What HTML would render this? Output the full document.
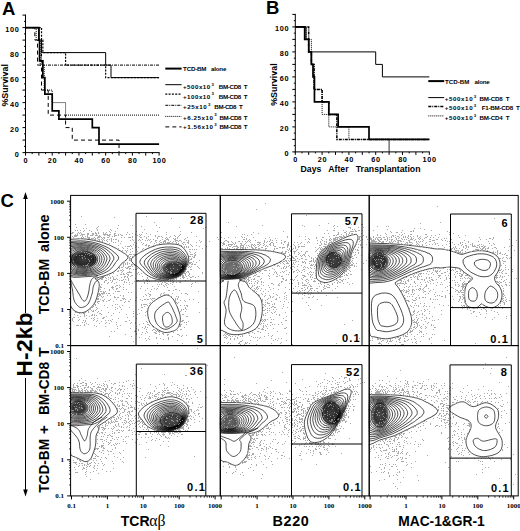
<!DOCTYPE html>
<html><head><meta charset="utf-8"><style>
html,body{margin:0;padding:0;background:#fff;}
svg{display:block;}
</style></head><body>
<svg width="520" height="531" viewBox="0 0 520 531">
<rect width="520" height="531" fill="#fff"/>
<text x="2.00" y="15.20" font-size="18.5" font-weight="bold" text-anchor="start" font-family='"Liberation Sans", sans-serif' >A</text>
<line x1="25.50" y1="14.60" x2="25.50" y2="153.10" stroke="#000" stroke-width="1" />
<line x1="25.00" y1="152.60" x2="159.60" y2="152.60" stroke="#000" stroke-width="1" />
<line x1="22.50" y1="152.60" x2="25.50" y2="152.60" stroke="#000" stroke-width="1" />
<line x1="24.00" y1="146.35" x2="25.50" y2="146.35" stroke="#000" stroke-width="1" />
<line x1="22.50" y1="140.10" x2="25.50" y2="140.10" stroke="#000" stroke-width="1" />
<line x1="24.00" y1="133.85" x2="25.50" y2="133.85" stroke="#000" stroke-width="1" />
<line x1="22.50" y1="127.60" x2="25.50" y2="127.60" stroke="#000" stroke-width="1" />
<line x1="24.00" y1="121.35" x2="25.50" y2="121.35" stroke="#000" stroke-width="1" />
<line x1="22.50" y1="115.10" x2="25.50" y2="115.10" stroke="#000" stroke-width="1" />
<line x1="24.00" y1="108.85" x2="25.50" y2="108.85" stroke="#000" stroke-width="1" />
<line x1="22.50" y1="102.60" x2="25.50" y2="102.60" stroke="#000" stroke-width="1" />
<line x1="24.00" y1="96.35" x2="25.50" y2="96.35" stroke="#000" stroke-width="1" />
<line x1="22.50" y1="90.10" x2="25.50" y2="90.10" stroke="#000" stroke-width="1" />
<line x1="24.00" y1="83.85" x2="25.50" y2="83.85" stroke="#000" stroke-width="1" />
<line x1="22.50" y1="77.60" x2="25.50" y2="77.60" stroke="#000" stroke-width="1" />
<line x1="24.00" y1="71.35" x2="25.50" y2="71.35" stroke="#000" stroke-width="1" />
<line x1="22.50" y1="65.10" x2="25.50" y2="65.10" stroke="#000" stroke-width="1" />
<line x1="24.00" y1="58.85" x2="25.50" y2="58.85" stroke="#000" stroke-width="1" />
<line x1="22.50" y1="52.60" x2="25.50" y2="52.60" stroke="#000" stroke-width="1" />
<line x1="24.00" y1="46.35" x2="25.50" y2="46.35" stroke="#000" stroke-width="1" />
<line x1="22.50" y1="40.10" x2="25.50" y2="40.10" stroke="#000" stroke-width="1" />
<line x1="24.00" y1="33.85" x2="25.50" y2="33.85" stroke="#000" stroke-width="1" />
<line x1="22.50" y1="27.60" x2="25.50" y2="27.60" stroke="#000" stroke-width="1" />
<line x1="24.00" y1="21.35" x2="25.50" y2="21.35" stroke="#000" stroke-width="1" />
<line x1="22.50" y1="15.10" x2="25.50" y2="15.10" stroke="#000" stroke-width="1" />
<text x="19.30" y="156.80" font-size="7.3" font-weight="bold" text-anchor="end" font-family='"Liberation Sans", sans-serif' letter-spacing="0.6">0</text>
<text x="19.30" y="131.80" font-size="7.3" font-weight="bold" text-anchor="end" font-family='"Liberation Sans", sans-serif' letter-spacing="0.6">20</text>
<text x="19.30" y="106.80" font-size="7.3" font-weight="bold" text-anchor="end" font-family='"Liberation Sans", sans-serif' letter-spacing="0.6">40</text>
<text x="19.30" y="81.80" font-size="7.3" font-weight="bold" text-anchor="end" font-family='"Liberation Sans", sans-serif' letter-spacing="0.6">60</text>
<text x="19.30" y="56.80" font-size="7.3" font-weight="bold" text-anchor="end" font-family='"Liberation Sans", sans-serif' letter-spacing="0.6">80</text>
<text x="19.30" y="31.80" font-size="7.3" font-weight="bold" text-anchor="end" font-family='"Liberation Sans", sans-serif' letter-spacing="0.6">100</text>
<line x1="25.50" y1="152.60" x2="25.50" y2="155.60" stroke="#000" stroke-width="1" />
<line x1="32.18" y1="152.60" x2="32.18" y2="154.10" stroke="#000" stroke-width="1" />
<line x1="38.86" y1="152.60" x2="38.86" y2="155.60" stroke="#000" stroke-width="1" />
<line x1="45.54" y1="152.60" x2="45.54" y2="154.10" stroke="#000" stroke-width="1" />
<line x1="52.22" y1="152.60" x2="52.22" y2="155.60" stroke="#000" stroke-width="1" />
<line x1="58.90" y1="152.60" x2="58.90" y2="154.10" stroke="#000" stroke-width="1" />
<line x1="65.58" y1="152.60" x2="65.58" y2="155.60" stroke="#000" stroke-width="1" />
<line x1="72.26" y1="152.60" x2="72.26" y2="154.10" stroke="#000" stroke-width="1" />
<line x1="78.94" y1="152.60" x2="78.94" y2="155.60" stroke="#000" stroke-width="1" />
<line x1="85.62" y1="152.60" x2="85.62" y2="154.10" stroke="#000" stroke-width="1" />
<line x1="92.30" y1="152.60" x2="92.30" y2="155.60" stroke="#000" stroke-width="1" />
<line x1="98.98" y1="152.60" x2="98.98" y2="154.10" stroke="#000" stroke-width="1" />
<line x1="105.66" y1="152.60" x2="105.66" y2="155.60" stroke="#000" stroke-width="1" />
<line x1="112.34" y1="152.60" x2="112.34" y2="154.10" stroke="#000" stroke-width="1" />
<line x1="119.02" y1="152.60" x2="119.02" y2="155.60" stroke="#000" stroke-width="1" />
<line x1="125.70" y1="152.60" x2="125.70" y2="154.10" stroke="#000" stroke-width="1" />
<line x1="132.38" y1="152.60" x2="132.38" y2="155.60" stroke="#000" stroke-width="1" />
<line x1="139.06" y1="152.60" x2="139.06" y2="154.10" stroke="#000" stroke-width="1" />
<line x1="145.74" y1="152.60" x2="145.74" y2="155.60" stroke="#000" stroke-width="1" />
<line x1="152.42" y1="152.60" x2="152.42" y2="154.10" stroke="#000" stroke-width="1" />
<line x1="159.10" y1="152.60" x2="159.10" y2="155.60" stroke="#000" stroke-width="1" />
<text x="25.80" y="163.00" font-size="7.3" font-weight="bold" text-anchor="middle" font-family='"Liberation Sans", sans-serif' letter-spacing="0.6">0</text>
<text x="52.52" y="163.00" font-size="7.3" font-weight="bold" text-anchor="middle" font-family='"Liberation Sans", sans-serif' letter-spacing="0.6">20</text>
<text x="79.24" y="163.00" font-size="7.3" font-weight="bold" text-anchor="middle" font-family='"Liberation Sans", sans-serif' letter-spacing="0.6">40</text>
<text x="105.96" y="163.00" font-size="7.3" font-weight="bold" text-anchor="middle" font-family='"Liberation Sans", sans-serif' letter-spacing="0.6">60</text>
<text x="132.68" y="163.00" font-size="7.3" font-weight="bold" text-anchor="middle" font-family='"Liberation Sans", sans-serif' letter-spacing="0.6">80</text>
<text x="159.40" y="163.00" font-size="7.3" font-weight="bold" text-anchor="middle" font-family='"Liberation Sans", sans-serif' letter-spacing="0.6">100</text>
<text transform="translate(8.00,85.30) rotate(-90)" font-size="8.9" font-weight="bold" text-anchor="middle" font-family='"Liberation Sans", sans-serif'>%Survival</text>
<polyline points="25.50,27.60 38.86,27.60 38.86,40.10 39.53,40.10 39.53,60.97 42.87,60.97 42.87,77.60 44.87,77.60 44.87,94.22 52.22,94.22 52.22,110.97 58.90,110.97 58.90,119.22 92.30,119.22 92.30,127.60 98.98,127.60 98.98,144.22 159.10,144.22 159.10,144.22" fill="none" stroke="#000" stroke-width="1.7" />
<polyline points="25.50,27.60 38.86,27.60 38.86,40.10 41.53,40.10 41.53,52.60 105.66,52.60 105.66,65.10 111.00,65.10 111.00,77.60 159.10,77.60 159.10,77.60" fill="none" stroke="#000" stroke-width="1" />
<polyline points="25.50,27.60 41.53,27.60 41.53,40.10 42.87,40.10 42.87,52.60 65.58,52.60 65.58,65.10 105.66,65.10 105.66,77.60 159.10,77.60 159.10,77.60" fill="none" stroke="#000" stroke-width="1.2" stroke-dasharray="2,1.3"/>
<polyline points="25.50,27.60 38.86,27.60 38.86,40.10 41.53,40.10 41.53,65.10 159.10,65.10 159.10,65.10" fill="none" stroke="#000" stroke-width="1" stroke-dasharray="3,1,1,1"/>
<polyline points="25.50,27.60 36.19,27.60 36.19,40.10 40.20,40.10 40.20,65.10 44.20,65.10 44.20,90.10 52.22,90.10 52.22,102.60 65.58,102.60 65.58,115.10 159.10,115.10 159.10,115.10" fill="none" stroke="#000" stroke-width="1" stroke-dasharray="1,1"/>
<polyline points="25.50,27.60 34.85,27.60 34.85,40.10 37.52,40.10 37.52,65.10 41.53,65.10 41.53,90.10 48.21,90.10 48.21,115.10 65.58,115.10 65.58,127.60 72.26,127.60 72.26,140.10 119.02,140.10 119.02,152.60" fill="none" stroke="#000" stroke-width="1" stroke-dasharray="4,3"/>
<line x1="165.30" y1="68.60" x2="181.60" y2="68.60" stroke="#000" stroke-width="2" />
<text x="183.10" y="71.00" font-family='"Liberation Sans", sans-serif' font-weight="bold" font-size="6.2" textLength="23.30" lengthAdjust="spacing">TCD-BM</text><text x="211.00" y="71.00" font-family='"Liberation Sans", sans-serif' font-weight="bold" font-size="6.2" textLength="15.40" lengthAdjust="spacing">alone</text>
<line x1="165.30" y1="84.70" x2="181.60" y2="84.70" stroke="#000" stroke-width="1" />
<text x="183.00" y="88.80" font-family='"Liberation Sans", sans-serif' font-weight="bold" font-size="6.2" textLength="27.20" lengthAdjust="spacing">+500x10</text><text x="211.60" y="85.60" font-family='"Liberation Sans", sans-serif' font-weight="bold" font-size="4.3">3</text><text x="218.80" y="88.80" font-family='"Liberation Sans", sans-serif' font-weight="bold" font-size="6.2" textLength="28.80" lengthAdjust="spacing">BM-CD8&#160;&#160;T</text>
<line x1="165.30" y1="94.10" x2="181.60" y2="94.10" stroke="#000" stroke-width="1.2" stroke-dasharray="2,1.3"/>
<text x="183.00" y="98.60" font-family='"Liberation Sans", sans-serif' font-weight="bold" font-size="6.2" textLength="27.20" lengthAdjust="spacing">+100x10</text><text x="211.60" y="95.40" font-family='"Liberation Sans", sans-serif' font-weight="bold" font-size="4.3">3</text><text x="218.80" y="98.60" font-family='"Liberation Sans", sans-serif' font-weight="bold" font-size="6.2" textLength="28.80" lengthAdjust="spacing">BM-CD8&#160;&#160;T</text>
<line x1="165.30" y1="105.30" x2="181.60" y2="105.30" stroke="#000" stroke-width="1" stroke-dasharray="3,1,1,1"/>
<text x="183.00" y="109.20" font-family='"Liberation Sans", sans-serif' font-weight="bold" font-size="6.2" textLength="23.70" lengthAdjust="spacing">+25x10</text><text x="207.90" y="106.00" font-family='"Liberation Sans", sans-serif' font-weight="bold" font-size="4.3">3</text><text x="214.30" y="109.20" font-family='"Liberation Sans", sans-serif' font-weight="bold" font-size="6.2" textLength="28.40" lengthAdjust="spacing">BM-CD8&#160;&#160;T</text>
<line x1="165.30" y1="116.40" x2="181.60" y2="116.40" stroke="#000" stroke-width="1" stroke-dasharray="1,1"/>
<text x="183.00" y="119.60" font-family='"Liberation Sans", sans-serif' font-weight="bold" font-size="6.2" textLength="29.90" lengthAdjust="spacing">+6.25x10</text><text x="214.20" y="116.40" font-family='"Liberation Sans", sans-serif' font-weight="bold" font-size="4.3">3</text><text x="219.50" y="119.60" font-family='"Liberation Sans", sans-serif' font-weight="bold" font-size="6.2" textLength="28.10" lengthAdjust="spacing">BM-CD8&#160;&#160;T</text>
<line x1="165.30" y1="126.90" x2="181.60" y2="126.90" stroke="#000" stroke-width="1" stroke-dasharray="4,3"/>
<text x="183.00" y="129.30" font-family='"Liberation Sans", sans-serif' font-weight="bold" font-size="6.2" textLength="29.90" lengthAdjust="spacing">+1.56x10</text><text x="214.20" y="126.10" font-family='"Liberation Sans", sans-serif' font-weight="bold" font-size="4.3">3</text><text x="219.50" y="129.30" font-family='"Liberation Sans", sans-serif' font-weight="bold" font-size="6.2" textLength="28.10" lengthAdjust="spacing">BM-CD8&#160;&#160;T</text>
<text x="266.00" y="14.40" font-size="18.5" font-weight="bold" text-anchor="start" font-family='"Liberation Sans", sans-serif' >B</text>
<line x1="295.30" y1="13.90" x2="295.30" y2="152.40" stroke="#000" stroke-width="1" />
<line x1="294.80" y1="151.90" x2="429.80" y2="151.90" stroke="#000" stroke-width="1" />
<line x1="292.30" y1="151.90" x2="295.30" y2="151.90" stroke="#000" stroke-width="1" />
<line x1="293.80" y1="145.65" x2="295.30" y2="145.65" stroke="#000" stroke-width="1" />
<line x1="292.30" y1="139.40" x2="295.30" y2="139.40" stroke="#000" stroke-width="1" />
<line x1="293.80" y1="133.15" x2="295.30" y2="133.15" stroke="#000" stroke-width="1" />
<line x1="292.30" y1="126.90" x2="295.30" y2="126.90" stroke="#000" stroke-width="1" />
<line x1="293.80" y1="120.65" x2="295.30" y2="120.65" stroke="#000" stroke-width="1" />
<line x1="292.30" y1="114.40" x2="295.30" y2="114.40" stroke="#000" stroke-width="1" />
<line x1="293.80" y1="108.15" x2="295.30" y2="108.15" stroke="#000" stroke-width="1" />
<line x1="292.30" y1="101.90" x2="295.30" y2="101.90" stroke="#000" stroke-width="1" />
<line x1="293.80" y1="95.65" x2="295.30" y2="95.65" stroke="#000" stroke-width="1" />
<line x1="292.30" y1="89.40" x2="295.30" y2="89.40" stroke="#000" stroke-width="1" />
<line x1="293.80" y1="83.15" x2="295.30" y2="83.15" stroke="#000" stroke-width="1" />
<line x1="292.30" y1="76.90" x2="295.30" y2="76.90" stroke="#000" stroke-width="1" />
<line x1="293.80" y1="70.65" x2="295.30" y2="70.65" stroke="#000" stroke-width="1" />
<line x1="292.30" y1="64.40" x2="295.30" y2="64.40" stroke="#000" stroke-width="1" />
<line x1="293.80" y1="58.15" x2="295.30" y2="58.15" stroke="#000" stroke-width="1" />
<line x1="292.30" y1="51.90" x2="295.30" y2="51.90" stroke="#000" stroke-width="1" />
<line x1="293.80" y1="45.65" x2="295.30" y2="45.65" stroke="#000" stroke-width="1" />
<line x1="292.30" y1="39.40" x2="295.30" y2="39.40" stroke="#000" stroke-width="1" />
<line x1="293.80" y1="33.15" x2="295.30" y2="33.15" stroke="#000" stroke-width="1" />
<line x1="292.30" y1="26.90" x2="295.30" y2="26.90" stroke="#000" stroke-width="1" />
<line x1="293.80" y1="20.65" x2="295.30" y2="20.65" stroke="#000" stroke-width="1" />
<line x1="292.30" y1="14.40" x2="295.30" y2="14.40" stroke="#000" stroke-width="1" />
<text x="289.10" y="156.10" font-size="7.3" font-weight="bold" text-anchor="end" font-family='"Liberation Sans", sans-serif' letter-spacing="0.6">0</text>
<text x="289.10" y="131.10" font-size="7.3" font-weight="bold" text-anchor="end" font-family='"Liberation Sans", sans-serif' letter-spacing="0.6">20</text>
<text x="289.10" y="106.10" font-size="7.3" font-weight="bold" text-anchor="end" font-family='"Liberation Sans", sans-serif' letter-spacing="0.6">40</text>
<text x="289.10" y="81.10" font-size="7.3" font-weight="bold" text-anchor="end" font-family='"Liberation Sans", sans-serif' letter-spacing="0.6">60</text>
<text x="289.10" y="56.10" font-size="7.3" font-weight="bold" text-anchor="end" font-family='"Liberation Sans", sans-serif' letter-spacing="0.6">80</text>
<text x="289.10" y="31.10" font-size="7.3" font-weight="bold" text-anchor="end" font-family='"Liberation Sans", sans-serif' letter-spacing="0.6">100</text>
<line x1="295.30" y1="151.90" x2="295.30" y2="154.90" stroke="#000" stroke-width="1" />
<line x1="302.00" y1="151.90" x2="302.00" y2="153.40" stroke="#000" stroke-width="1" />
<line x1="308.70" y1="151.90" x2="308.70" y2="154.90" stroke="#000" stroke-width="1" />
<line x1="315.40" y1="151.90" x2="315.40" y2="153.40" stroke="#000" stroke-width="1" />
<line x1="322.10" y1="151.90" x2="322.10" y2="154.90" stroke="#000" stroke-width="1" />
<line x1="328.80" y1="151.90" x2="328.80" y2="153.40" stroke="#000" stroke-width="1" />
<line x1="335.50" y1="151.90" x2="335.50" y2="154.90" stroke="#000" stroke-width="1" />
<line x1="342.20" y1="151.90" x2="342.20" y2="153.40" stroke="#000" stroke-width="1" />
<line x1="348.90" y1="151.90" x2="348.90" y2="154.90" stroke="#000" stroke-width="1" />
<line x1="355.60" y1="151.90" x2="355.60" y2="153.40" stroke="#000" stroke-width="1" />
<line x1="362.30" y1="151.90" x2="362.30" y2="154.90" stroke="#000" stroke-width="1" />
<line x1="369.00" y1="151.90" x2="369.00" y2="153.40" stroke="#000" stroke-width="1" />
<line x1="375.70" y1="151.90" x2="375.70" y2="154.90" stroke="#000" stroke-width="1" />
<line x1="382.40" y1="151.90" x2="382.40" y2="153.40" stroke="#000" stroke-width="1" />
<line x1="389.10" y1="151.90" x2="389.10" y2="154.90" stroke="#000" stroke-width="1" />
<line x1="395.80" y1="151.90" x2="395.80" y2="153.40" stroke="#000" stroke-width="1" />
<line x1="402.50" y1="151.90" x2="402.50" y2="154.90" stroke="#000" stroke-width="1" />
<line x1="409.20" y1="151.90" x2="409.20" y2="153.40" stroke="#000" stroke-width="1" />
<line x1="415.90" y1="151.90" x2="415.90" y2="154.90" stroke="#000" stroke-width="1" />
<line x1="422.60" y1="151.90" x2="422.60" y2="153.40" stroke="#000" stroke-width="1" />
<line x1="429.30" y1="151.90" x2="429.30" y2="154.90" stroke="#000" stroke-width="1" />
<text x="295.60" y="162.30" font-size="7.3" font-weight="bold" text-anchor="middle" font-family='"Liberation Sans", sans-serif' letter-spacing="0.6">0</text>
<text x="322.40" y="162.30" font-size="7.3" font-weight="bold" text-anchor="middle" font-family='"Liberation Sans", sans-serif' letter-spacing="0.6">20</text>
<text x="349.20" y="162.30" font-size="7.3" font-weight="bold" text-anchor="middle" font-family='"Liberation Sans", sans-serif' letter-spacing="0.6">40</text>
<text x="376.00" y="162.30" font-size="7.3" font-weight="bold" text-anchor="middle" font-family='"Liberation Sans", sans-serif' letter-spacing="0.6">60</text>
<text x="402.80" y="162.30" font-size="7.3" font-weight="bold" text-anchor="middle" font-family='"Liberation Sans", sans-serif' letter-spacing="0.6">80</text>
<text x="429.60" y="162.30" font-size="7.3" font-weight="bold" text-anchor="middle" font-family='"Liberation Sans", sans-serif' letter-spacing="0.6">100</text>
<text transform="translate(277.20,84.60) rotate(-90)" font-size="8.9" font-weight="bold" text-anchor="middle" font-family='"Liberation Sans", sans-serif'>%Survival</text>
<polyline points="295.30,26.90 304.68,26.90 304.68,39.40 308.70,39.40 308.70,51.90 311.38,51.90 311.38,64.40 312.99,64.40 312.99,76.90 314.46,76.90 314.46,101.90 328.80,101.90 328.80,114.40 338.18,114.40 338.18,126.90 369.00,126.90 369.00,139.40 429.30,139.40 429.30,139.40" fill="none" stroke="#000" stroke-width="1.7" />
<polyline points="295.30,26.90 306.02,26.90 306.02,39.40 308.70,39.40 308.70,51.90 375.70,51.90 375.70,64.40 382.40,64.40 382.40,76.90 429.30,76.90 429.30,76.90" fill="none" stroke="#000" stroke-width="1" />
<polyline points="295.30,26.90 308.70,26.90 308.70,51.90 311.38,51.90 311.38,64.40 314.06,64.40 314.06,89.40 322.10,89.40 322.10,101.90 328.80,101.90 328.80,114.40 336.84,114.40 336.84,139.40 429.30,139.40 429.30,139.40" fill="none" stroke="#000" stroke-width="1.5" stroke-dasharray="3,1,1,1"/>
<polyline points="295.30,26.90 306.02,26.90 306.02,39.40 311.38,39.40 311.38,64.40 314.06,64.40 314.06,89.40 322.10,89.40 322.10,114.40 328.80,114.40 328.80,126.90 348.90,126.90 348.90,139.40 389.10,139.40 389.10,139.40" fill="none" stroke="#000" stroke-width="1" stroke-dasharray="1,1"/>
<polyline points="389.10,139.40 389.10,151.90" fill="none" stroke="#000" stroke-width="0.8" />
<line x1="428.30" y1="81.10" x2="444.20" y2="81.10" stroke="#000" stroke-width="2" />
<text x="445.10" y="84.10" font-family='"Liberation Sans", sans-serif' font-weight="bold" font-size="6.2" textLength="24.20" lengthAdjust="spacing">TCD-BM</text><text x="474.40" y="84.10" font-family='"Liberation Sans", sans-serif' font-weight="bold" font-size="6.2" textLength="15.40" lengthAdjust="spacing">alone</text>
<line x1="428.30" y1="97.60" x2="444.20" y2="97.60" stroke="#000" stroke-width="1" />
<text x="444.70" y="101.10" font-family='"Liberation Sans", sans-serif' font-weight="bold" font-size="6.2" textLength="27.90" lengthAdjust="spacing">+500x10</text><text x="473.80" y="97.90" font-family='"Liberation Sans", sans-serif' font-weight="bold" font-size="4.3">3</text><text x="479.50" y="101.10" font-family='"Liberation Sans", sans-serif' font-weight="bold" font-size="6.2" textLength="30.00" lengthAdjust="spacing">BM-CD8&#160;&#160;T</text>
<line x1="428.30" y1="106.40" x2="444.20" y2="106.40" stroke="#000" stroke-width="1.5" stroke-dasharray="3,1,1,1"/>
<text x="444.70" y="109.70" font-family='"Liberation Sans", sans-serif' font-weight="bold" font-size="6.2" textLength="27.90" lengthAdjust="spacing">+500x10</text><text x="473.80" y="106.50" font-family='"Liberation Sans", sans-serif' font-weight="bold" font-size="4.3">3</text><text x="481.70" y="109.70" font-family='"Liberation Sans", sans-serif' font-weight="bold" font-size="6.2" textLength="38.20" lengthAdjust="spacing">F1-BM-CD8&#160;&#160;T</text>
<line x1="428.30" y1="115.90" x2="444.20" y2="115.90" stroke="#000" stroke-width="1" stroke-dasharray="1,1"/>
<text x="444.70" y="119.80" font-family='"Liberation Sans", sans-serif' font-weight="bold" font-size="6.2" textLength="27.90" lengthAdjust="spacing">+500x10</text><text x="473.80" y="116.60" font-family='"Liberation Sans", sans-serif' font-weight="bold" font-size="4.3">3</text><text x="479.50" y="119.80" font-family='"Liberation Sans", sans-serif' font-weight="bold" font-size="6.2" textLength="30.00" lengthAdjust="spacing">BM-CD4&#160;&#160;T</text>
<text x="300.6" y="171.8" font-family='"Liberation Sans", sans-serif' font-weight="bold" font-size="8.7" xml:space="preserve">Days   After   Transplantation</text>
<defs><clipPath id="facsclip"><rect x="71.1" y="195.9" width="446.6" height="299.1"/></clipPath></defs>
<defs><radialGradient id="cg0"><stop offset="0" stop-color="#262626" stop-opacity="0.9"/><stop offset="0.6" stop-color="#262626" stop-opacity="1"/><stop offset="0.85" stop-color="#262626" stop-opacity="0.75"/><stop offset="1" stop-color="#262626" stop-opacity="0"/></radialGradient></defs>
<ellipse cx="83.5" cy="259.5" rx="14.85" ry="9.35" fill="url(#cg0)" clip-path="url(#facsclip)"/>
<defs><radialGradient id="cg1"><stop offset="0" stop-color="#333" stop-opacity="0.9"/><stop offset="0.6" stop-color="#333" stop-opacity="1"/><stop offset="0.85" stop-color="#333" stop-opacity="0.75"/><stop offset="1" stop-color="#333" stop-opacity="0"/></radialGradient></defs>
<ellipse cx="173.5" cy="268" rx="11.55" ry="7.15" fill="url(#cg1)" clip-path="url(#facsclip)"/>
<defs><radialGradient id="cg2"><stop offset="0" stop-color="#666" stop-opacity="0.9"/><stop offset="0.6" stop-color="#666" stop-opacity="1"/><stop offset="0.85" stop-color="#666" stop-opacity="0.75"/><stop offset="1" stop-color="#666" stop-opacity="0"/></radialGradient></defs>
<ellipse cx="232" cy="268" rx="11.00" ry="8.80" fill="url(#cg2)" clip-path="url(#facsclip)"/>
<ellipse cx="333.75" cy="260.0" rx="8.80" ry="8.80" fill="url(#cg1)" clip-path="url(#facsclip)"/>
<defs><radialGradient id="cg3"><stop offset="0" stop-color="#2a2a2a" stop-opacity="0.9"/><stop offset="0.6" stop-color="#2a2a2a" stop-opacity="1"/><stop offset="0.85" stop-color="#2a2a2a" stop-opacity="0.75"/><stop offset="1" stop-color="#2a2a2a" stop-opacity="0"/></radialGradient></defs>
<ellipse cx="379" cy="261.5" rx="10.45" ry="9.90" fill="url(#cg3)" clip-path="url(#facsclip)"/>
<ellipse cx="78.5" cy="408" rx="9.90" ry="7.70" fill="url(#cg1)" clip-path="url(#facsclip)"/>
<defs><radialGradient id="cg4"><stop offset="0" stop-color="#3a3a3a" stop-opacity="0.9"/><stop offset="0.6" stop-color="#3a3a3a" stop-opacity="1"/><stop offset="0.85" stop-color="#3a3a3a" stop-opacity="0.75"/><stop offset="1" stop-color="#3a3a3a" stop-opacity="0"/></radialGradient></defs>
<ellipse cx="172" cy="420.5" rx="13.20" ry="8.80" fill="url(#cg4)" clip-path="url(#facsclip)"/>
<defs><radialGradient id="cg5"><stop offset="0" stop-color="#555" stop-opacity="0.9"/><stop offset="0.6" stop-color="#555" stop-opacity="1"/><stop offset="0.85" stop-color="#555" stop-opacity="0.75"/><stop offset="1" stop-color="#555" stop-opacity="0"/></radialGradient></defs>
<ellipse cx="230" cy="422" rx="9.90" ry="8.25" fill="url(#cg5)" clip-path="url(#facsclip)"/>
<ellipse cx="331.3" cy="413.0" rx="10.45" ry="12.65" fill="url(#cg3)" clip-path="url(#facsclip)"/>
<ellipse cx="380" cy="415" rx="9.35" ry="13.75" fill="url(#cg1)" clip-path="url(#facsclip)"/>
<path d="M165.0,295.2 163.7,295.6 162.1,296.3 160.4,297.1 158.6,298.1 156.9,299.2 155.2,300.3 153.7,301.4 152.5,302.4 151.5,303.4 150.6,304.4 149.8,305.4 149.1,306.4 148.6,307.5 148.2,308.6 147.9,309.8 147.7,311.1 147.6,312.5 147.7,314.1 147.9,315.7 148.2,317.4 148.6,319.1 149.2,320.7 149.8,322.2 150.6,323.6 151.6,324.8 152.8,326.0 154.1,327.1 155.6,328.2 157.1,329.1 158.6,330.0 160.0,330.7 161.2,331.3 162.3,331.8 163.3,332.1 164.2,332.3 165.1,332.5 166.0,332.5 166.9,332.5 167.8,332.4 168.8,332.2 169.9,332.0 171.0,331.7 172.2,331.4 173.4,331.0 174.6,330.5 175.7,329.9 176.7,329.2 177.5,328.4 178.2,327.4 178.8,326.3 179.3,325.0 179.7,323.6 180.1,322.2 180.3,320.7 180.4,319.3 180.4,317.8 180.2,316.3 179.9,314.7 179.5,313.0 178.9,311.4 178.3,309.7 177.7,308.1 177.1,306.6 176.5,305.3 176.0,304.1 175.4,302.9 174.8,301.8 174.3,300.8 173.7,299.9 173.1,299.0 172.4,298.3 171.7,297.6 171.0,297.0 170.3,296.4 169.6,295.9 168.8,295.5 168.0,295.2 167.1,295.0 166.1,295.0Z M166.9,302.4 165.7,303.0 164.3,303.9 162.6,305.0 160.8,306.3 159.1,307.7 157.5,309.2 156.3,310.6 155.4,312.0 154.9,313.4 154.7,314.9 154.6,316.5 154.8,318.0 155.1,319.6 155.6,321.1 156.2,322.4 156.8,323.6 157.6,324.7 158.5,325.7 159.6,326.7 160.8,327.6 162.1,328.3 163.4,328.9 164.7,329.2 166.0,329.3 167.3,329.1 168.8,328.5 170.3,327.7 171.9,326.7 173.3,325.7 174.6,324.6 175.7,323.5 176.5,322.6 177.0,321.8 177.2,321.0 177.2,320.3 177.0,319.5 176.7,318.7 176.4,317.8 176.0,316.9 175.6,315.9 175.2,314.7 174.7,313.3 174.0,311.9 173.4,310.4 172.7,308.9 172.0,307.5 171.4,306.3 170.8,305.3 170.3,304.5 169.9,303.7 169.6,303.1 169.3,302.6 168.9,302.2 168.4,302.1 167.7,302.1Z M166.9,312.5 166.3,312.7 165.7,313.0 165.1,313.4 164.4,314.0 163.8,314.6 163.3,315.3 162.9,316.0 162.6,316.8 162.5,317.7 162.5,318.8 162.6,320.1 162.8,321.3 163.0,322.6 163.3,323.7 163.7,324.7 164.0,325.5 164.4,326.1 164.8,326.5 165.3,326.8 165.8,327.0 166.3,327.1 166.8,327.1 167.4,327.0 167.9,326.9 168.5,326.7 169.1,326.3 169.7,325.9 170.4,325.3 171.0,324.7 171.5,324.0 171.9,323.3 172.2,322.6 172.3,321.8 172.3,320.8 172.2,319.7 172.0,318.6 171.8,317.5 171.5,316.5 171.1,315.6 170.8,314.9 170.4,314.3 170.0,313.8 169.5,313.3 169.0,312.9 168.5,312.7 168.0,312.5 167.4,312.4Z M70.6,281.0 70.8,282.1 71.1,283.2 71.3,284.3 71.6,285.4 71.8,286.6 72.1,287.7 72.3,288.8 72.5,290.0 72.7,291.2 72.8,292.5 73.0,293.9 73.1,295.2 73.3,296.5 73.5,297.8 73.7,298.9 74.0,300.0 74.4,301.0 74.8,301.9 75.3,302.7 75.8,303.5 76.4,304.3 76.9,304.9 77.5,305.5 78.0,306.0 78.5,306.4 79.0,306.8 79.4,307.1 79.9,307.3 80.4,307.5 80.9,307.6 81.4,307.6 82.0,307.5 82.7,307.3 83.4,307.1 84.2,306.8 85.0,306.5 85.8,306.0 86.6,305.4 87.3,304.8 88.0,304.0 88.6,303.0 89.2,301.9 89.8,300.6 90.3,299.3 90.8,297.9 91.2,296.5 91.6,295.2 92.0,294.0 92.3,292.9 92.5,291.8 92.7,290.7 92.8,289.7 92.9,288.7 93.0,287.8 93.2,286.9 93.5,286.0 93.8,285.2 94.2,284.4 94.5,283.7 94.9,283.0 95.3,282.3 95.8,281.7 96.4,281.1 97.0,280.5 97.7,280.0 98.5,279.5 99.4,279.0 100.3,278.6 101.2,278.2 102.2,277.8 103.1,277.4 104.0,277.0 M70.6,279.5 71.0,280.3 71.4,281.0 71.8,281.7 72.2,282.5 72.6,283.2 73.0,284.0 73.5,284.8 74.0,285.7 74.6,286.6 75.2,287.7 75.8,288.7 76.5,289.8 77.1,290.9 77.8,292.0 78.4,293.0 79.0,294.0 79.6,294.9 80.1,295.9 80.6,296.9 81.1,297.8 81.6,298.7 82.1,299.4 82.6,300.0 83.0,300.5 83.4,300.8 83.8,301.0 84.2,301.1 84.6,301.1 85.0,301.0 85.3,300.7 85.7,300.4 86.0,300.0 86.3,299.4 86.7,298.7 87.0,297.9 87.4,297.0 87.7,296.0 88.0,295.0 88.2,294.0 88.5,293.0 88.7,292.0 88.9,291.0 89.0,290.0 89.2,288.9 89.3,287.9 89.4,286.9 89.6,285.9 89.8,285.0 90.0,284.1 90.2,283.3 90.4,282.5 90.6,281.7 90.9,281.0 91.2,280.3 91.5,279.6 92.0,279.0 92.6,278.4 93.2,277.9 94.0,277.5 94.8,277.1 95.6,276.7 96.4,276.3 97.2,275.9 98.0,275.5 M70.6,238.9 70.6,239.2 71.0,239.3 80.8,238.7 86.4,239.1 94.5,240.4 102.1,242.4 107.1,244.2 107.4,244.4 108.5,244.7 110.6,245.6 114.8,247.8 115.1,247.8 116.5,248.7 116.9,248.8 117.6,249.4 117.9,249.4 118.6,250.0 119.0,250.0 120.0,250.9 120.4,250.9 121.8,251.9 122.1,251.9 124.2,253.5 124.6,253.5 125.7,254.3 127.5,256.1 127.8,256.8 127.9,257.4 127.8,258.2 127.0,259.2 126.1,259.9 126.1,260.2 123.5,262.1 123.2,262.1 122.5,262.7 120.4,265.2 120.0,265.4 119.0,266.9 116.9,269.3 113.8,271.8 111.3,273.2 108.5,274.3 108.1,274.6 106.8,275.0 106.4,275.2 100.1,277.1 96.2,278.0 95.2,278.4 95.2,278.9 96.9,280.1 98.0,281.1 98.6,281.9 99.1,283.4 99.3,284.8 99.2,286.5 98.6,290.7 97.0,297.0 95.9,300.1 95.0,302.2 93.8,304.3 92.4,306.1 90.8,307.9 88.9,309.5 86.2,311.4 84.0,312.3 81.5,312.8 78.8,312.7 77.0,312.1 74.9,311.0 72.6,309.2 70.6,305.8 M70.6,280.2 70.6,279.9 70.6,279.4 M70.6,241.0 71.4,241.3 80.5,240.8 86.1,241.2 92.4,242.1 99.0,243.9 105.0,246.3 108.8,248.3 111.6,250.2 114.8,252.9 115.1,253.0 117.2,255.0 118.2,256.4 118.5,257.1 118.6,258.1 118.5,258.9 117.1,260.9 116.5,261.4 115.5,262.7 113.0,266.5 110.9,268.9 108.8,270.6 106.4,272.0 103.6,273.4 101.5,274.2 98.3,275.2 95.2,275.9 88.9,276.5 76.6,277.3 73.1,277.2 70.6,276.7 M70.6,242.3 71.0,242.6 79.1,242.1 84.0,242.3 87.1,242.7 91.0,243.3 94.5,244.1 96.9,244.8 102.2,246.9 106.0,249.1 108.1,250.7 109.9,252.2 112.0,254.3 113.2,256.1 113.7,257.1 113.9,258.1 113.8,259.2 113.3,260.2 111.9,262.4 109.6,266.2 108.1,267.9 106.1,269.7 104.6,270.7 102.2,272.0 99.8,273.0 96.9,274.0 94.1,274.7 87.5,275.4 76.6,276.0 73.1,275.8 70.6,275.1 M70.6,243.9 72.8,243.9 79.8,243.4 83.6,243.6 87.5,244.0 90.6,244.5 95.9,246.0 98.7,247.1 101.2,248.3 102.9,249.4 106.0,251.8 109.0,255.3 109.7,256.8 110.1,258.5 109.8,259.9 108.3,263.1 107.2,265.1 105.6,267.2 104.3,268.5 102.5,269.8 100.2,271.1 96.9,272.5 93.8,273.4 90.6,274.0 80.5,274.8 75.6,274.7 70.6,273.6 M70.6,245.8 70.7,245.3 77.0,244.7 82.6,244.6 88.9,245.4 91.7,246.0 94.8,247.0 97.3,248.0 100.1,249.6 102.2,251.1 103.2,252.1 105.3,254.5 106.3,256.1 106.8,257.4 107.0,258.9 106.8,259.9 105.5,263.1 104.6,264.8 102.9,267.0 101.5,268.3 99.8,269.5 96.9,271.0 94.8,271.8 91.3,272.7 88.9,273.1 84.3,273.5 79.1,273.7 74.5,273.4 70.6,272.5 70.6,271.8 M70.6,247.9 70.6,247.2 71.0,246.7 76.3,245.9 79.1,245.7 82.2,245.7 85.4,245.9 88.5,246.4 92.0,247.3 94.5,248.2 96.9,249.4 100.1,251.6 101.8,253.3 103.1,255.0 104.1,257.1 104.4,258.9 104.1,260.6 103.0,263.4 101.5,265.9 100.4,266.9 98.3,268.6 96.6,269.7 94.1,270.8 92.0,271.4 89.2,272.1 85.8,272.5 81.5,272.7 78.4,272.7 75.2,272.4 72.1,271.6 70.6,270.9 70.6,270.0 M70.6,250.5 70.6,249.1 71.8,248.1 74.2,247.4 77.0,247.0 79.8,246.7 82.6,246.8 86.1,247.1 89.2,247.7 91.7,248.5 94.1,249.5 96.2,250.7 97.8,251.8 99.6,253.6 100.8,255.3 101.6,257.1 101.9,258.9 101.7,260.6 100.9,263.1 99.6,265.1 98.7,266.2 96.6,268.0 94.5,269.2 92.0,270.2 89.9,270.8 87.1,271.3 83.3,271.7 80.1,271.8 77.0,271.6 73.8,270.9 71.8,270.1 70.6,268.8 70.6,267.7 M70.6,253.2 70.6,251.6 71.0,250.2 72.4,249.3 74.2,248.6 77.0,248.0 80.1,247.7 83.3,247.8 86.8,248.2 89.2,248.8 91.9,249.8 94.5,251.1 96.2,252.4 97.7,253.9 98.9,255.7 99.6,257.4 99.8,259.2 99.6,260.9 99.0,262.7 97.8,264.8 96.5,266.2 94.2,267.9 92.4,268.9 89.9,269.8 87.5,270.4 84.7,270.7 81.2,270.9 78.4,270.8 75.9,270.3 73.1,269.4 71.4,268.4 70.6,266.9 70.6,265.1 M70.6,258.5 70.6,256.1 70.6,253.9 71.2,252.2 72.8,250.8 74.5,249.9 76.6,249.2 78.8,248.9 81.9,248.7 85.4,249.0 88.2,249.6 90.7,250.4 93.2,251.8 95.3,253.6 96.6,255.3 97.6,257.4 97.8,259.2 97.5,261.3 96.7,263.4 95.4,265.1 93.8,266.6 91.0,268.3 88.5,269.1 85.8,269.7 82.6,270.0 79.4,269.9 77.0,269.5 74.9,268.8 72.6,267.6 71.1,266.2 70.6,264.4 70.6,262.4 70.6,260.0 M84.0,269.0 81.5,269.1 79.4,268.9 77.7,268.6 75.9,268.0 74.4,267.2 73.0,266.2 71.8,264.8 71.0,263.6 70.6,261.8 70.6,259.9 70.6,258.1 70.6,256.4 71.3,254.7 72.3,253.2 73.5,252.1 74.9,251.2 77.3,250.2 80.1,249.8 83.3,249.7 86.4,250.2 89.2,251.1 91.7,252.4 93.5,253.9 95.0,256.1 95.8,258.1 95.8,260.2 95.5,261.6 95.1,262.7 93.8,264.6 91.7,266.5 89.7,267.6 86.8,268.6 84.0,269.0 M85.0,268.0 82.9,268.2 80.8,268.1 79.1,267.9 77.3,267.3 75.9,266.7 74.7,265.9 73.6,264.8 72.6,263.4 71.9,262.0 71.6,260.6 71.5,258.9 71.8,257.4 72.2,256.1 73.1,254.5 74.2,253.4 75.6,252.3 78.0,251.3 80.1,250.8 82.9,250.7 85.4,251.0 87.5,251.6 89.6,252.6 91.7,254.2 92.9,255.7 93.7,257.4 94.0,259.6 93.6,261.6 92.8,263.4 91.6,264.8 89.8,266.2 87.7,267.2 85.0,268.0 M165.9,279.9 162.0,280.0 157.5,279.4 155.0,278.8 151.5,277.6 148.0,275.9 144.9,273.5 142.7,271.4 142.1,270.8 140.8,269.7 139.6,268.3 138.9,268.0 137.2,266.4 133.3,263.7 133.0,263.1 131.9,262.0 131.4,261.3 131.2,259.9 131.6,258.8 132.6,257.4 133.0,257.3 134.4,256.0 134.8,255.9 135.4,255.3 135.8,255.2 136.8,254.3 137.9,253.9 138.6,253.3 139.6,252.9 140.3,252.3 142.4,251.2 143.1,251.0 144.2,250.3 147.3,248.7 150.5,247.3 157.5,245.0 163.1,244.1 169.4,243.8 174.3,244.1 176.8,244.4 178.6,244.8 180.6,245.8 182.7,247.3 184.6,249.4 186.8,252.6 188.1,255.3 188.7,258.1 188.7,260.6 188.0,263.4 186.9,266.4 185.2,270.1 183.7,272.5 182.0,274.4 180.0,276.0 177.4,277.3 173.9,278.5 169.8,279.4 165.9,279.9 M167.3,278.8 165.2,279.0 161.7,278.7 157.8,278.0 153.3,276.2 149.8,274.0 145.5,269.7 143.6,267.2 143.0,266.9 142.2,265.9 141.7,265.5 140.5,263.8 139.9,262.4 139.9,261.3 140.6,259.6 141.4,258.5 143.8,256.1 145.9,254.5 148.8,252.6 151.2,251.3 155.8,249.2 157.8,248.5 161.0,247.7 166.2,247.0 172.5,247.1 175.3,247.5 177.1,247.9 178.8,248.5 180.6,249.5 182.3,251.1 184.2,253.2 185.7,255.3 186.7,257.8 187.2,259.9 187.1,262.7 186.5,265.5 185.3,268.3 184.2,270.4 182.5,272.9 180.9,274.5 179.5,275.5 177.4,276.6 174.3,277.6 170.1,278.5 167.3,278.8 M168.3,278.2 164.8,278.2 162.0,277.9 159.2,277.3 155.4,275.8 154.3,275.2 152.9,274.3 151.2,272.9 149.5,271.1 147.5,268.6 145.2,265.5 144.5,264.1 144.2,262.7 144.6,260.9 145.2,259.9 147.3,257.4 151.5,254.1 154.1,252.6 156.1,251.6 159.9,250.2 162.0,249.7 165.2,249.2 170.8,249.0 173.9,249.3 176.0,249.7 177.4,250.1 179.2,250.9 182.0,253.1 183.6,255.0 185.1,257.4 185.7,258.9 186.2,260.9 186.3,262.7 186.0,265.1 185.2,267.2 183.9,270.1 182.7,271.9 181.3,273.5 179.9,274.7 178.5,275.6 176.4,276.5 173.9,277.2 171.1,277.8 168.3,278.2 M169.8,277.4 164.8,277.5 161.7,277.0 159.6,276.4 155.8,274.5 154.0,273.3 152.8,272.1 150.3,269.0 148.3,265.5 147.8,264.1 147.8,262.7 148.5,260.9 149.7,259.2 151.7,257.1 155.1,254.7 158.9,252.8 161.7,251.9 164.1,251.3 168.0,250.9 172.5,251.0 176.4,251.7 178.1,252.4 179.5,253.2 182.0,255.3 183.2,256.8 184.3,258.5 184.9,259.9 185.5,262.0 185.6,264.1 185.4,265.5 184.6,267.6 183.6,269.7 182.5,271.4 181.3,272.9 179.9,274.2 178.5,275.1 176.8,275.9 174.6,276.6 169.8,277.4 M171.5,276.7 169.0,277.0 165.9,276.9 162.4,276.3 158.5,274.8 156.8,273.7 154.7,271.9 153.5,270.4 151.8,267.6 151.0,265.9 150.7,264.1 150.9,262.7 151.6,261.3 152.5,259.9 154.0,258.3 157.1,255.9 160.6,254.2 164.5,253.1 168.0,252.6 172.5,252.6 174.6,252.9 176.4,253.4 178.8,254.5 180.4,255.7 181.6,256.9 183.0,258.7 184.0,260.2 184.5,261.6 184.9,263.4 185.0,265.5 183.5,269.0 181.6,271.9 180.2,273.4 178.8,274.5 177.8,275.1 175.7,275.8 171.5,276.7 M170.4,276.4 167.6,276.4 165.2,276.2 162.8,275.6 160.6,274.7 158.6,273.6 156.8,272.1 155.8,270.9 154.3,268.7 153.5,266.6 153.2,265.1 153.3,263.8 153.6,262.5 154.8,260.6 155.8,259.5 157.8,257.7 159.6,256.6 162.4,255.4 165.9,254.4 170.1,254.0 173.9,254.3 177.1,255.2 179.2,256.4 181.3,258.2 183.0,260.5 184.1,262.9 184.5,265.5 183.1,269.0 181.3,271.8 179.6,273.6 177.8,274.7 174.3,275.8 170.4,276.4 M172.5,275.7 170.1,275.9 168.0,275.9 164.1,275.2 162.4,274.5 160.6,273.6 158.9,272.3 158.1,271.4 157.0,270.1 156.1,268.3 155.6,266.6 155.5,264.8 155.8,263.4 156.3,262.4 157.3,260.9 158.5,259.7 161.0,258.0 164.1,256.6 166.9,255.9 171.1,255.5 174.3,255.9 176.8,256.6 179.2,257.9 181.4,259.9 182.3,261.1 183.2,262.7 183.9,264.4 184.1,265.5 183.6,266.9 182.3,269.7 180.5,272.1 179.2,273.4 178.1,274.2 175.7,275.1 172.5,275.7 M172.2,275.3 168.3,275.3 164.8,274.6 161.8,273.2 160.4,272.1 159.1,270.8 158.4,269.7 157.7,267.9 157.4,266.6 157.4,265.1 157.8,263.8 158.6,262.4 159.8,260.9 161.0,259.9 163.4,258.5 166.6,257.4 169.4,257.0 172.9,257.0 175.3,257.4 177.8,258.4 180.0,259.9 182.0,262.0 183.2,264.1 183.6,265.9 182.3,269.0 180.7,271.4 179.2,273.0 177.4,274.2 175.0,274.9 172.2,275.3 M174.6,274.6 171.1,274.9 167.6,274.6 165.9,274.2 164.4,273.6 162.8,272.6 161.7,271.8 161.0,271.1 160.1,269.7 159.6,268.6 159.2,267.2 159.2,265.9 159.5,264.8 160.2,263.4 161.0,262.4 162.5,260.9 164.8,259.6 167.6,258.7 170.4,258.3 173.2,258.3 176.0,258.9 178.1,259.8 180.2,261.3 181.8,263.1 183.0,265.1 183.2,265.9 182.7,267.2 181.1,270.4 179.2,272.6 177.4,273.9 174.6,274.6 M174.6,274.3 171.1,274.4 167.6,273.9 164.9,272.9 163.0,271.4 162.1,270.4 161.5,269.4 161.1,268.3 161.0,266.9 161.1,265.9 161.5,264.8 162.7,263.1 164.5,261.6 166.9,260.4 169.4,259.8 171.8,259.6 174.3,259.8 176.8,260.4 178.8,261.5 180.6,262.8 182.0,264.4 182.8,265.9 181.5,269.0 179.9,271.4 178.5,272.9 177.1,273.7 174.6,274.3 M174.3,273.9 171.5,274.0 168.7,273.5 166.2,272.6 164.3,271.1 163.1,269.4 162.7,267.6 162.8,266.6 163.2,265.5 164.5,263.8 166.2,262.5 168.3,261.6 170.8,261.1 173.2,261.0 175.3,261.2 177.4,261.9 179.5,263.0 181.3,264.4 182.3,265.9 182.3,266.2 181.3,268.6 179.9,270.9 178.4,272.5 177.1,273.4 174.3,273.9 M228.2,280.8 227.9,282.9 227.7,285.1 227.4,287.4 227.1,289.6 226.9,291.8 226.6,293.8 226.4,295.6 226.1,297.1 225.8,298.3 225.5,299.2 225.2,299.8 224.8,300.3 224.6,300.7 224.3,301.2 224.2,301.8 224.1,302.5 224.2,303.4 224.4,304.2 224.7,305.1 225.1,306.1 225.4,307.1 225.7,308.2 226.0,309.4 226.1,310.7 226.0,312.2 225.8,313.9 225.4,315.7 225.1,317.6 224.7,319.4 224.5,321.2 224.5,322.8 224.8,324.2 225.3,325.4 226.1,326.4 227.0,327.3 228.0,328.1 229.1,328.8 230.4,329.4 231.6,329.9 232.9,330.3 234.2,330.6 235.7,330.8 237.3,330.9 238.9,330.9 240.5,330.8 242.1,330.5 243.7,330.2 245.1,329.7 246.5,329.1 247.9,328.3 249.3,327.5 250.6,326.5 251.9,325.4 253.0,324.2 253.9,322.9 254.6,321.5 255.1,319.9 255.5,318.0 255.8,316.0 255.9,313.9 255.8,311.8 255.6,309.8 255.2,308.1 254.6,306.6 253.7,305.5 252.5,304.6 251.0,304.0 249.4,303.5 247.7,303.0 246.2,302.5 244.8,301.9 243.8,301.2 243.1,300.3 242.5,299.3 242.2,298.3 241.9,297.3 241.7,296.2 241.5,295.1 241.3,294.0 241.0,293.0 240.6,292.0 240.2,290.9 239.7,289.8 239.3,288.8 238.9,287.7 238.6,286.7 238.4,285.8 238.3,284.9 238.4,284.1 238.6,283.4 238.9,282.7 239.3,282.0 239.8,281.4 240.2,280.8 240.6,280.2 241.0,279.5 M233.6,290.3 233.1,290.7 232.5,291.2 232.0,292.0 231.4,292.9 230.8,293.8 230.3,294.9 229.9,296.0 229.5,297.1 229.2,298.3 229.0,299.6 228.8,301.0 228.7,302.5 228.7,303.9 228.6,305.4 228.7,306.7 228.8,308.0 228.9,309.1 229.1,310.1 229.3,311.0 229.6,311.9 229.9,312.8 230.4,313.8 230.9,314.8 231.6,316.1 232.5,317.7 233.7,319.6 235.0,321.6 236.3,323.8 237.7,325.8 239.0,327.5 240.1,328.9 241.0,329.7 241.6,329.9 242.2,329.7 242.5,329.2 242.8,328.3 243.0,327.3 243.1,326.2 243.1,325.1 243.1,324.2 243.0,323.3 242.7,322.4 242.3,321.4 241.8,320.4 241.3,319.4 240.9,318.3 240.6,317.2 240.4,316.1 240.4,315.0 240.6,313.9 240.9,312.8 241.2,311.7 241.5,310.5 241.7,309.3 241.8,308.0 241.7,306.6 241.4,305.0 240.9,303.2 240.3,301.3 239.6,299.4 238.9,297.5 238.2,295.7 237.6,294.2 237.0,293.0 236.5,292.1 236.1,291.3 235.7,290.8 235.3,290.4 234.9,290.1 234.5,290.1 234.0,290.1Z M220.3,249.7 220.4,249.8 235.5,249.5 244.6,249.5 248.4,249.7 248.8,249.5 251.2,249.8 255.4,249.8 255.8,249.9 257.1,249.8 257.5,250.0 259.6,250.0 259.9,250.1 260.6,250.0 261.7,250.3 262.4,250.2 262.8,250.3 263.8,250.3 264.1,250.5 264.5,250.4 264.9,250.6 265.2,250.5 265.6,250.7 265.9,250.5 266.2,250.7 267.3,250.7 268.0,251.0 269.1,250.9 269.8,251.2 270.8,251.1 271.5,251.4 271.9,251.3 272.6,251.6 272.9,251.4 273.9,251.9 274.3,251.8 276.4,252.4 276.8,252.2 278.1,252.8 278.5,252.7 279.6,253.1 279.9,253.0 280.6,253.2 282.4,254.0 282.7,253.9 283.0,254.3 283.5,254.3 285.0,255.3 285.5,256.2 285.5,257.1 285.5,257.4 284.9,258.1 284.8,258.5 284.2,258.9 284.3,259.2 283.4,259.6 283.1,260.2 282.2,260.6 282.0,261.0 280.4,261.6 280.4,262.0 278.9,262.5 278.5,263.0 276.4,263.6 276.1,264.1 272.9,265.0 272.6,265.5 269.1,266.7 265.9,267.9 264.5,268.3 263.1,269.1 262.2,269.4 261.4,269.9 260.6,270.1 260.1,270.4 254.7,272.8 248.9,275.6 245.2,278.2 242.8,279.0 240.3,279.5 239.3,279.9 240.4,280.3 244.6,281.6 246.3,282.6 249.0,287.2 250.2,288.4 255.8,292.9 257.9,294.9 260.1,297.7 261.3,300.1 262.0,303.3 262.3,306.8 262.3,311.4 261.7,315.9 260.8,319.8 259.8,322.6 258.6,325.1 256.8,327.5 255.4,328.8 253.7,330.0 251.6,331.1 249.1,332.1 243.2,333.9 240.0,334.4 237.6,334.6 234.1,334.7 230.2,334.2 227.8,333.4 222.5,330.7 220.3,329.9 M220.3,283.8 220.3,282.6 223.9,280.9 223.7,280.6 220.3,280.1 220.3,280.1 M220.3,251.5 220.3,251.7 230.6,251.4 241.8,251.3 249.1,251.6 255.1,252.3 255.8,252.6 256.8,252.6 261.0,253.5 265.9,255.3 266.6,255.8 266.9,255.9 267.6,256.5 268.0,256.6 269.1,257.4 269.9,258.5 270.3,259.2 270.4,259.9 269.9,261.6 269.6,262.4 268.4,263.6 266.9,264.7 263.3,266.9 262.2,267.2 261.1,267.9 260.2,268.3 253.7,272.0 253.3,272.1 248.8,274.6 245.2,276.8 243.9,277.5 240.4,278.4 234.4,279.0 226.0,279.4 220.3,279.0 220.3,279.0 M220.3,252.9 221.5,253.0 226.4,252.6 238.2,252.4 245.6,252.7 252.0,253.6 256.1,254.6 258.6,255.6 260.8,256.8 263.1,258.6 263.9,259.9 264.3,261.3 264.2,262.0 263.2,264.1 260.9,266.2 260.1,266.6 259.4,267.2 258.6,267.6 257.2,268.6 256.8,268.7 251.6,272.2 247.4,274.5 244.2,276.5 242.8,277.1 238.6,278.0 231.6,278.7 226.0,278.8 220.4,278.3 220.3,278.2 M220.3,254.4 226.7,253.7 237.6,253.6 242.1,253.7 248.1,254.4 251.6,255.3 253.0,255.8 255.4,257.0 256.8,257.9 258.0,258.9 258.8,259.9 259.5,261.3 259.7,262.4 259.3,264.1 258.7,265.1 257.0,266.9 249.5,272.4 243.9,275.8 242.1,276.6 239.7,277.3 237.2,277.7 229.9,278.3 225.3,278.2 220.3,277.3 M220.3,256.0 220.4,255.5 225.7,254.9 229.2,254.7 239.0,254.7 244.9,255.3 247.4,255.8 250.2,256.8 253.0,258.3 254.0,259.2 255.2,260.6 255.8,261.6 256.1,263.1 255.9,264.4 255.5,265.5 253.7,267.6 251.6,269.6 247.7,272.6 243.5,275.2 241.4,276.1 239.0,276.9 235.8,277.4 232.7,277.7 228.5,277.8 224.2,277.5 220.4,276.8 220.3,276.2 M220.3,258.0 220.3,257.3 221.1,256.7 227.4,255.7 236.5,255.6 240.0,255.8 242.5,256.1 246.3,257.0 248.9,258.1 250.5,259.2 251.9,260.6 252.4,261.3 253.0,262.7 253.2,263.8 253.1,264.8 252.4,266.6 250.9,268.5 249.1,270.3 246.3,272.5 243.9,274.1 241.8,275.3 240.0,276.0 237.6,276.7 234.4,277.1 231.2,277.4 228.1,277.4 225.3,277.1 222.5,276.5 220.3,275.7 220.3,274.9 M220.3,260.6 220.3,259.4 220.8,258.3 222.5,257.7 225.3,257.0 228.5,256.7 231.6,256.5 235.5,256.6 239.7,256.9 242.1,257.3 244.2,257.9 245.6,258.4 247.4,259.4 248.8,260.6 249.6,261.6 250.3,263.1 250.6,264.4 250.4,265.9 250.0,266.9 248.6,269.0 246.6,271.1 245.4,272.1 242.1,274.4 240.0,275.4 237.6,276.1 235.1,276.6 232.3,276.9 229.2,276.9 226.4,276.7 223.6,276.1 221.1,275.2 220.3,274.2 220.3,273.0 M220.3,263.7 220.3,262.0 220.4,260.4 221.8,259.3 223.6,258.6 225.7,258.0 228.5,257.6 234.8,257.5 240.0,258.0 242.8,258.8 244.6,259.6 246.0,260.6 247.3,262.0 248.1,263.4 248.4,264.8 248.2,266.6 247.6,267.9 246.4,269.7 244.9,271.4 242.5,273.4 240.4,274.6 238.2,275.4 235.5,276.1 232.7,276.5 229.5,276.5 227.1,276.3 224.6,275.7 221.9,274.6 220.8,273.9 220.3,272.1 220.3,270.4 M233.4,276.0 229.2,276.0 225.7,275.3 223.6,274.5 222.5,273.9 220.7,272.1 220.3,270.8 220.3,269.0 220.3,267.6 220.3,265.9 220.3,264.2 220.4,262.8 221.5,261.4 222.5,260.5 224.6,259.4 227.8,258.6 231.6,258.3 236.2,258.5 239.3,259.0 241.4,259.7 243.9,261.1 245.3,262.7 245.9,263.8 246.2,264.8 246.3,266.6 246.0,267.6 245.4,269.0 243.8,271.1 241.9,272.9 239.6,274.2 236.9,275.4 233.4,276.0 M233.0,275.7 229.5,275.6 227.8,275.3 226.0,274.7 224.2,273.9 223.2,273.2 222.2,272.1 221.5,271.1 220.8,269.7 220.5,268.3 220.5,266.9 220.8,265.5 221.3,264.1 222.0,263.1 222.9,262.0 224.2,261.0 226.7,259.9 229.2,259.4 232.7,259.2 236.2,259.5 239.0,260.2 241.1,261.2 242.5,262.2 243.7,263.8 244.3,265.5 244.3,267.2 243.6,269.4 242.1,271.4 240.4,273.0 238.3,274.2 235.8,275.2 233.0,275.7 M234.8,275.0 231.6,275.3 229.9,275.1 228.1,274.8 226.6,274.2 225.3,273.6 224.4,272.9 223.3,271.8 222.7,270.8 222.1,269.4 221.9,268.3 222.0,266.9 222.3,265.5 222.8,264.4 223.6,263.4 224.6,262.4 226.3,261.3 228.2,260.6 230.6,260.2 233.0,260.2 235.8,260.5 238.1,261.3 240.0,262.4 241.1,263.4 242.0,264.8 242.5,266.6 242.4,268.3 241.7,270.1 240.5,271.8 238.8,273.2 236.9,274.2 234.8,275.0 M327.9,282.4 325.1,282.6 323.3,282.3 321.2,281.7 319.5,280.9 317.9,279.9 317.0,278.8 316.6,278.1 316.3,276.0 316.2,271.8 316.6,264.4 317.2,260.6 317.9,257.8 318.9,255.0 319.8,253.2 321.9,250.6 324.4,248.5 328.2,245.8 332.1,243.7 343.9,238.1 349.3,235.8 350.9,235.4 351.6,235.1 355.1,234.4 355.9,234.4 356.8,234.7 357.5,235.4 357.9,236.4 357.9,237.8 358.0,238.2 357.6,240.2 357.2,240.7 356.6,242.9 356.2,243.3 355.9,244.3 354.6,246.6 352.4,251.2 351.3,254.3 349.8,260.2 349.0,262.7 348.1,264.8 346.2,268.3 343.1,272.9 341.1,274.9 338.4,277.3 335.6,279.1 331.7,281.1 327.9,282.4 M328.6,279.6 326.8,279.7 325.4,279.5 322.6,278.5 320.1,277.0 319.3,276.0 318.9,275.3 318.6,274.2 318.1,270.4 318.1,264.8 318.5,261.6 319.1,258.9 319.8,256.4 320.8,254.3 322.9,251.5 325.4,249.2 328.9,246.8 333.1,244.6 341.5,241.2 345.4,239.9 348.9,239.3 350.6,239.4 351.6,239.7 352.4,240.3 353.1,241.3 353.3,243.8 353.1,244.8 352.6,246.9 350.6,252.2 348.8,259.2 347.8,262.4 346.9,264.4 345.6,266.9 342.8,271.1 341.1,272.9 338.7,275.1 335.9,276.9 333.1,278.3 329.9,279.3 328.6,279.6 M330.3,277.1 327.9,277.2 325.1,276.5 323.6,275.9 322.2,274.9 321.3,273.9 320.7,272.9 320.3,271.4 319.7,267.9 319.6,263.8 320.4,258.9 321.0,256.8 321.8,255.0 323.6,252.4 326.4,249.8 329.9,247.5 334.1,245.5 338.0,244.0 342.6,242.8 345.7,242.6 347.1,242.7 348.5,243.2 349.5,244.2 350.0,245.2 350.2,246.6 350.2,248.0 347.3,260.2 346.2,263.4 345.1,265.5 342.6,269.5 341.1,271.1 339.1,273.1 336.2,274.9 334.1,275.9 332.4,276.6 330.3,277.1 M331.0,275.0 328.6,275.0 327.1,274.7 325.8,274.2 324.4,273.3 323.3,272.5 322.8,271.8 322.2,270.8 321.2,267.2 321.0,263.4 321.3,260.6 321.6,258.9 322.8,255.7 324.4,253.2 326.8,250.9 330.3,248.6 333.1,247.2 337.3,245.8 341.1,245.0 343.6,245.1 345.7,245.7 346.8,246.6 347.4,247.7 347.8,249.4 347.8,250.4 347.4,253.6 346.5,258.5 345.6,261.6 344.5,264.4 343.1,266.9 341.9,268.6 340.2,270.4 338.7,271.7 337.0,272.9 335.2,273.8 333.1,274.6 331.0,275.0 M333.1,272.9 330.3,273.2 327.9,272.7 325.8,271.6 324.7,270.8 324.0,269.8 323.4,268.6 322.8,266.9 322.3,263.8 322.5,260.6 323.2,257.4 324.4,255.0 326.1,252.9 327.9,251.3 330.6,249.6 334.5,248.0 338.0,247.1 341.1,247.1 342.9,247.5 343.9,248.0 345.0,249.1 345.7,250.4 345.9,251.8 345.9,254.7 345.6,257.1 345.0,259.9 344.1,262.7 342.3,266.2 341.1,267.7 339.8,269.2 338.4,270.4 336.6,271.5 334.5,272.5 333.1,272.9 M331.7,271.5 329.2,271.2 327.5,270.5 326.0,269.4 324.8,267.6 323.9,265.1 323.5,262.4 323.8,259.6 324.5,257.1 325.6,255.0 327.1,253.2 328.9,251.8 331.4,250.4 334.1,249.3 336.6,248.8 339.1,248.8 341.1,249.3 342.2,249.8 343.2,250.8 343.9,251.8 344.2,253.2 344.4,255.7 344.3,257.4 343.9,260.2 343.1,262.7 341.4,265.9 340.1,267.4 338.7,268.7 336.9,269.9 335.6,270.6 333.4,271.3 331.7,271.5 M334.1,269.7 332.1,270.0 330.1,269.7 328.2,268.9 326.7,267.6 325.6,265.9 324.8,263.4 324.6,260.9 325.0,258.5 325.8,256.4 327.0,254.7 328.6,253.1 330.3,251.9 332.4,251.0 334.9,250.4 336.6,250.2 339.1,250.5 340.1,250.9 341.1,251.6 342.0,252.6 342.6,253.6 342.9,255.0 343.1,257.4 342.6,260.9 342.1,262.7 341.4,264.1 339.6,266.6 338.4,267.7 336.9,268.6 335.6,269.3 334.1,269.7 M334.5,268.3 332.8,268.5 331.0,268.3 329.2,267.6 327.9,266.6 326.9,265.1 326.2,263.8 325.8,261.6 325.8,259.6 326.2,257.8 326.8,256.4 327.9,255.0 329.2,253.7 331.0,252.6 332.8,252.0 334.5,251.7 336.2,251.7 337.6,251.9 338.7,252.4 339.8,253.1 340.6,253.9 341.2,255.0 341.7,256.8 341.9,258.1 341.8,259.9 341.4,261.6 340.9,263.1 339.4,265.4 338.4,266.4 336.9,267.4 334.5,268.3 M335.2,267.0 333.8,267.2 332.4,267.1 331.0,266.8 329.6,266.0 328.6,265.1 327.8,264.1 327.1,262.7 326.8,261.3 326.7,259.9 326.9,258.5 327.4,257.1 328.2,255.8 329.2,254.7 330.3,254.0 331.7,253.3 333.1,253.0 334.5,252.9 335.9,253.0 337.3,253.5 338.4,254.2 339.2,255.0 340.0,256.1 340.4,257.2 340.7,258.5 340.8,259.9 340.6,261.3 340.2,262.7 339.6,263.8 338.7,264.9 337.6,265.8 336.6,266.4 335.2,267.0 M369.2,242.6 369.6,243.1 389.2,243.7 400.4,244.4 401.5,244.6 402.9,244.6 403.6,244.8 405.7,244.9 406.0,245.1 406.8,245.0 407.1,245.2 408.5,245.2 411.6,245.7 412.7,245.7 413.0,245.9 413.4,245.7 413.8,245.9 414.1,245.8 414.8,246.1 415.8,246.0 416.5,246.3 416.9,246.1 417.6,246.4 417.9,246.3 418.6,246.6 419.0,246.4 419.7,246.7 420.0,246.5 420.8,246.8 421.1,246.6 422.1,247.0 422.5,246.8 423.5,247.2 424.2,247.1 425.3,247.5 425.6,247.3 427.0,247.7 427.4,247.5 429.1,248.0 429.5,247.8 430.9,248.2 431.2,248.0 431.3,248.3 431.6,248.4 431.9,248.2 434.4,248.9 434.8,248.6 436.5,249.0 436.8,248.8 437.2,249.1 437.5,249.1 437.9,248.9 441.8,249.0 444.5,249.4 450.8,250.9 455.0,252.2 459.6,254.0 461.7,254.4 463.1,254.2 467.7,252.6 471.1,251.7 475.0,251.0 478.1,250.7 481.6,250.7 485.1,251.0 488.3,251.7 491.4,252.7 494.7,254.3 497.0,256.1 498.6,258.1 499.7,260.9 500.0,262.7 500.1,264.4 500.0,266.2 499.4,268.3 497.8,272.1 494.7,276.7 494.5,277.4 494.5,278.1 495.0,280.6 495.8,282.3 496.5,283.4 499.5,286.6 500.8,288.9 501.7,291.8 502.0,294.9 501.9,296.6 501.5,298.8 500.8,300.9 499.9,302.8 498.8,304.2 497.5,305.4 496.0,306.4 494.2,307.2 492.8,307.6 491.4,307.8 488.6,307.4 485.5,306.2 481.6,303.9 480.9,304.1 478.1,306.9 476.4,307.7 475.0,307.9 473.2,307.9 471.8,307.7 469.8,307.2 468.2,306.4 466.9,305.5 466.2,304.5 465.6,302.9 465.0,300.1 464.8,298.4 464.6,294.9 464.7,292.1 465.1,288.9 466.2,285.3 467.6,283.2 469.0,282.1 471.1,280.6 471.8,279.9 472.2,279.0 472.3,278.1 472.2,277.7 471.7,277.1 468.1,274.9 464.5,272.5 459.9,268.5 457.8,267.9 450.1,267.0 447.7,267.2 441.8,267.9 440.7,268.0 439.3,267.7 437.2,267.8 436.8,267.5 434.4,267.8 430.2,268.8 429.8,268.5 425.6,269.8 425.3,269.6 422.8,270.6 422.5,270.4 420.8,271.2 420.4,271.0 419.0,271.7 418.6,271.6 417.6,272.1 417.2,272.1 416.2,272.7 415.8,272.6 415.1,273.0 414.8,273.0 414.1,273.4 413.8,273.4 412.3,274.1 412.0,274.1 411.6,274.4 409.9,274.9 408.1,275.9 407.4,276.0 407.1,276.3 403.9,277.5 398.8,280.2 396.6,281.6 395.2,282.6 395.1,283.0 395.6,284.3 398.0,287.1 399.2,288.9 401.9,293.5 404.7,299.1 408.6,308.2 410.9,315.2 411.4,317.6 411.7,320.1 411.7,322.2 411.4,324.3 411.0,326.1 410.3,327.8 409.5,329.2 407.8,331.3 406.6,332.4 404.6,333.7 402.2,334.9 399.4,336.0 395.2,337.2 391.3,338.1 387.8,338.7 385.4,338.8 381.2,338.4 374.6,336.9 372.1,336.7 371.6,336.5 370.7,335.9 370.0,335.0 369.2,330.3 M369.2,244.4 370.3,244.9 384.0,245.1 394.1,245.6 404.3,246.8 404.6,247.0 405.3,247.0 405.7,247.2 406.4,247.2 406.8,247.4 408.1,247.5 408.5,247.7 409.5,247.8 409.9,248.0 410.2,247.9 411.3,248.2 411.6,248.1 413.0,248.6 413.4,248.5 414.1,248.9 414.4,248.8 416.2,249.4 416.5,249.3 417.2,249.7 417.6,249.5 418.6,250.1 419.0,249.9 420.0,250.5 420.4,250.3 421.8,251.0 422.1,250.8 423.9,251.6 424.6,251.6 428.1,253.3 428.4,253.1 428.7,253.2 428.8,253.6 429.1,253.5 429.4,253.6 429.4,253.9 429.9,253.9 430.0,254.3 431.4,255.3 431.9,256.1 432.5,257.8 432.6,259.6 432.4,260.9 431.9,262.0 431.9,262.4 431.0,263.4 430.9,263.8 429.5,264.6 423.5,266.8 423.2,266.9 422.8,266.8 420.0,267.9 419.7,267.8 417.6,268.9 417.2,268.8 416.2,269.4 415.8,269.3 414.8,270.0 414.4,269.9 412.7,270.8 412.3,270.8 411.6,271.3 411.3,271.3 396.6,278.3 392.4,280.1 387.8,281.4 383.6,282.2 375.9,282.6 369.6,283.2 369.2,283.2 M485.8,276.7 482.2,276.7 479.5,276.2 477.4,275.5 472.1,272.9 470.4,271.8 467.7,269.7 466.2,268.3 465.5,267.4 463.3,263.4 463.0,260.9 463.4,259.6 463.9,258.9 465.9,257.2 469.8,255.8 473.6,254.7 477.8,253.9 482.7,253.8 486.5,254.3 490.0,255.4 492.1,256.4 493.3,257.1 494.4,258.1 495.3,259.2 496.4,261.6 496.7,263.8 496.7,264.8 496.4,266.9 496.0,268.0 494.2,271.5 493.5,272.5 491.9,274.2 489.7,275.8 487.9,276.4 485.8,276.7 M492.1,303.0 490.8,303.1 489.3,302.8 487.9,302.3 486.5,301.5 485.8,300.8 485.2,299.8 484.7,297.4 484.7,295.2 485.0,293.5 485.3,292.1 486.0,290.7 488.5,287.2 489.7,286.4 490.8,286.1 491.8,286.5 493.2,287.2 495.7,289.3 496.4,290.4 497.0,291.4 497.5,292.8 497.7,294.2 497.7,295.6 497.5,297.4 497.0,298.8 496.3,300.1 495.6,301.0 494.6,301.9 493.3,302.6 492.1,303.0 M473.9,301.2 471.8,301.1 470.1,300.4 469.5,299.8 469.1,299.1 468.6,297.0 468.5,293.5 468.8,291.4 469.1,290.4 469.7,289.3 470.3,288.6 471.1,288.1 472.2,287.7 472.9,287.7 473.6,288.0 474.6,288.6 475.6,289.6 476.7,291.4 477.2,293.5 477.3,296.3 476.7,298.8 476.1,299.8 475.5,300.5 474.6,301.0 473.9,301.2 M387.8,331.7 386.1,331.7 384.0,331.5 379.4,330.6 377.3,330.4 377.0,330.2 375.8,328.9 374.0,325.7 372.9,322.9 372.3,320.1 371.5,312.4 371.4,306.8 371.5,303.3 371.9,300.9 372.3,299.1 373.5,297.0 374.2,296.2 375.2,295.4 377.3,294.4 381.6,293.2 384.0,293.0 385.8,293.0 389.2,293.6 391.0,294.4 392.1,295.0 394.1,297.0 396.1,299.8 398.1,303.6 400.3,308.2 402.3,313.4 403.5,317.6 403.7,320.1 403.4,322.6 402.4,325.0 400.8,327.0 399.8,327.9 398.3,328.7 395.9,329.8 392.4,330.8 387.8,331.7 M369.2,245.7 370.0,246.0 377.3,245.9 390.3,246.4 397.3,247.2 402.9,248.2 404.3,248.5 404.6,248.7 405.3,248.7 407.1,249.2 407.4,249.4 408.8,249.6 410.9,250.4 411.3,250.3 412.7,251.0 413.0,250.9 414.8,251.7 415.1,251.7 416.2,252.4 416.5,252.3 417.6,253.0 417.9,252.9 419.7,254.1 420.0,254.0 421.7,255.3 422.6,256.4 423.2,257.8 423.4,259.6 423.2,261.3 422.7,262.7 421.8,263.8 420.8,264.4 417.6,266.2 416.9,266.2 415.5,267.1 414.8,267.2 412.7,268.4 412.3,268.4 411.6,268.9 411.2,269.0 409.9,269.8 409.5,269.8 407.1,271.2 401.8,273.9 392.1,278.3 386.8,279.8 381.9,280.7 371.4,281.3 369.2,280.9 M485.1,270.4 483.4,270.4 480.9,269.8 478.8,268.8 477.0,267.6 475.5,266.2 474.7,264.8 474.3,263.1 474.6,262.0 475.7,261.0 477.4,260.3 480.2,259.5 482.3,259.3 484.1,259.4 485.8,259.7 487.6,260.2 489.0,261.1 489.8,262.0 490.4,263.4 490.4,265.1 490.0,266.6 489.1,268.3 488.1,269.4 486.9,270.0 485.1,270.4 M389.6,326.4 387.8,326.7 386.4,326.7 381.2,325.8 380.6,325.4 379.9,324.3 378.6,321.5 378.0,319.4 377.6,315.9 377.4,310.6 377.7,307.5 378.0,306.1 378.8,304.7 379.8,303.7 381.6,302.9 384.3,302.2 387.1,302.2 388.9,302.5 389.9,303.0 390.9,303.6 392.1,304.8 393.7,307.5 395.8,311.7 397.1,315.2 397.7,317.3 397.9,319.4 397.7,321.1 396.9,322.8 395.9,323.9 394.5,324.8 392.3,325.7 389.6,326.4 M369.2,247.0 370.3,247.1 376.3,246.9 386.1,247.2 391.7,247.7 395.6,248.2 399.8,249.0 406.8,251.2 409.2,252.3 409.5,252.4 409.9,252.6 410.2,252.7 411.6,253.6 412.0,253.6 412.7,254.2 413.1,254.3 413.8,254.9 414.1,255.0 415.5,256.4 416.3,258.1 416.5,259.9 416.4,261.6 415.9,263.1 415.7,263.4 413.8,265.0 413.1,265.1 412.3,265.7 411.8,265.9 411.0,266.6 410.6,266.6 406.4,269.3 402.2,271.7 397.1,274.2 391.3,276.8 386.1,278.4 383.6,278.8 380.5,279.2 372.8,279.6 370.0,279.4 369.2,278.8 M369.2,248.6 369.2,248.4 375.2,247.8 383.6,248.1 391.7,248.8 394.5,249.3 397.8,250.1 402.9,251.9 406.0,253.5 407.8,254.7 409.8,256.4 410.5,257.4 410.9,258.5 411.1,260.2 411.0,262.0 410.4,263.4 407.1,266.1 402.5,269.3 399.0,271.4 393.8,274.1 391.0,275.3 387.5,276.5 384.7,277.2 382.2,277.6 379.1,277.9 374.6,278.0 372.1,277.9 369.2,277.3 369.2,276.6 M369.2,250.4 369.2,249.6 370.3,249.3 374.2,248.8 377.7,248.7 383.3,248.9 387.5,249.3 393.4,250.4 396.3,251.2 399.0,252.2 401.1,253.3 403.2,254.7 404.9,256.1 405.8,257.1 406.4,258.2 406.8,260.6 406.5,262.4 405.8,263.8 403.2,266.2 400.8,268.2 398.3,269.9 395.9,271.3 392.1,273.3 388.8,274.6 385.8,275.5 382.6,276.2 379.8,276.6 376.3,276.7 373.1,276.6 371.4,276.3 369.2,275.4 369.2,274.4 M369.2,252.5 369.2,251.3 370.0,250.6 372.8,250.0 375.9,249.6 379.1,249.6 383.3,249.9 387.5,250.4 390.3,250.9 394.8,252.3 397.5,253.6 399.1,254.6 401.0,256.4 402.0,257.8 402.5,258.9 402.8,260.6 402.5,262.7 402.1,263.4 401.0,264.8 398.2,267.6 396.2,269.1 392.8,271.2 389.3,272.9 386.1,274.0 383.3,274.8 380.5,275.2 377.0,275.4 374.2,275.2 372.1,274.8 370.3,274.2 369.2,273.2 369.2,271.9 M369.2,254.8 369.2,253.2 370.0,252.0 371.8,251.3 374.2,250.7 376.6,250.4 379.8,250.4 384.0,250.8 386.8,251.3 391.3,252.5 394.5,253.9 395.6,254.7 396.9,255.8 398.4,257.4 399.2,259.2 399.4,260.9 399.2,262.7 398.0,264.6 396.2,266.7 394.3,268.3 392.4,269.7 389.1,271.4 386.4,272.6 383.6,273.4 381.2,273.9 378.4,274.2 375.6,274.1 373.5,273.7 371.4,273.0 369.8,272.1 369.2,270.8 369.2,269.3 M369.2,258.1 369.2,256.3 369.2,254.7 370.0,253.6 371.6,252.6 373.8,251.8 376.3,251.3 378.8,251.2 381.2,251.3 384.3,251.8 387.5,252.6 390.2,253.6 392.1,254.6 393.5,255.7 395.4,257.8 396.0,259.2 396.3,260.9 396.0,262.7 395.2,264.4 393.2,266.9 391.9,267.9 389.3,269.7 386.8,271.0 383.8,272.1 381.2,272.7 378.4,273.0 375.9,272.9 373.8,272.4 372.1,271.7 370.3,270.6 369.2,269.4 369.2,267.6 369.2,265.6 M381.6,271.5 379.4,271.7 377.3,271.7 375.4,271.4 373.8,271.0 372.1,270.1 370.8,269.0 369.7,267.6 369.2,266.2 369.2,264.4 369.2,262.4 369.2,260.2 369.2,258.5 369.2,256.8 370.3,255.1 371.7,253.9 373.1,253.1 375.6,252.3 378.4,252.0 381.6,252.2 384.7,252.9 387.8,254.2 389.9,255.4 391.7,257.1 392.8,258.7 393.2,260.6 393.1,262.4 392.4,264.2 391.0,266.2 389.5,267.6 387.0,269.4 384.3,270.6 381.6,271.5 M380.5,270.4 378.8,270.6 376.6,270.4 374.9,269.9 373.5,269.2 372.1,268.1 371.1,266.9 370.2,265.5 369.7,264.1 369.4,262.4 369.4,260.6 369.8,258.9 370.6,257.1 371.6,255.7 372.8,254.7 374.2,253.9 375.9,253.2 378.1,252.9 380.5,253.0 382.9,253.5 384.9,254.3 386.8,255.3 388.4,256.8 389.6,258.5 390.2,259.9 390.3,261.6 389.9,263.4 389.3,264.8 387.9,266.6 386.3,267.9 384.3,269.2 382.6,269.9 380.5,270.4 M70.6,430.0 71.6,431.2 72.7,432.4 73.8,433.6 74.9,434.9 75.9,436.1 76.9,437.3 77.7,438.5 78.4,439.8 78.9,441.1 79.3,442.5 79.5,444.0 79.6,445.4 79.7,446.8 79.9,448.1 80.1,449.2 80.4,450.2 80.8,451.0 81.3,451.8 81.8,452.4 82.3,452.9 82.9,453.3 83.4,453.6 84.0,453.8 84.6,453.8 85.2,453.7 85.9,453.4 86.6,453.1 87.4,452.6 88.1,451.9 88.7,451.2 89.3,450.3 89.7,449.2 90.0,447.9 90.1,446.3 90.2,444.5 90.2,442.5 90.1,440.6 90.1,438.8 90.2,437.1 90.3,435.7 90.5,434.6 90.7,433.7 90.9,432.9 91.1,432.2 91.4,431.6 91.8,431.0 92.2,430.3 92.8,429.5 93.5,428.6 94.3,427.7 95.2,426.7 96.1,425.7 97.1,424.7 98.1,423.7 99.1,422.8 100.0,422.0 100.9,421.3 101.8,420.6 102.7,419.9 103.6,419.3 104.6,418.8 105.5,418.2 106.4,417.6 107.3,417.0 M70.6,424.8 71.6,425.4 72.7,425.9 73.7,426.5 74.8,427.1 75.8,427.6 76.8,428.2 77.6,428.8 78.4,429.5 79.0,430.2 79.5,431.0 79.9,431.8 80.2,432.6 80.5,433.4 80.8,434.2 81.1,435.0 81.5,435.7 81.9,436.5 82.3,437.3 82.7,438.2 83.1,439.0 83.5,439.8 83.9,440.4 84.2,440.8 84.6,440.9 85.0,440.8 85.3,440.4 85.7,439.8 86.0,439.1 86.3,438.3 86.6,437.4 86.9,436.5 87.2,435.7 87.4,434.9 87.5,434.0 87.6,433.2 87.7,432.2 87.8,431.3 88.0,430.4 88.3,429.4 88.7,428.5 89.3,427.6 89.9,426.6 90.7,425.6 91.5,424.6 92.4,423.6 93.2,422.6 94.1,421.8 95.0,421.0 95.9,420.3 96.7,419.8 97.6,419.2 98.5,418.8 99.5,418.3 100.4,417.9 101.3,417.5 102.2,417.0 M70.6,392.3 70.6,392.5 72.4,392.6 92.4,392.7 95.9,393.0 100.1,394.0 102.9,395.1 105.8,396.8 108.5,398.7 111.3,401.4 114.6,405.2 116.1,407.7 116.4,408.0 117.2,410.0 117.4,411.2 117.3,412.2 116.8,413.2 116.2,414.1 115.8,414.2 114.8,415.2 114.4,415.3 112.4,416.8 111.3,417.2 110.7,417.8 107.8,419.6 105.3,421.5 97.6,426.4 97.6,426.6 97.7,426.9 98.7,428.2 98.9,429.0 98.3,430.7 96.7,433.9 96.0,436.0 95.8,443.0 95.3,446.5 93.8,451.4 92.1,456.0 91.1,458.1 89.6,460.0 88.5,460.9 87.1,461.4 85.8,461.6 84.3,461.4 81.9,460.4 78.1,458.4 72.4,456.0 70.7,454.9 70.6,452.9 M70.6,393.7 71.4,394.0 82.9,394.0 91.7,394.4 94.5,394.8 98.2,396.1 100.8,397.6 102.9,399.0 106.3,402.4 108.2,405.2 109.2,407.0 110.0,409.4 110.1,410.8 109.7,412.2 108.8,413.5 103.2,418.4 99.3,421.3 97.3,422.5 94.8,423.6 92.8,424.3 90.3,424.6 86.1,424.8 76.3,425.7 72.8,425.8 70.6,425.6 M70.6,394.7 71.0,394.9 82.6,395.0 88.9,395.3 92.4,395.8 95.2,396.7 97.5,397.9 99.0,398.8 101.1,400.5 102.5,402.1 103.8,403.8 105.4,406.6 105.8,408.0 106.1,409.8 105.9,411.5 105.2,412.9 104.3,414.0 100.7,417.5 99.0,418.9 96.5,420.6 93.8,422.0 91.3,422.8 88.9,423.2 79.4,424.0 74.5,424.3 70.6,424.0 M70.6,395.8 84.7,396.0 88.9,396.4 92.8,397.4 94.7,398.2 96.9,399.6 99.5,402.1 101.0,404.2 101.8,405.6 102.7,408.0 102.9,409.8 102.6,411.2 102.1,412.2 100.9,414.0 99.0,416.1 95.6,418.9 93.3,420.2 91.7,420.9 89.6,421.6 86.8,422.0 77.7,422.8 73.8,422.9 70.6,422.4 M70.6,396.9 75.6,396.6 82.6,396.8 87.5,397.2 89.6,397.7 91.3,398.2 93.1,399.0 95.0,400.3 95.9,401.0 97.6,402.9 98.5,404.2 99.5,406.2 100.0,408.0 100.1,409.4 99.8,411.2 99.1,412.6 98.0,414.0 96.2,416.0 92.8,418.6 89.6,420.1 85.4,420.9 77.3,421.6 73.5,421.6 70.6,420.8 M70.6,398.0 70.7,397.7 74.5,397.4 80.8,397.5 86.4,398.0 89.9,399.0 92.5,400.3 94.3,401.7 95.2,402.8 96.4,404.5 97.1,405.9 97.7,408.0 97.7,409.1 97.6,410.5 97.0,411.9 96.2,413.1 95.0,414.7 93.6,416.1 92.0,417.2 90.6,418.1 88.9,418.9 86.5,419.6 84.7,419.9 77.3,420.5 73.1,420.3 70.6,419.8 70.6,419.3 M70.6,399.4 70.6,398.9 71.8,398.5 74.9,398.2 77.7,398.2 83.6,398.5 86.4,399.0 88.3,399.6 89.9,400.4 91.5,401.4 92.7,402.4 93.6,403.5 94.6,405.2 95.1,406.2 95.5,408.0 95.5,409.1 95.0,411.2 94.0,412.9 92.9,414.3 91.4,415.7 89.9,416.7 88.2,417.6 86.4,418.2 84.7,418.6 81.2,419.1 75.6,419.3 71.4,418.7 70.6,418.1 70.6,417.5 M70.6,401.0 70.6,400.1 71.0,399.6 74.9,399.0 81.2,399.1 84.0,399.4 85.8,399.8 88.7,401.0 89.9,401.8 91.3,403.1 92.2,404.2 93.1,405.9 93.5,407.3 93.6,408.7 93.4,410.1 92.9,411.5 92.0,412.9 91.1,414.0 89.9,415.0 88.5,416.0 87.1,416.7 85.4,417.3 83.3,417.8 80.1,418.2 77.7,418.3 74.9,418.2 72.8,417.8 71.0,417.3 70.6,416.8 70.6,415.7 M70.6,402.8 70.6,401.7 70.7,401.0 72.1,400.4 74.0,400.0 76.3,399.7 79.1,399.7 81.5,399.9 84.0,400.3 85.8,400.8 87.5,401.7 89.6,403.3 90.5,404.5 91.2,405.9 91.6,407.0 91.7,408.4 91.6,409.8 91.2,410.8 90.5,412.2 89.6,413.3 88.2,414.6 87.1,415.2 85.5,416.1 83.3,416.7 81.2,417.1 78.4,417.3 76.3,417.2 74.2,417.0 72.4,416.5 71.0,415.8 70.6,414.8 70.6,413.7 M70.6,405.3 70.6,404.0 70.6,402.8 71.4,401.9 72.8,401.2 74.9,400.7 76.6,400.5 79.1,400.4 81.5,400.7 83.6,401.1 85.2,401.7 86.4,402.4 87.8,403.5 88.5,404.3 89.3,405.6 89.8,407.0 89.9,408.4 89.7,409.8 89.2,411.2 88.2,412.5 87.1,413.6 85.4,414.7 83.8,415.4 80.1,416.1 78.0,416.2 75.9,416.1 74.2,415.8 72.8,415.3 71.4,414.5 70.6,413.6 70.6,412.3 70.6,410.9 M80.5,415.0 77.3,415.1 74.5,414.6 73.1,414.0 72.1,413.3 71.2,412.6 70.6,411.5 70.6,410.5 70.6,409.1 70.6,408.0 70.6,406.6 70.6,405.6 70.6,404.5 71.4,403.5 72.3,402.8 73.8,401.9 76.0,401.4 78.4,401.2 80.8,401.4 82.9,401.9 84.8,402.8 86.2,403.8 87.3,405.2 88.0,407.0 88.1,408.4 87.8,410.1 87.0,411.5 86.1,412.6 84.3,413.8 82.6,414.5 80.5,415.0 M166.2,431.5 163.1,431.4 161.0,431.2 156.1,430.2 153.3,429.3 150.5,428.2 147.8,426.6 144.9,423.8 141.5,419.2 141.0,418.9 139.6,416.9 139.4,416.8 138.6,415.0 138.5,414.0 138.6,413.0 139.3,411.6 140.7,409.8 144.5,406.4 148.5,403.8 154.7,400.8 162.0,398.3 167.6,397.0 170.1,396.8 172.2,396.8 176.0,397.5 179.5,398.8 182.7,400.6 185.0,402.4 187.2,405.0 188.3,407.0 188.8,409.4 188.7,412.6 188.1,415.0 186.1,420.2 184.8,422.7 183.0,425.3 180.9,427.3 178.5,428.8 174.6,430.2 171.1,431.0 166.2,431.5 M167.3,430.8 162.8,430.6 159.2,429.9 154.0,428.1 151.5,426.7 150.1,425.5 148.5,423.8 147.2,422.0 145.3,418.9 144.4,417.1 144.1,416.1 144.0,415.0 144.3,414.0 144.7,412.9 146.1,410.8 149.1,407.7 150.8,406.3 152.9,405.0 156.1,403.4 161.3,401.4 166.9,400.1 169.4,399.8 171.5,399.8 174.3,400.1 175.7,400.4 177.8,401.2 180.6,402.6 183.4,404.7 185.4,407.0 186.4,408.7 187.1,411.2 187.1,414.3 186.7,416.4 185.4,419.9 184.0,422.7 182.2,425.2 180.2,427.0 177.8,428.4 174.6,429.6 170.1,430.6 167.3,430.8 M170.4,430.1 168.0,430.4 165.5,430.3 162.8,430.0 159.9,429.4 157.8,428.7 154.3,427.1 152.6,425.8 151.5,424.8 149.7,422.4 148.5,420.2 147.3,417.5 147.1,416.1 147.3,414.7 148.2,412.6 149.8,410.5 151.5,408.6 154.7,406.3 159.6,404.0 165.2,402.3 168.0,401.8 170.1,401.7 173.6,401.9 175.3,402.3 177.8,403.1 180.9,404.9 182.3,406.0 183.8,407.4 184.9,409.1 185.7,410.8 186.1,412.9 186.2,414.3 186.0,416.4 185.6,417.8 184.5,420.6 183.6,422.4 182.7,423.8 181.2,425.5 180.0,426.6 178.8,427.4 177.4,428.1 175.3,428.9 170.4,430.1 M170.1,429.7 168.0,430.0 166.2,429.9 163.1,429.5 159.2,428.4 155.8,426.7 153.3,424.7 151.6,422.4 150.4,419.9 149.8,418.3 149.6,417.1 149.6,416.1 149.9,414.7 150.4,413.6 152.0,411.2 154.2,409.1 156.8,407.2 160.3,405.5 164.1,404.3 168.3,403.5 171.8,403.4 175.0,403.9 177.4,404.7 179.9,406.0 182.0,407.7 184.0,410.1 184.8,411.8 185.3,414.3 185.4,416.8 184.3,419.9 183.2,422.0 181.8,424.1 180.2,425.9 178.5,427.1 176.4,428.1 173.2,429.1 170.1,429.7 M170.1,429.4 167.3,429.6 163.4,429.1 159.6,427.8 156.4,426.0 154.1,423.8 152.9,421.7 151.8,418.5 151.7,416.4 152.1,415.0 152.7,413.6 154.6,411.2 156.8,409.3 159.2,407.8 162.4,406.4 166.2,405.3 169.8,404.9 172.9,405.0 175.0,405.4 177.4,406.3 179.5,407.4 181.5,409.1 182.8,410.5 184.0,412.6 184.6,414.7 184.8,416.8 184.1,419.2 182.7,422.0 181.6,423.8 179.9,425.6 178.5,426.7 176.0,427.9 173.2,428.8 170.1,429.4 M170.1,429.0 167.6,429.2 163.8,428.6 161.3,427.9 158.1,426.2 156.1,424.5 154.5,422.0 153.6,419.2 153.5,417.1 154.0,415.0 155.3,412.9 157.4,410.8 159.6,409.2 162.1,408.0 165.9,406.8 169.4,406.3 172.5,406.3 175.0,406.8 177.4,407.7 179.2,408.7 180.9,410.0 182.3,411.5 183.1,412.9 184.1,415.4 184.3,417.1 183.3,419.9 182.1,422.4 180.8,424.1 179.2,425.7 177.8,426.7 175.7,427.6 172.9,428.5 170.1,429.0 M170.1,428.7 167.6,428.8 164.1,428.2 161.3,427.2 158.7,425.5 157.0,423.8 155.9,422.0 155.2,419.9 155.1,418.5 155.2,417.1 156.0,415.0 157.5,412.9 158.9,411.5 161.3,409.9 164.1,408.7 167.6,407.9 170.8,407.6 173.6,407.8 175.3,408.2 177.4,409.1 179.5,410.3 180.6,411.2 182.0,412.8 182.9,414.3 183.6,416.1 183.8,417.5 182.9,419.9 181.6,422.3 180.6,423.8 179.2,425.2 177.4,426.5 175.3,427.4 172.9,428.2 170.1,428.7 M170.4,428.3 168.3,428.5 165.5,428.1 163.0,427.2 160.4,425.9 158.5,424.2 157.3,422.4 156.7,420.6 156.5,418.2 157.1,416.1 158.1,414.3 159.8,412.6 161.8,411.2 164.1,410.1 167.3,409.2 170.1,408.8 172.9,408.9 175.0,409.3 176.8,409.9 178.5,410.8 179.9,411.9 180.9,412.9 182.0,414.2 182.9,416.1 183.3,417.5 182.6,419.6 181.4,422.0 179.9,424.1 178.8,425.2 177.4,426.1 175.7,427.0 173.2,427.8 170.4,428.3 M170.4,428.0 168.3,428.1 165.6,427.6 163.4,426.8 161.0,425.4 159.4,423.8 158.4,422.0 157.9,420.2 157.8,418.9 158.0,417.8 158.7,416.1 160.0,414.3 161.7,412.8 164.1,411.4 166.6,410.6 169.4,410.1 171.8,410.0 174.3,410.3 177.4,411.4 179.9,413.1 180.9,414.1 182.0,415.5 182.8,417.1 182.8,417.8 181.7,420.6 180.7,422.4 179.5,424.0 178.5,425.0 177.1,426.0 175.0,426.9 172.5,427.6 170.4,428.0 M170.8,427.6 168.7,427.8 166.1,427.2 163.8,426.3 162.0,425.2 160.6,423.8 159.6,422.0 159.1,420.2 159.3,418.2 160.1,416.4 161.3,414.8 163.1,413.4 165.2,412.4 167.3,411.7 169.8,411.2 172.2,411.2 174.6,411.5 177.4,412.6 179.5,413.9 180.6,414.9 181.6,416.1 182.2,417.1 182.4,417.8 181.6,419.9 180.5,422.0 179.3,423.8 178.2,424.8 176.8,425.8 175.0,426.6 170.8,427.6 M170.8,427.3 169.0,427.5 166.6,426.9 164.2,425.9 162.4,424.5 161.0,422.7 160.5,421.0 160.5,419.2 161.1,417.5 162.4,415.7 164.1,414.3 166.2,413.3 168.7,412.6 171.1,412.4 173.6,412.5 176.0,413.1 178.1,414.0 179.5,414.9 180.6,415.9 182.0,417.8 180.3,421.7 178.8,423.7 177.1,425.2 175.7,426.0 174.1,426.6 170.8,427.3 M220.3,437.8 221.0,438.3 221.8,438.8 222.5,439.2 223.3,439.7 224.0,440.2 224.7,440.7 225.2,441.4 225.7,442.1 226.0,443.0 226.1,444.0 226.1,445.2 226.1,446.4 226.1,447.6 226.2,448.7 226.3,449.8 226.7,450.8 227.3,451.7 228.0,452.7 228.8,453.6 229.7,454.5 230.6,455.3 231.6,455.9 232.5,456.3 233.4,456.5 234.3,456.4 235.2,456.1 236.2,455.6 237.1,455.0 238.0,454.2 238.8,453.4 239.5,452.6 240.1,451.7 240.5,450.8 240.8,449.7 241.0,448.5 241.1,447.3 241.1,446.1 241.1,445.0 241.1,444.0 241.1,443.1 241.0,442.4 240.7,441.9 240.4,441.5 240.1,441.1 239.8,440.7 239.7,440.3 239.7,439.8 240.1,439.2 240.8,438.4 241.8,437.4 243.0,436.4 244.3,435.3 245.7,434.2 247.1,433.2 248.5,432.3 249.7,431.5 250.8,430.9 251.9,430.3 252.9,429.9 253.9,429.5 254.9,429.1 256.0,428.8 257.0,428.4 258.0,428.0 M220.3,435.9 221.5,436.3 222.7,436.8 223.9,437.2 225.2,437.6 226.4,438.1 227.5,438.5 228.6,438.8 229.5,439.2 230.3,439.6 231.0,439.9 231.6,440.3 232.1,440.6 232.6,440.9 233.1,441.1 233.7,441.2 234.3,441.2 235.0,441.0 235.7,440.7 236.4,440.2 237.1,439.7 237.9,439.1 238.6,438.5 239.4,437.9 240.1,437.3 240.8,436.7 241.6,436.1 242.3,435.4 243.0,434.7 243.8,434.0 244.5,433.4 245.3,432.7 246.0,432.0 M220.3,402.5 221.1,402.6 237.2,402.6 243.5,402.9 253.3,403.8 253.7,404.0 257.5,404.4 257.9,404.6 259.2,404.7 260.3,405.1 261.0,405.0 263.4,405.6 263.8,405.6 264.5,406.0 264.9,405.9 265.2,406.1 266.2,406.2 268.0,406.9 268.4,406.9 269.1,407.3 269.4,407.2 270.4,407.9 270.8,407.9 271.9,408.6 272.4,408.7 274.3,410.1 275.0,410.4 276.9,412.2 278.1,413.8 278.7,415.4 278.6,416.4 277.6,417.5 277.7,417.8 275.8,418.9 275.7,419.2 272.2,420.8 270.1,422.1 268.4,423.4 266.6,425.2 266.0,425.5 263.8,427.6 263.4,427.7 262.8,428.5 262.4,428.6 260.3,430.2 258.9,431.0 256.8,431.8 256.4,432.1 255.8,432.1 255.4,432.4 253.3,432.9 249.6,433.6 248.7,433.9 248.5,434.2 250.5,436.1 250.9,436.7 251.1,437.8 250.9,439.2 249.5,442.1 248.9,443.7 248.6,445.5 248.2,450.7 247.5,453.9 246.4,456.3 244.2,459.3 241.5,462.2 239.0,464.3 237.6,465.0 236.5,465.3 235.5,465.4 234.4,465.3 232.3,464.6 227.8,462.4 226.4,461.9 223.9,461.6 222.5,461.1 221.8,460.8 220.7,459.8 220.3,456.4 M220.3,404.6 220.3,404.7 228.5,404.6 239.0,404.7 246.0,405.4 255.1,407.1 259.9,408.8 262.8,410.3 264.5,411.7 266.6,414.3 267.4,416.1 267.5,417.1 267.1,418.5 266.6,419.2 264.0,421.7 263.3,422.0 260.9,424.5 260.5,425.2 257.9,427.6 255.8,429.3 253.3,430.6 251.6,431.3 248.8,432.0 245.6,432.6 236.2,433.4 226.4,433.4 220.3,433.0 M220.3,406.1 221.1,406.2 229.2,405.9 236.9,406.0 242.1,406.4 245.6,406.9 248.9,407.7 252.6,408.7 254.4,409.4 257.1,410.8 258.2,411.5 260.4,413.6 261.0,414.6 261.9,416.4 262.1,417.8 262.0,418.9 260.8,420.6 260.3,420.9 259.8,421.7 259.3,422.0 256.3,425.9 253.7,428.3 251.2,429.8 249.8,430.4 244.6,431.8 240.7,432.3 236.2,432.7 226.4,432.8 220.3,432.2 M220.3,407.6 227.4,407.2 235.8,407.3 241.1,407.7 245.6,408.6 248.4,409.4 250.9,410.3 252.2,411.0 254.7,412.7 256.2,414.3 256.9,415.4 257.6,417.1 257.8,418.5 257.7,419.6 257.3,420.2 254.6,424.1 252.5,426.6 250.2,428.5 248.8,429.3 246.7,430.2 243.5,431.1 240.7,431.6 233.7,432.2 226.0,432.2 220.3,431.4 M220.3,409.2 224.6,408.4 232.3,408.3 237.9,408.6 240.7,409.0 243.9,409.7 246.7,410.6 249.1,411.8 251.2,413.2 252.8,415.0 253.5,416.1 254.1,417.8 254.3,419.2 253.7,421.0 252.9,422.4 251.6,424.5 249.8,426.6 247.4,428.5 243.5,430.1 241.1,430.7 237.6,431.3 231.2,431.8 225.0,431.6 220.3,430.4 M220.3,411.0 220.3,410.5 221.8,410.0 225.7,409.5 228.1,409.4 236.2,409.6 239.3,410.0 241.4,410.5 244.2,411.4 245.2,411.9 247.7,413.2 249.0,414.3 250.1,415.7 250.7,416.8 251.2,418.2 251.3,419.2 251.1,420.6 250.2,422.7 249.0,424.8 247.7,426.3 246.3,427.5 245.1,428.3 242.1,429.6 238.6,430.5 235.8,431.0 229.5,431.3 225.7,431.1 223.9,430.9 220.3,430.1 220.3,429.4 M220.3,413.2 220.3,412.1 221.5,411.4 226.0,410.6 229.2,410.5 233.4,410.5 236.5,410.8 239.3,411.4 240.7,411.7 243.5,412.9 244.7,413.6 246.0,414.7 247.0,415.7 247.9,417.1 248.4,418.5 248.6,419.9 248.4,421.3 247.7,423.1 246.4,425.2 245.1,426.6 242.5,428.3 238.6,429.8 235.8,430.4 233.0,430.7 229.9,430.8 226.7,430.7 223.6,430.2 220.8,429.4 220.3,428.7 220.3,428.0 M220.3,415.6 220.3,414.3 220.6,413.2 222.2,412.5 224.5,411.9 227.1,411.5 230.2,411.4 233.4,411.6 236.5,412.0 239.3,412.7 240.8,413.2 242.5,414.1 243.6,415.0 244.7,416.1 245.6,417.5 246.1,418.9 246.3,420.2 246.1,421.7 245.6,423.1 244.6,424.8 243.5,426.1 242.2,427.2 240.4,428.3 238.2,429.1 236.2,429.7 233.4,430.2 230.6,430.3 227.4,430.2 225.0,429.9 222.0,429.0 220.5,428.3 220.3,427.4 220.3,426.2 M220.3,419.4 220.3,417.8 220.3,416.2 220.8,415.0 222.2,413.9 224.2,413.1 226.4,412.6 228.8,412.4 231.2,412.4 233.4,412.6 236.2,413.1 239.0,414.0 240.2,414.7 241.7,415.7 243.0,417.1 243.8,418.9 244.1,420.6 243.8,422.4 243.3,423.8 242.4,425.2 241.0,426.6 239.5,427.6 237.3,428.7 234.9,429.4 232.0,429.8 229.2,429.9 226.7,429.6 224.6,429.2 222.9,428.5 221.2,427.6 220.3,426.2 220.3,424.8 220.3,423.0 M231.2,429.4 227.8,429.3 224.6,428.5 223.2,427.8 221.9,426.9 220.9,425.9 220.3,424.8 220.3,423.8 220.3,422.4 220.3,421.0 220.3,419.2 220.4,417.8 221.4,416.4 222.5,415.4 223.6,414.7 225.7,413.9 228.1,413.5 230.9,413.4 234.1,413.8 236.2,414.4 238.3,415.4 240.1,416.8 241.2,418.2 241.9,419.9 242.0,421.7 241.3,423.8 240.2,425.5 239.0,426.7 236.8,428.0 234.1,428.9 231.2,429.4 M232.7,428.7 229.5,428.9 226.4,428.4 223.9,427.2 223.0,426.6 222.1,425.5 221.4,424.5 221.0,423.1 220.8,421.7 220.9,420.6 221.3,419.2 221.9,418.2 222.7,417.1 223.9,416.1 225.7,415.2 227.8,414.6 229.9,414.4 232.0,414.6 234.1,415.0 235.8,415.7 237.6,416.8 238.9,418.2 239.6,419.6 239.9,421.3 239.7,423.1 239.1,424.5 237.9,426.0 236.3,427.2 234.8,428.0 232.7,428.7 M317.0,442.4 314.6,442.6 312.4,442.3 311.4,442.0 310.4,441.3 308.9,439.9 307.8,438.1 306.5,434.8 305.1,429.7 304.6,426.6 304.4,424.5 304.4,422.4 305.0,418.9 305.9,416.4 310.8,405.6 311.9,404.2 314.0,402.4 316.6,401.0 323.6,398.0 335.2,393.7 339.8,391.5 344.6,389.5 347.5,389.0 348.9,389.1 350.0,389.5 350.6,389.9 351.0,390.4 351.3,391.9 351.0,394.0 350.5,395.1 349.6,398.2 349.4,398.6 349.2,399.2 347.6,403.5 342.7,415.4 340.6,419.6 337.5,424.8 335.0,428.7 332.8,431.8 330.1,435.0 327.1,437.7 322.6,440.6 319.4,441.8 317.0,442.4 M319.8,438.2 317.4,438.3 315.6,437.9 314.2,437.4 312.4,436.0 311.3,434.6 310.2,432.5 308.8,429.0 308.2,426.9 307.7,424.5 307.5,421.7 307.8,418.9 308.9,415.1 312.5,407.0 314.2,404.6 316.6,402.7 321.6,400.1 327.1,397.7 334.1,395.2 341.1,393.1 343.6,392.9 344.6,393.0 346.1,393.5 346.8,394.0 347.3,394.7 347.8,396.5 347.6,398.9 346.7,402.8 345.0,408.0 343.3,412.6 340.3,418.9 337.7,423.4 335.2,427.4 333.4,429.6 332.2,431.1 329.2,433.9 327.4,435.3 324.7,436.7 321.6,437.9 319.8,438.2 M323.6,434.6 321.9,434.9 319.8,434.9 318.1,434.6 316.3,433.8 315.0,432.9 313.8,431.5 312.7,429.7 311.6,427.2 310.5,423.1 310.3,421.3 310.3,418.9 311.2,415.0 314.1,408.0 315.7,405.6 318.1,403.5 322.2,401.0 326.8,398.8 332.1,397.0 337.3,395.8 340.1,395.4 341.5,395.5 343.4,396.1 344.7,397.2 345.4,398.6 345.6,400.7 345.4,403.1 344.7,406.6 343.3,411.2 339.9,418.5 337.3,423.1 335.4,426.2 332.4,429.6 330.6,431.2 328.8,432.5 326.4,433.7 323.6,434.6 M322.9,432.2 320.9,431.9 319.4,431.5 318.4,431.0 317.2,430.1 315.9,428.7 315.2,427.6 314.1,425.5 313.5,423.8 312.9,421.0 312.8,419.2 312.9,417.5 313.7,414.0 314.7,411.2 315.9,408.4 316.7,407.0 318.1,405.4 320.4,403.5 324.0,401.2 327.5,399.5 331.7,398.1 335.9,397.4 338.7,397.3 340.1,397.6 341.1,398.0 342.1,398.6 342.8,399.2 343.6,400.7 344.0,402.8 343.8,406.2 342.8,411.2 338.7,419.6 334.9,425.9 331.7,428.9 329.6,430.3 327.5,431.3 324.7,432.0 322.9,432.2 M325.4,429.7 324.4,429.8 322.6,429.5 320.9,428.9 319.9,428.3 318.8,427.4 317.7,426.2 316.2,423.4 315.3,420.2 315.1,418.9 315.1,417.1 315.7,413.6 317.2,409.4 318.4,407.3 320.2,405.2 322.9,403.0 326.8,400.8 330.3,399.5 333.8,398.8 337.3,398.9 339.4,399.5 340.7,400.3 341.7,401.4 342.4,402.8 342.7,404.5 342.8,407.0 342.4,409.8 342.1,411.2 341.5,412.7 337.5,420.6 334.5,425.4 332.8,426.9 329.6,428.8 327.5,429.5 325.4,429.7 M327.9,427.6 325.4,427.7 324.0,427.4 322.6,426.9 320.5,425.4 318.9,423.4 318.2,422.0 317.6,420.2 317.2,417.5 317.3,414.7 318.2,411.2 319.2,408.7 320.9,406.2 323.3,404.0 326.4,401.9 329.2,400.7 332.1,400.1 335.2,400.0 337.6,400.6 338.7,401.1 339.9,402.1 340.7,403.1 341.3,404.5 341.7,406.2 341.8,407.7 341.7,409.8 341.4,411.5 337.9,418.9 334.5,424.5 332.8,425.8 331.0,426.7 329.2,427.4 327.9,427.6 M329.6,425.9 327.5,426.0 325.1,425.5 322.9,424.4 321.2,422.7 320.0,420.6 319.2,418.2 319.0,416.1 319.3,412.9 320.3,409.8 321.4,407.7 323.1,405.6 325.1,403.8 327.5,402.3 330.3,401.3 333.1,401.0 335.2,401.3 336.6,401.7 338.0,402.5 339.1,403.4 339.8,404.5 340.4,405.9 340.8,407.7 341.0,409.4 340.8,411.5 337.7,418.2 335.9,421.3 334.1,423.9 331.7,425.3 329.6,425.9 M331.7,424.1 329.2,424.4 327.5,424.2 325.8,423.6 323.9,422.4 322.5,420.6 321.6,418.9 320.9,416.4 320.8,414.3 321.1,411.9 321.9,409.4 323.0,407.3 324.4,405.6 326.1,404.1 328.2,402.9 330.3,402.2 332.8,402.1 334.1,402.3 335.9,402.9 337.3,403.8 338.4,404.9 339.2,406.2 339.9,408.0 340.2,409.8 340.2,411.5 337.5,417.5 334.6,422.4 333.8,423.3 331.7,424.1 M331.7,423.1 329.9,423.1 328.2,422.7 326.7,422.0 325.3,421.0 324.2,419.6 323.2,417.8 322.7,416.1 322.4,414.0 322.6,411.9 323.1,409.8 323.9,408.0 325.0,406.2 326.4,404.9 327.9,403.9 329.6,403.2 331.4,403.0 333.1,403.2 334.5,403.6 335.9,404.4 336.9,405.2 338.0,406.5 338.8,408.0 339.3,409.8 339.6,411.5 338.9,413.2 337.3,416.8 333.9,422.4 333.1,422.7 331.7,423.1 M448.7,409.5 448.6,408.7 448.9,408.0 449.5,407.3 450.4,406.7 451.3,406.0 452.4,405.4 453.4,404.9 454.4,404.4 455.3,403.9 456.3,403.4 457.4,402.9 458.5,402.5 459.6,402.1 460.8,401.9 461.9,401.8 463.1,401.8 464.3,402.1 465.5,402.7 466.7,403.4 467.9,404.3 469.1,405.1 470.4,405.8 471.8,406.4 473.2,406.6 474.7,406.5 476.3,406.0 478.0,405.3 479.7,404.6 481.4,403.8 483.0,403.2 484.7,402.8 486.2,402.7 487.7,403.0 489.3,403.5 490.8,404.1 492.3,405.0 493.7,405.9 495.0,406.9 496.1,407.8 497.0,408.8 497.7,409.7 498.1,410.7 498.4,411.8 498.6,412.9 498.6,414.0 498.6,415.1 498.5,416.2 498.4,417.4 498.2,418.6 497.8,419.8 497.3,421.0 496.7,422.2 496.2,423.4 495.8,424.7 495.5,426.1 495.6,427.5 496.0,429.0 496.8,430.6 497.7,432.2 498.8,433.9 499.9,435.6 500.8,437.3 501.6,438.9 502.0,440.5 502.2,442.1 502.3,443.6 502.2,445.2 502.0,446.8 501.6,448.3 501.0,449.6 500.2,450.9 499.2,452.0 497.8,453.0 496.1,453.9 494.1,454.7 491.9,455.4 489.6,455.9 487.4,456.3 485.2,456.6 483.3,456.7 481.5,456.6 479.6,456.3 477.8,455.9 476.1,455.4 474.4,454.7 472.9,453.9 471.5,453.0 470.3,452.0 469.3,450.9 468.4,449.6 467.6,448.3 467.0,446.8 466.5,445.2 466.2,443.6 466.0,442.1 466.0,440.5 466.2,438.9 466.8,437.2 467.5,435.4 468.4,433.7 469.2,432.0 470.0,430.3 470.7,428.8 471.0,427.5 471.1,426.4 471.2,425.4 471.1,424.5 470.9,423.7 470.6,423.0 470.2,422.3 469.6,421.7 468.9,421.0 468.0,420.4 466.9,419.8 465.7,419.4 464.3,418.9 462.9,418.4 461.5,417.9 460.1,417.4 458.8,416.7 457.4,415.9 455.9,415.1 454.3,414.1 452.8,413.1 451.3,412.2 450.1,411.2 449.2,410.3Z M486.2,407.0 487.1,407.1 488.1,407.2 489.1,407.5 490.0,407.8 491.0,408.2 491.8,408.7 492.6,409.2 493.2,409.8 493.7,410.4 494.1,411.2 494.4,412.0 494.6,412.9 494.7,413.8 494.8,414.7 494.9,415.5 494.9,416.4 494.9,417.3 494.8,418.1 494.7,419.0 494.6,419.9 494.4,420.8 494.1,421.6 493.7,422.4 493.2,423.0 492.6,423.6 491.8,424.1 491.0,424.6 490.0,425.0 489.1,425.3 488.1,425.6 487.1,425.7 486.2,425.8 485.3,425.7 484.3,425.6 483.3,425.3 482.4,425.0 481.4,424.6 480.6,424.1 479.8,423.6 479.2,423.0 478.7,422.4 478.3,421.6 478.0,420.8 477.8,419.9 477.7,419.0 477.6,418.1 477.5,417.3 477.5,416.4 477.5,415.5 477.6,414.7 477.7,413.8 477.8,412.9 478.0,412.0 478.3,411.2 478.7,410.4 479.2,409.8 479.8,409.2 480.6,408.7 481.4,408.2 482.4,407.8 483.3,407.5 484.3,407.2 485.3,407.1Z M486.2,414.7 486.4,414.7 486.7,414.9 487.0,415.1 487.3,415.3 487.5,415.6 487.7,415.9 487.9,416.2 487.9,416.4 487.9,416.6 487.7,416.9 487.5,417.2 487.3,417.5 487.0,417.7 486.7,417.9 486.4,418.1 486.2,418.1 486.0,418.1 485.7,417.9 485.4,417.7 485.1,417.5 484.9,417.2 484.7,416.9 484.5,416.6 484.5,416.4 484.5,416.2 484.7,415.9 484.9,415.6 485.1,415.3 485.4,415.1 485.7,414.9 486.0,414.7Z M473.2,440.5 473.4,440.0 473.7,439.5 474.2,439.1 474.8,438.8 475.5,438.6 476.2,438.4 476.8,438.3 477.5,438.3 478.1,438.5 478.7,438.8 479.4,439.2 480.0,439.8 480.7,440.3 481.5,440.7 482.4,441.0 483.3,441.2 484.4,441.1 485.7,440.9 487.1,440.6 488.5,440.2 489.9,439.8 491.2,439.5 492.4,439.2 493.4,439.0 494.2,438.9 494.9,438.8 495.5,438.8 496.0,438.8 496.3,438.9 496.6,439.1 496.9,439.4 497.0,439.8 497.1,440.4 497.1,441.2 497.0,442.2 496.9,443.2 496.6,444.3 496.2,445.3 495.7,446.2 495.0,447.0 494.1,447.7 493.0,448.3 491.7,448.9 490.3,449.5 488.8,449.9 487.4,450.3 486.0,450.5 484.7,450.6 483.5,450.5 482.3,450.3 481.1,449.9 479.9,449.4 478.8,448.9 477.7,448.3 476.8,447.6 476.0,447.0 475.3,446.3 474.7,445.5 474.2,444.6 473.8,443.7 473.5,442.8 473.3,441.9 473.2,441.1Z M369.2,394.1 369.2,394.5 371.4,394.7 389.9,394.8 398.0,395.2 402.5,395.6 402.9,395.8 404.6,395.8 405.0,396.0 406.0,396.0 406.4,396.2 408.1,396.4 408.5,396.6 409.2,396.5 410.2,396.9 410.9,396.8 412.7,397.3 413.8,397.4 414.1,397.5 414.4,397.5 415.1,397.9 416.9,398.0 418.6,398.7 419.0,398.7 419.7,399.1 420.0,399.0 421.1,399.6 421.4,399.6 422.1,400.0 422.8,400.2 424.6,401.4 424.9,401.3 426.7,402.4 427.0,402.3 433.0,405.9 434.6,407.0 434.8,407.3 435.2,407.3 435.2,407.7 436.9,409.1 437.0,409.4 437.5,410.1 437.6,411.2 437.6,411.9 437.0,412.6 437.0,412.9 436.2,413.6 436.2,414.0 434.2,415.0 434.2,415.4 432.0,416.4 431.9,416.8 427.0,419.0 422.1,422.0 421.8,421.9 419.7,423.3 419.3,423.3 417.9,424.3 417.6,424.2 416.9,424.7 416.4,424.8 415.5,425.5 415.1,425.5 413.8,426.3 413.4,426.3 412.7,426.9 411.6,427.3 409.9,428.3 407.4,429.4 407.1,429.7 406.0,430.0 403.9,431.2 394.5,435.6 389.6,437.2 379.8,440.0 376.3,441.7 373.1,443.4 371.1,444.1 369.2,444.7 369.2,445.3 M369.2,395.9 369.2,396.1 370.3,396.4 375.2,396.1 381.2,396.1 392.1,396.7 400.4,397.8 401.5,398.2 403.9,398.5 405.7,399.1 406.8,399.2 408.5,399.8 408.8,400.0 409.5,400.0 409.9,400.3 410.9,400.6 412.0,401.1 412.3,401.1 412.7,401.4 413.0,401.4 414.4,402.3 414.8,402.4 416.5,403.8 416.9,403.8 417.6,404.5 417.9,404.6 419.3,405.9 419.7,406.0 421.8,408.1 422.1,408.3 423.0,409.4 423.6,410.5 424.0,412.2 423.7,413.2 422.4,415.0 422.4,415.4 420.4,417.1 420.0,417.1 417.2,419.5 416.9,419.6 415.8,420.6 415.1,420.9 414.4,421.6 414.1,421.7 413.4,422.3 413.0,422.4 412.3,423.0 412.0,423.0 408.1,425.6 399.8,430.3 392.8,433.7 388.9,435.1 379.4,438.1 375.6,439.7 373.1,440.5 370.3,440.9 369.2,441.6 M369.2,397.3 369.3,397.6 370.7,397.6 374.2,397.2 378.4,397.0 384.7,397.3 394.1,398.4 401.5,400.0 402.2,400.3 405.7,401.3 407.1,402.1 407.8,402.2 409.5,403.2 411.6,404.7 413.8,406.6 415.8,408.9 417.0,410.8 417.3,412.6 417.2,413.6 416.7,414.7 414.7,417.1 414.2,417.5 413.4,418.4 413.0,418.5 412.5,419.2 409.2,422.0 402.2,426.7 397.0,429.7 392.1,432.2 387.8,433.9 375.2,438.1 372.8,438.5 369.2,439.0 M369.2,399.0 370.3,398.9 376.6,398.0 382.2,398.0 390.3,399.1 394.8,400.0 398.4,401.0 401.1,402.0 403.9,403.2 406.0,404.4 407.5,405.6 409.5,407.7 411.2,410.1 411.8,411.5 412.0,412.9 412.0,413.6 411.6,414.7 410.9,416.1 408.2,419.2 405.3,421.9 402.5,424.1 399.4,426.2 392.1,430.5 388.2,432.3 384.7,433.7 375.5,436.4 373.1,436.6 370.0,436.6 369.2,436.5 369.2,436.3 M369.2,400.9 369.2,400.4 375.6,399.1 380.1,398.8 383.3,399.0 386.1,399.4 390.3,400.3 394.1,401.4 398.8,403.1 401.8,404.8 403.0,405.6 405.1,407.7 406.4,409.4 407.4,411.5 407.7,413.2 407.6,414.0 407.0,415.7 405.9,417.5 404.5,419.2 401.8,421.9 399.7,423.8 395.9,426.4 391.3,429.2 388.2,430.9 382.9,433.0 380.1,433.9 376.3,434.7 374.6,434.8 371.1,434.7 369.2,434.1 369.2,433.4 M369.2,403.2 369.2,402.3 369.6,401.6 374.2,400.3 377.0,399.7 379.4,399.6 381.9,399.7 384.3,400.0 387.5,400.8 391.7,402.0 394.5,403.1 398.0,404.9 399.1,405.6 401.4,407.7 402.7,409.4 403.8,411.5 404.1,413.2 404.0,414.3 403.3,416.4 401.7,418.9 399.4,421.5 397.2,423.4 392.9,426.6 389.6,428.7 385.7,430.8 382.9,431.9 380.1,432.7 377.7,433.1 375.2,433.3 372.4,433.0 370.0,432.4 369.2,431.5 369.2,430.3 M369.2,406.3 369.2,404.5 370.0,403.1 374.2,401.3 376.6,400.7 379.1,400.4 381.6,400.5 383.6,400.8 386.8,401.7 391.0,403.3 393.4,404.4 396.6,406.5 398.3,408.1 399.7,410.1 400.5,412.2 400.7,413.6 400.4,415.7 399.2,418.2 397.3,420.7 396.0,422.0 393.8,423.9 389.3,427.2 386.1,429.2 383.3,430.6 380.8,431.3 378.1,431.8 375.9,431.8 373.1,431.4 371.1,430.6 369.6,429.7 369.2,428.3 369.2,426.6 M369.2,410.6 369.2,408.4 369.2,406.6 370.0,405.0 371.4,403.8 373.8,402.5 376.3,401.6 378.8,401.2 381.2,401.2 384.0,401.8 386.8,402.8 389.7,404.2 391.7,405.2 393.7,406.6 395.6,408.4 396.8,410.1 397.6,411.9 397.9,414.0 397.6,416.1 396.8,417.8 395.4,419.9 393.6,422.0 390.4,424.8 387.1,427.3 384.3,429.0 381.6,430.1 378.8,430.6 376.3,430.5 374.2,430.1 371.8,429.0 370.3,427.9 369.2,426.2 369.2,423.8 369.2,421.7 M379.1,429.4 376.6,429.2 374.2,428.4 372.3,427.2 370.6,425.5 369.4,423.4 369.2,421.0 369.2,418.2 369.2,414.3 369.2,411.5 369.2,409.4 370.1,407.3 371.4,405.5 373.1,404.2 375.7,402.8 378.1,402.0 380.5,401.9 382.9,402.3 385.4,403.3 388.6,405.0 391.2,407.0 393.3,409.1 394.2,410.5 395.0,412.6 395.2,414.3 394.8,416.4 393.5,419.2 391.9,421.3 389.5,423.8 386.7,426.2 384.0,428.0 381.6,429.0 379.1,429.4 M380.8,428.0 378.8,428.2 376.6,427.8 374.7,426.9 372.9,425.5 371.5,423.8 370.5,421.7 369.9,419.2 369.6,416.8 369.6,414.0 370.0,411.5 370.6,409.4 371.8,407.3 373.3,405.6 375.1,404.2 377.3,403.1 379.4,402.7 381.6,402.8 383.6,403.5 386.0,404.9 388.2,406.6 390.3,408.7 391.4,410.1 392.2,411.9 392.6,414.0 392.4,416.1 391.8,417.8 390.6,419.9 388.2,423.1 386.1,425.2 384.3,426.5 382.6,427.5 380.8,428.0 M380.5,426.9 378.8,426.9 377.0,426.5 375.3,425.5 373.8,424.1 372.6,422.4 371.9,420.6 371.3,418.5 371.1,416.1 371.2,413.6 371.6,411.2 372.3,409.1 373.4,407.3 374.9,405.6 376.4,404.5 378.1,403.7 379.8,403.5 381.6,403.6 382.9,404.2 384.7,405.2 386.4,406.9 388.2,409.1 389.2,410.8 389.8,412.6 390.1,414.3 389.9,416.1 389.3,418.2 388.1,420.6 386.7,422.7 385.2,424.5 383.6,425.7 382.0,426.6 380.5,426.9" fill="none" stroke="#000" stroke-width="0.7"/>
<path d="M167 283h1M178 334h1M196 249h1M132 251h1M160 281h1M153 327h1M119 267h1M183 244h1M189 262h1M96 228h1M102 297h1M190 249h1M190 263h1M138 240h1M196 245h1M114 233h1M133 316h1M150 234h1M192 254h1M146 279h1M155 240h1M128 267h1M97 302h1M180 231h1M101 291h1M188 242h1M116 282h1M88 312h1M76 238h1M110 280h1M105 233h1M170 281h1M169 237h1M84 314h1M129 257h1M136 269h1M96 307h1M98 303h1M173 241h1M156 225h1M142 276h1M82 235h1M97 301h1M92 238h1M176 302h1M112 281h1M163 285h1M144 299h1M186 268h1M165 284h1M180 305h1M151 299h1M147 299h1M127 262h1M173 332h1M143 304h1M118 234h1M162 239h1M102 279h1M188 241h1M106 232h1M104 305h1M168 281h1M145 290h1M102 293h1M127 263h1M127 264h1M85 224h1M184 273h1M133 269h1M91 310h1M123 263h1M159 236h1M181 324h1M113 277h1M83 313h1M148 324h1M97 238h1M180 311h1M152 326h1M99 286h1M146 311h1M132 275h1M97 298h1M185 274h1M122 247h1M167 280h1M142 300h1M100 287h1M164 282h1M123 264h1M154 329h1M162 237h1M170 296h1M123 248h1M79 233h1M151 289h1M183 275h1M167 335h1M185 270h1M92 307h1M168 239h1M139 236h1M191 245h1M130 245h1M111 239h1M113 242h1M171 218h1M190 259h1M110 234h1M189 256h1M186 309h1M97 278h1M150 294h1M101 296h1M133 256h1M100 291h1M105 233h1M172 279h1M132 256h1M167 287h1M175 239h1M175 298h1M157 330h1M94 239h1M141 226h1M97 308h1M84 313h1M173 279h1M148 276h1M91 310h1M125 263h1M95 238h1M178 296h1M76 325h1M144 229h1M113 273h1M85 320h1M111 239h1M145 245h1M186 246h1M188 247h1M83 238h1M185 275h1M99 236h1M185 271h1M152 298h1M98 294h1M168 294h1M184 273h1M146 245h1M172 336h1M170 241h1M134 265h1M123 284h1M190 252h1M103 296h1M84 315h1M160 338h1M177 303h1M118 248h1M111 241h1M196 262h1M98 237h1M147 278h1M97 278h1M141 305h1M169 242h1M99 289h1M149 296h1M138 247h1M102 238h1M190 254h1M150 291h1M180 311h1M99 301h1M164 294h1M137 314h1M147 327h1M119 285h1M163 242h1M181 324h1M149 240h1M118 271h1M160 295h1M75 230h1M175 236h1M104 281h1M184 272h1M116 285h1M115 242h1M107 283h1M139 234h1M87 237h1M77 315h1M190 262h1M135 323h1M176 240h1M185 273h1M166 285h1M101 237h1M95 305h1M177 277h1M143 304h1M154 329h1M122 269h1M123 274h1M159 331h1M125 276h1M183 320h1M120 243h1M137 268h1M145 312h1M107 237h1M80 230h1M158 286h1M84 316h1M135 254h1M121 264h1M179 282h1M81 234h1M180 278h1M189 249h1M160 294h1M74 236h1M162 282h1M201 241h1M83 237h1M88 312h1M159 331h1M179 276h1M183 278h1M149 245h1M170 281h1M179 227h1M141 307h1M161 283h1M140 288h1M104 237h1M159 243h1M186 316h1M82 234h1M183 275h1M143 243h1M170 281h1M119 268h1M167 334h1M95 304h1M188 321h1M101 277h1M186 335h1M175 300h1M166 234h1M159 284h1M148 319h1M181 310h1M175 241h1M199 246h1M76 235h1M118 291h1M175 301h1M127 248h1M95 239h1M169 279h1M147 277h1M189 263h1M176 289h1M140 240h1M101 239h1M129 234h1M98 301h1M184 277h1M147 305h1M105 233h1M178 236h1M147 324h1M187 265h1M91 315h1M184 272h1M130 266h1M141 273h1M146 329h1M180 276h1M130 276h1M106 278h1M104 288h1M182 277h1M108 279h1M100 299h1M103 233h1M146 245h1M118 235h1M100 287h1M174 286h1M191 254h1M83 228h1M106 301h1M104 276h1M169 237h1M188 267h1M87 235h1M98 298h1M176 279h1M147 283h1M117 271h1M122 235h1M199 312h1M99 293h1M192 254h1M164 292h1M75 224h1M139 274h1M147 322h1M104 238h1M75 236h1M189 276h1M156 338h1M152 300h1M83 234h1M164 286h1M183 309h1M189 251h1M121 267h1M117 275h1M187 237h1M173 290h1M202 248h1M168 338h1M181 336h1M189 260h1M148 245h1M153 245h1M123 289h1M188 264h1M180 300h1M158 282h1M72 232h1M194 256h1M113 277h1M149 303h1M98 239h1M91 318h1M182 276h1M172 282h1M137 273h1M168 284h1M71 233h1M170 280h1M180 240h1M146 216h1M191 269h1M107 275h1M184 322h1M188 246h1M93 234h1M100 286h1M115 239h1M184 247h1M186 322h1M99 240h1M73 310h1M95 302h1M147 280h1M185 274h1M183 277h1M77 235h1M177 238h1M121 237h1M156 331h1M172 293h1M178 241h1M178 302h1M137 251h1M102 278h1M156 242h1M182 275h1M102 240h1M109 290h1M99 286h1M180 324h1M115 286h1M148 338h1M105 277h1M166 283h1M72 236h1M155 280h1M100 294h1M97 237h1M74 235h1M96 233h1M93 310h1M182 314h1M88 237h1M77 234h1M167 334h1M80 235h1M112 286h1M78 320h1M154 288h1M144 282h1M158 297h1M129 269h1M191 232h1M188 265h1M163 280h1M163 333h1M119 268h1M181 309h1M124 282h1M193 261h1M99 239h1M75 234h1M199 260h1M165 242h1M192 249h1M172 280h1M160 331h1M102 300h1M174 235h1M146 295h1M195 254h1M89 230h1M158 331h1M177 330h1M161 284h1M86 315h1M101 279h1M99 287h1M167 239h1M96 240h1M130 256h1M93 238h1M165 282h1M159 227h1M86 228h1M118 270h1M145 304h1M118 245h1M165 241h1M127 272h1M181 329h1M109 275h1M178 243h1M191 259h1M129 254h1M144 236h1M98 299h1M177 340h1M173 282h1M180 276h1M183 273h1M176 242h1M190 256h1M163 339h1M185 271h1M126 282h1M158 297h1M172 242h1M92 311h1M99 237h1M146 331h1M161 236h1M165 280h1M114 217h1M170 281h1M156 240h1M88 234h1M173 281h1M185 273h1M103 301h1M138 309h1M105 291h1M157 284h1M73 237h1M137 280h1M186 269h1M122 250h1M122 271h1M178 308h1M99 279h1M192 264h1M183 276h1M143 243h1M172 242h1M82 236h1M154 332h1M148 246h1M79 313h1M161 293h1M160 295h1M154 298h1M129 246h1M96 309h1M97 227h1M146 304h1M98 293h1M87 236h1M176 278h1M142 249h1M98 296h1M180 281h1M175 278h1M132 275h1M176 296h1M103 318h1M130 258h1M138 280h1M83 313h1M145 315h1M164 240h1M126 268h1M184 242h1M81 233h1M147 332h1M98 236h1M187 271h1M91 238h1M136 334h1M184 246h1M177 334h1M97 240h1M83 237h1M167 238h1M188 267h1M124 261h1M174 279h1M93 306h1M180 325h1M166 234h1M121 270h1M194 264h1M179 227h1M85 312h1M100 295h1M153 298h1M183 278h1M144 283h1M135 278h1M95 310h1M178 297h1M127 276h1M180 234h1M159 334h1M104 299h1M153 329h1M147 308h1M124 274h1M135 245h1M122 251h1M180 315h1M174 278h1M188 271h1M186 247h1M179 235h1M193 257h1M99 235h1M118 245h1M99 295h1M182 275h1M196 242h1M83 237h1M163 293h1M142 244h1M102 241h1M149 281h1M186 272h1M103 239h1M186 240h1M185 311h1M176 279h1M98 237h1M154 243h1M171 296h1M182 321h1M164 280h1M175 240h1M180 329h1M184 277h1M98 239h1M190 269h1M148 246h1M126 234h1M131 254h1M175 299h1M186 276h1M184 272h1M175 300h1M185 244h1M88 234h1M127 232h1M115 231h1M98 232h1M76 236h1M114 235h1M157 231h1M128 237h1M130 237h1M121 235h1M106 240h1M85 236h1M77 230h1M114 234h1M97 237h1M95 233h1M91 238h1M89 238h1M88 238h1M77 233h1M104 235h1M82 234h1M107 239h1M147 240h1M109 235h1M148 236h1M109 234h1M109 243h1M103 237h1M81 234h1M121 235h1M104 240h1M87 233h1M84 230h1M114 236h1M132 233h1M118 241h1M96 235h1M98 239h1M89 237h1M103 234h1M110 229h1M104 234h1M132 239h1M96 234h1M166 232h1M142 239h1M117 228h1M118 234h1M80 238h1M84 238h1M79 238h1M110 232h1M79 233h1M88 233h1M140 237h1M92 234h1M81 237h1M98 233h1M84 234h1M76 236h1M79 238h1M92 238h1M86 228h1M108 237h1M111 238h1M108 237h1M95 238h1M97 235h1M94 237h1M72 233h1M112 236h1M100 236h1M109 239h1M109 231h1M142 239h1M124 237h1M146 233h1M93 233h1M135 234h1M111 230h1M116 239h1M105 234h1M91 231h1M97 230h1M95 232h1M75 235h1M83 231h1M134 242h1M103 242h1M90 235h1M129 237h1M118 225h1M106 234h1M97 229h1M83 238h1M113 239h1M118 240h1M108 235h1M87 234h1M78 232h1M98 226h1M73 232h1M111 240h1M107 235h1M115 233h1M99 237h1M120 234h1M133 240h1M91 235h1M80 232h1M107 241h1M132 236h1M92 233h1M110 234h1M116 235h1M107 234h1M145 240h1M103 232h1M113 239h1M76 236h1M146 237h1M93 238h1M141 234h1M92 235h1M128 274h1M130 240h1M130 266h1M131 265h1M127 268h1M125 246h1M126 252h1M136 249h1M122 267h1M119 267h1M123 266h1M133 269h1M134 281h1M129 259h1M124 262h1M129 282h1M126 251h1M131 246h1M130 260h1M120 270h1M132 264h1M130 252h1M130 268h1M130 254h1M129 263h1M133 254h1M132 266h1M128 280h1M132 256h1M129 254h1M125 279h1M132 237h1M127 255h1M127 263h1M128 266h1M124 276h1M127 274h1M127 267h1M123 273h1M129 258h1M129 266h1M123 270h1M128 255h1M135 247h1M122 250h1M130 254h1M125 250h1M131 272h1M128 275h1M134 265h1M128 256h1M129 258h1M135 269h1M130 272h1M129 272h1M125 264h1M131 264h1M130 272h1M128 272h1M125 267h1M131 275h1M127 263h1M134 254h1M132 251h1M126 251h1M127 250h1M134 254h1M122 280h1M121 274h1M122 269h1M124 277h1M138 272h1M130 258h1M132 283h1M126 251h1M132 264h1M129 260h1M127 246h1M128 246h1M128 278h1M129 271h1M126 273h1M132 248h1M130 249h1M113 301h1M104 282h1M120 286h1M97 320h1M121 300h1M115 309h1M112 305h1M115 279h1M123 295h1M101 284h1M119 312h1M116 322h1M105 277h1M99 294h1M104 293h1M110 320h1M113 293h1M95 235h1M119 287h1M101 287h1M125 321h1M104 317h1M109 290h1M109 289h1M108 277h1M116 278h1M116 288h1M88 311h1M113 289h1M106 322h1M107 307h1M115 297h1M112 276h1M126 321h1M129 282h1M121 272h1M102 294h1M97 299h1M125 299h1M114 297h1M120 300h1M123 265h1M97 318h1M117 304h1M103 292h1M125 299h1M119 306h1M97 298h1M124 302h1M100 299h1M107 295h1M94 304h1M101 310h1M109 236h1M99 287h1M122 305h1M126 289h1M99 277h1M141 304h1M98 311h1M124 281h1M111 331h1M97 308h1M106 293h1M120 274h1M113 293h1M103 300h1M105 280h1M129 268h1M123 296h1M113 278h1M99 283h1M109 300h1M103 317h1M130 245h1M111 287h1M118 297h1M116 285h1M122 298h1M123 287h1M128 279h1M110 295h1M127 277h1M113 278h1M109 323h1M110 278h1M109 300h1M114 296h1M117 308h1M117 288h1M109 293h1M108 312h1M106 280h1M117 291h1M101 293h1M130 323h1M112 287h1M124 298h1M116 289h1M120 307h1M128 292h1M133 313h1M115 304h1M103 233h1M123 299h1M130 299h1M108 282h1M103 293h1M105 291h1M120 295h1M117 279h1M110 277h1M108 300h1M96 326h1M103 291h1M96 309h1M136 246h1M111 315h1M126 314h1M112 280h1M123 279h1M100 291h1M98 292h1M121 280h1M115 307h1M100 289h1M105 323h1M104 292h1M117 285h1M119 291h1M141 286h1M121 277h1M111 282h1M119 280h1M133 311h1M116 299h1M123 298h1M129 307h1M110 299h1M113 313h1M108 293h1M95 304h1M114 279h1M131 292h1M97 312h1M109 235h1M115 291h1M112 288h1M101 293h1M121 309h1M105 326h1M114 283h1M113 279h1M121 274h1M76 312h1M74 317h1M112 319h1M102 318h1M99 313h1M91 310h1M94 317h1M82 322h1M89 316h1M83 320h1M94 325h1M93 318h1M117 328h1M77 325h1M72 319h1M108 320h1M101 314h1M94 315h1M106 316h1M105 320h1M93 320h1M84 324h1M99 323h1M94 314h1M78 317h1M90 309h1M84 325h1M106 322h1M94 319h1M72 319h1M75 312h1M86 323h1M79 319h1M96 321h1M91 318h1M111 321h1M73 321h1M101 321h1M93 311h1M85 321h1M80 316h1M92 315h1M73 317h1M84 322h1M92 314h1M96 315h1M94 319h1M80 325h1M88 324h1M86 318h1M72 320h1M74 314h1M100 313h1M118 318h1M78 325h1M72 318h1M200 242h1M140 235h1M156 244h1M168 242h1M143 248h1M190 244h1M165 240h1M166 239h1M157 237h1M181 241h1M175 238h1M141 237h1M170 236h1M177 237h1M156 242h1M142 232h1M188 240h1M209 241h1M153 245h1M185 238h1M146 238h1M168 242h1M217 237h1M169 237h1M183 242h1M139 239h1M176 243h1M166 243h1M177 237h1M165 238h1M163 243h1M168 240h1M166 237h1M156 245h1M206 246h1M133 244h1M161 242h1M141 242h1M141 234h1M196 236h1M184 239h1M164 241h1M188 243h1M148 239h1M192 246h1M156 244h1M146 244h1M155 236h1M178 243h1M136 231h1M163 242h1M155 241h1M157 238h1M174 239h1M151 241h1M121 241h1M163 241h1M160 240h1M136 243h1M159 241h1M155 235h1M177 240h1M160 242h1M199 240h1M150 239h1M153 239h1M187 242h1M179 240h1M167 242h1M173 238h1M158 236h1M181 245h1M203 228h1M182 243h1M218 239h1M150 242h1M137 235h1M194 249h1M187 278h1M194 253h1M197 266h1M190 267h1M191 277h1M194 257h1M189 273h1M189 256h1M182 274h1M192 263h1M191 254h1M192 283h1M189 266h1M198 267h1M198 276h1M195 264h1M190 279h1M192 264h1M202 272h1M199 268h1M186 267h1M199 268h1M191 264h1M192 276h1M195 255h1M189 274h1M188 272h1M190 277h1M192 246h1M188 275h1M191 284h1M191 258h1M191 262h1M202 273h1M188 272h1M195 252h1M191 266h1M192 256h1M194 255h1M195 277h1M193 276h1M180 326h1M154 332h1M146 340h1M135 300h1M136 297h1M176 304h1M185 293h1M195 282h1M132 283h1M141 310h1M180 305h1M143 296h1M148 319h1M150 302h1M149 339h1M181 293h1M168 281h1M169 290h1M125 301h1M183 314h1M193 299h1M185 280h1M144 304h1M136 333h1M152 330h1M187 294h1M148 279h1M138 329h1M179 335h1M177 298h1M168 290h1M150 295h1M184 300h1M150 298h1M145 299h1M145 294h1M159 331h1M187 316h1M156 337h1M189 299h1M139 313h1M184 305h1M149 294h1M186 276h1M152 286h1M125 334h1M140 299h1M138 330h1M185 308h1M185 301h1M129 284h1M148 293h1M181 321h1M172 284h1M170 296h1M147 288h1M187 305h1M157 288h1M177 299h1M177 303h1M117 297h1M143 323h1M185 307h1M168 339h1M186 324h1M159 284h1M182 335h1M187 306h1M186 305h1M179 290h1M139 324h1M128 301h1M131 322h1M144 304h1M149 325h1M146 280h1M186 293h1M135 323h1M144 306h1M146 321h1M147 281h1M184 327h1M129 301h1M144 328h1M198 302h1M136 328h1M171 279h1M148 299h1M182 320h1M157 343h1M143 279h1M191 286h1M176 282h1M154 298h1M127 317h1M142 307h1M156 289h1M156 333h1M175 289h1M148 338h1M168 337h1M206 308h1M198 291h1M162 333h1M170 283h1M134 331h1M131 336h1M154 327h1M141 334h1M116 324h1M163 334h1M135 330h1M133 341h1M145 333h1M114 331h1M168 334h1M142 332h1M139 337h1M155 332h1M179 326h1M130 328h1M136 326h1M155 333h1M117 326h1M136 318h1M155 330h1M152 326h1M135 331h1M145 327h1M159 332h1M135 322h1M149 336h1M145 338h1M156 337h1M120 325h1M146 331h1M142 327h1M109 336h1M145 326h1M129 320h1M132 225h1M76 227h1M113 287h1M205 227h1M154 222h1M115 235h1M135 234h1M180 282h1M182 343h1M81 216h1M332 284h1M361 233h1M242 248h1M354 265h1M321 243h1M336 279h1M342 281h1M315 260h1M293 258h1M358 247h1M248 280h1M229 246h1M249 343h1M349 267h1M351 261h1M228 222h1M329 240h1M327 284h1M285 268h1M235 336h1M329 287h1M322 237h1M328 223h1M251 283h1M277 265h1M241 245h1M240 245h1M248 278h1M348 234h1M249 280h1M264 270h1M268 303h1M249 277h1M366 237h1M350 274h1M348 269h1M342 274h1M346 274h1M265 246h1M319 247h1M321 247h1M287 247h1M232 336h1M359 236h1M221 280h1M345 232h1M316 258h1M242 234h1M273 244h1M334 239h1M277 331h1M335 239h1M238 247h1M251 289h1M358 239h1M264 305h1M228 342h1M286 316h1M359 230h1M351 257h1M227 247h1M259 245h1M349 264h1M258 331h1M310 265h1M321 250h1M345 269h1M248 281h1M251 281h1M329 285h1M262 225h1M332 283h1M280 247h1M265 325h1M246 238h1M255 275h1M255 273h1M248 276h1M247 235h1M350 267h1M315 270h1M246 280h1M273 328h1M327 245h1M285 320h1M356 266h1M235 243h1M262 319h1M315 270h1M265 270h1M260 271h1M311 258h1M262 273h1M226 245h1M342 276h1M230 336h1M320 245h1M261 329h1M361 247h1M359 241h1M226 334h1M350 231h1M282 248h1M277 266h1M291 245h1M282 247h1M288 252h1M315 257h1M245 247h1M337 283h1M315 273h1M342 237h1M229 246h1M247 247h1M272 268h1M337 286h1M301 242h1M319 225h1M334 228h1M349 265h1M248 277h1M350 271h1M257 286h1M287 256h1M348 278h1M294 251h1M247 282h1M306 259h1M314 278h1M263 291h1M353 252h1M351 274h1M275 246h1M243 246h1M317 288h1M221 232h1M358 230h1M314 268h1M339 279h1M252 285h1M352 256h1M244 279h1M355 254h1M222 248h1M329 242h1M307 273h1M249 283h1M343 283h1M228 237h1M303 267h1M313 261h1M343 236h1M246 278h1M314 280h1M266 326h1M281 268h1M349 227h1M317 243h1M337 234h1M340 279h1M251 247h1M259 295h1M265 309h1M235 246h1M317 255h1M322 248h1M352 265h1M317 253h1M352 283h1M341 276h1M313 260h1M242 248h1M308 268h1M313 258h1M308 305h1M315 247h1M255 248h1M256 247h1M269 270h1M313 272h1M234 248h1M237 246h1M262 300h1M328 282h1M348 265h1M240 248h1M225 248h1M264 296h1M337 282h1M236 248h1M331 242h1M251 244h1M348 227h1M332 290h1M228 241h1M235 243h1M220 281h1M308 291h1M362 230h1M263 245h1M351 265h1M347 282h1M235 242h1M271 343h1M248 240h1M348 267h1M346 270h1M340 277h1M355 252h1M252 332h1M279 266h1M332 242h1M352 258h1M355 249h1M321 284h1M255 275h1M344 273h1M307 287h1M220 281h1M333 241h1M316 261h1M246 280h1M245 248h1M327 287h1M263 314h1M280 263h1M333 241h1M348 266h1M362 224h1M307 292h1M342 280h1M301 288h1M250 277h1M294 252h1M306 302h1M241 244h1M256 288h1M258 328h1M245 279h1M248 279h1M308 294h1M342 237h1M352 258h1M351 274h1M225 248h1M240 336h1M254 279h1M311 261h1M256 272h1M355 231h1M324 241h1M321 305h1M254 283h1M224 337h1M242 279h1M349 233h1M315 265h1M245 342h1M305 252h1M226 336h1M350 265h1M339 277h1M238 343h1M333 238h1M366 260h1M347 266h1M305 267h1M312 265h1M251 279h1M286 274h1M298 244h1M230 246h1M261 278h1M350 260h1M338 281h1M339 236h1M255 289h1M244 280h1M236 245h1M353 252h1M326 239h1M329 236h1M273 250h1M366 244h1M342 238h1M315 260h1M288 250h1M283 231h1M340 276h1M311 275h1M346 235h1M356 243h1M306 281h1M359 237h1M228 244h1M351 257h1M322 248h1M248 279h1M242 245h1M321 284h1M349 284h1M321 244h1M230 339h1M263 326h1M345 279h1M333 239h1M334 282h1M349 266h1M256 291h1M336 239h1M324 283h1M266 245h1M256 287h1M350 258h1M340 282h1M225 337h1M331 242h1M253 232h1M323 246h1M329 239h1M352 233h1M317 291h1M253 337h1M313 259h1M318 248h1M263 329h1M324 233h1M350 262h1M231 241h1M346 271h1M246 239h1M327 230h1M265 315h1M356 257h1M359 238h1M316 258h1M351 264h1M363 227h1M340 237h1M246 239h1M353 231h1M248 333h1M249 246h1M247 241h1M315 278h1M267 302h1M223 335h1M359 238h1M255 245h1M283 263h1M343 235h1M299 292h1M317 299h1M314 281h1M328 243h1M224 243h1M229 246h1M319 251h1M245 343h1M252 248h1M355 230h1M303 262h1M289 289h1M336 280h1M316 259h1M321 284h1M261 282h1M358 252h1M320 282h1M245 243h1M304 269h1M326 295h1M331 239h1M264 244h1M261 247h1M229 335h1M306 279h1M230 338h1M258 294h1M324 246h1M344 272h1M284 261h1M223 243h1M354 255h1M322 240h1M259 272h1M315 275h1M227 343h1M263 307h1M265 304h1M272 240h1M249 333h1M348 273h1M224 243h1M356 231h1M258 294h1M298 254h1M350 263h1M260 332h1M343 279h1M238 247h1M352 260h1M345 270h1M352 262h1M337 226h1M228 245h1M315 264h1M328 284h1M257 337h1M237 247h1M353 263h1M227 248h1M319 245h1M227 334h1M253 248h1M341 234h1M246 245h1M234 244h1M326 241h1M248 281h1M257 331h1M352 229h1M271 242h1M325 246h1M312 277h1M227 337h1M322 240h1M334 230h1M236 245h1M263 327h1M256 344h1M266 270h1M347 268h1M349 270h1M335 237h1M221 237h1M294 242h1M230 244h1M225 335h1M326 244h1M224 334h1M258 242h1M330 240h1M239 343h1M350 262h1M264 310h1M257 287h1M328 244h1M227 247h1M349 268h1M336 239h1M320 283h1M285 253h1M351 255h1M314 266h1M293 251h1M313 264h1M358 250h1M297 280h1M335 240h1M340 279h1M314 262h1M311 265h1M353 258h1M337 280h1M339 282h1M233 246h1M254 288h1M265 320h1M257 280h1M257 283h1M237 248h1M245 281h1M334 282h1M340 277h1M265 319h1M258 288h1M338 232h1M262 321h1M267 310h1M248 281h1M245 248h1M226 338h1M259 286h1M267 312h1M254 290h1M261 293h1M261 319h1M361 247h1M241 243h1M352 264h1M317 249h1M349 265h1M221 242h1M236 246h1M261 320h1M267 308h1M282 251h1M243 280h1M263 315h1M246 281h1M361 255h1M241 245h1M348 265h1M351 264h1M258 281h1M325 244h1M344 232h1M240 247h1M270 245h1M240 245h1M304 266h1M254 285h1M258 248h1M224 238h1M267 299h1M276 299h1M246 281h1M251 287h1M338 233h1M274 246h1M351 224h1M257 289h1M265 300h1M255 247h1M261 293h1M347 269h1M346 275h1M349 262h1M229 248h1M240 246h1M251 336h1M323 289h1M246 278h1M235 237h1M243 280h1M253 276h1M321 249h1M305 285h1M351 257h1M309 261h1M349 263h1M361 269h1M330 242h1M354 266h1M254 278h1M289 258h1M252 247h1M242 336h1M345 271h1M315 251h1M244 344h1M329 242h1M231 244h1M306 251h1M316 250h1M264 321h1M286 261h1M334 238h1M262 301h1M321 291h1M363 263h1M259 338h1M270 322h1M280 272h1M359 239h1M324 244h1M341 280h1M351 256h1M317 249h1M339 238h1M311 268h1M331 242h1M361 237h1M257 276h1M262 328h1M259 328h1M273 288h1M334 240h1M261 323h1M337 239h1M229 335h1M350 228h1M264 319h1M265 295h1M356 263h1M243 248h1M221 248h1M347 275h1M255 329h1M273 245h1M345 270h1M324 243h1M252 286h1M345 270h1M328 287h1M265 248h1M285 252h1M361 224h1M225 240h1M265 302h1M231 241h1M321 239h1M344 271h1M269 273h1M358 227h1M346 233h1M324 244h1M326 246h1M357 250h1M269 237h1M247 279h1M263 243h1M309 242h1M238 335h1M320 249h1M350 263h1M326 242h1M262 305h1M267 319h1M311 257h1M249 335h1M355 246h1M346 269h1M261 284h1M263 310h1M282 262h1M253 279h1M255 337h1M324 286h1M259 248h1M335 288h1M254 275h1M340 236h1M335 238h1M344 275h1M248 245h1M320 251h1M228 245h1M232 247h1M263 285h1M236 226h1M241 236h1M226 245h1M301 251h1M246 242h1M285 241h1M272 242h1M243 247h1M276 242h1M255 247h1M304 244h1M233 243h1M267 246h1M227 248h1M260 242h1M309 239h1M241 247h1M267 241h1M262 247h1M276 240h1M224 241h1M240 245h1M287 245h1M251 245h1M270 240h1M244 237h1M227 241h1M259 248h1M284 242h1M223 242h1M232 242h1M252 244h1M232 242h1M258 244h1M257 244h1M242 247h1M228 245h1M295 247h1M266 242h1M288 242h1M259 242h1M245 241h1M224 243h1M242 241h1M232 244h1M251 234h1M222 243h1M270 243h1M281 243h1M250 242h1M258 233h1M253 245h1M239 241h1M270 239h1M258 246h1M238 247h1M239 241h1M260 244h1M232 244h1M281 242h1M288 245h1M295 246h1M269 241h1M316 237h1M270 244h1M234 246h1M245 243h1M228 242h1M240 247h1M264 242h1M250 240h1M265 249h1M257 244h1M257 249h1M238 241h1M223 244h1M238 247h1M270 244h1M243 239h1M249 246h1M303 246h1M270 243h1M224 244h1M254 246h1M277 248h1M243 245h1M281 240h1M254 244h1M222 245h1M242 241h1M265 238h1M229 244h1M270 244h1M244 234h1M231 244h1M231 245h1M308 238h1M251 246h1M274 249h1M287 236h1M320 241h1M253 237h1M307 242h1M287 246h1M270 239h1M235 242h1M294 245h1M242 237h1M279 247h1M264 240h1M266 248h1M255 240h1M299 236h1M259 243h1M264 241h1M276 248h1M257 242h1M244 239h1M320 242h1M275 238h1M240 243h1M244 244h1M240 243h1M249 241h1M290 246h1M236 246h1M273 243h1M226 240h1M305 239h1M240 243h1M229 244h1M251 245h1M238 247h1M283 244h1M246 242h1M281 242h1M288 243h1M247 235h1M249 239h1M269 244h1M220 248h1M283 267h1M287 258h1M282 278h1M293 244h1M283 268h1M287 263h1M292 260h1M282 281h1M297 269h1M286 266h1M278 265h1M282 271h1M283 247h1M273 274h1M291 288h1M287 244h1M296 256h1M289 261h1M293 262h1M293 251h1M290 255h1M292 266h1M298 246h1M292 256h1M292 249h1M295 262h1M289 283h1M295 260h1M296 256h1M291 267h1M304 287h1M292 269h1M281 282h1M290 250h1M292 279h1M291 258h1M297 266h1M288 244h1M288 260h1M295 259h1M288 266h1M295 286h1M281 252h1M302 261h1M284 266h1M301 265h1M291 266h1M287 249h1M304 254h1M290 279h1M282 252h1M296 261h1M292 264h1M305 253h1M284 271h1M297 258h1M287 237h1M290 260h1M291 266h1M302 258h1M297 249h1M288 256h1M285 260h1M295 256h1M277 274h1M303 269h1M290 259h1M293 288h1M294 253h1M295 251h1M298 261h1M295 259h1M274 265h1M286 263h1M299 246h1M284 247h1M289 265h1M290 267h1M296 276h1M273 245h1M290 251h1M295 277h1M283 261h1M288 274h1M286 260h1M295 260h1M285 280h1M283 253h1M304 261h1M296 250h1M274 272h1M289 248h1M291 259h1M289 272h1M284 271h1M286 270h1M298 282h1M298 247h1M281 276h1M285 292h1M290 268h1M287 258h1M291 264h1M288 263h1M293 248h1M283 279h1M291 277h1M284 271h1M282 271h1M291 276h1M283 272h1M285 251h1M293 248h1M293 260h1M293 263h1M290 258h1M286 251h1M294 258h1M302 275h1M286 267h1M298 252h1M276 273h1M284 241h1M291 257h1M294 279h1M302 270h1M295 248h1M299 271h1M282 260h1M287 262h1M276 276h1M289 254h1M289 249h1M293 260h1M284 264h1M285 260h1M286 279h1M293 266h1M293 272h1M302 262h1M310 276h1M312 277h1M301 272h1M301 258h1M304 255h1M315 261h1M312 274h1M302 282h1M284 253h1M302 279h1M297 242h1M301 246h1M302 262h1M304 261h1M294 264h1M292 257h1M298 270h1M305 259h1M296 270h1M307 279h1M309 297h1M306 215h1M297 272h1M298 286h1M293 257h1M301 256h1M315 257h1M309 256h1M315 281h1M305 276h1M304 254h1M293 271h1M307 267h1M305 262h1M302 225h1M310 267h1M307 251h1M299 259h1M305 259h1M309 272h1M308 274h1M305 256h1M300 243h1M291 256h1M313 261h1M303 267h1M302 246h1M297 291h1M303 285h1M311 260h1M292 257h1M308 241h1M306 281h1M304 271h1M304 275h1M309 263h1M289 255h1M302 285h1M305 236h1M308 255h1M303 277h1M310 309h1M314 268h1M311 272h1M298 264h1M313 281h1M309 290h1M309 284h1M302 255h1M308 282h1M310 277h1M311 264h1M305 280h1M298 284h1M304 271h1M304 246h1M307 283h1M302 290h1M292 283h1M294 260h1M299 253h1M317 299h1M309 263h1M303 254h1M308 286h1M300 255h1M305 293h1M304 293h1M297 275h1M317 255h1M302 283h1M304 276h1M310 286h1M318 254h1M306 285h1M311 279h1M301 278h1M300 291h1M304 226h1M286 279h1M310 271h1M305 263h1M294 267h1M310 261h1M308 280h1M294 271h1M304 285h1M310 274h1M293 280h1M300 255h1M303 275h1M302 298h1M366 236h1M346 234h1M328 233h1M336 235h1M330 238h1M323 237h1M360 244h1M334 228h1M336 237h1M349 232h1M352 234h1M367 239h1M338 237h1M331 241h1M343 230h1M329 243h1M362 239h1M333 235h1M317 240h1M356 244h1M341 238h1M351 233h1M352 231h1M355 249h1M353 234h1M341 236h1M354 229h1M320 248h1M350 227h1M333 226h1M334 235h1M334 225h1M338 234h1M316 238h1M343 236h1M340 236h1M344 236h1M335 238h1M333 240h1M360 240h1M337 238h1M341 237h1M337 237h1M358 253h1M362 247h1M363 235h1M360 245h1M351 231h1M346 231h1M361 237h1M347 224h1M357 249h1M333 230h1M339 236h1M358 244h1M360 236h1M286 340h1M275 299h1M270 297h1M277 295h1M292 311h1M280 301h1M276 314h1M270 296h1M257 282h1M273 340h1M273 293h1M279 314h1M274 307h1M254 333h1M259 276h1M261 281h1M265 295h1M283 278h1M270 297h1M269 303h1M291 296h1M274 307h1M286 327h1M274 312h1M276 294h1M271 322h1M283 304h1M273 306h1M286 320h1M263 325h1M268 291h1M269 276h1M273 296h1M286 280h1M284 301h1M263 323h1M270 317h1M270 325h1M263 329h1M269 305h1M274 303h1M268 291h1M269 310h1M271 319h1M272 324h1M267 324h1M273 319h1M286 299h1M284 301h1M260 324h1M276 298h1M276 309h1M271 301h1M265 313h1M261 288h1M286 297h1M282 276h1M270 297h1M286 295h1M262 294h1M278 289h1M274 304h1M265 309h1M284 293h1M265 293h1M272 304h1M272 283h1M274 324h1M268 333h1M281 322h1M276 299h1M284 298h1M267 328h1M278 265h1M282 308h1M269 303h1M273 284h1M281 338h1M285 312h1M260 290h1M272 306h1M256 274h1M270 289h1M285 328h1M278 324h1M263 304h1M291 288h1M260 249h1M268 298h1M265 306h1M285 287h1M288 302h1M284 296h1M279 315h1M281 281h1M279 283h1M268 285h1M260 279h1M268 335h1M262 329h1M263 320h1M273 328h1M275 311h1M273 309h1M265 330h1M265 289h1M283 318h1M277 276h1M279 285h1M269 308h1M268 275h1M283 306h1M275 271h1M279 297h1M274 307h1M278 285h1M271 307h1M279 275h1M257 327h1M278 284h1M267 303h1M262 299h1M258 276h1M287 307h1M269 287h1M275 307h1M255 281h1M271 312h1M282 324h1M269 295h1M276 272h1M261 320h1M274 269h1M272 313h1M286 333h1M272 297h1M271 283h1M263 282h1M292 301h1M272 335h1M224 342h1M257 340h1M239 342h1M271 338h1M292 344h1M230 343h1M281 342h1M237 338h1M260 337h1M280 343h1M277 340h1M275 339h1M247 342h1M234 339h1M271 336h1M278 338h1M228 335h1M240 341h1M250 340h1M240 344h1M242 340h1M237 337h1M234 338h1M264 336h1M241 341h1M242 335h1M225 333h1M246 343h1M302 290h1M311 286h1M304 295h1M305 289h1M313 296h1M312 297h1M323 287h1M319 286h1M310 288h1M326 286h1M321 290h1M310 289h1M337 297h1M311 290h1M292 291h1M302 294h1M299 290h1M311 288h1M307 288h1M296 292h1M324 285h1M304 284h1M314 290h1M298 283h1M310 294h1M325 288h1M308 297h1M326 286h1M302 283h1M316 288h1M302 288h1M298 294h1M311 292h1M295 286h1M318 292h1M310 285h1M304 292h1M312 288h1M318 283h1M304 290h1M327 287h1M324 288h1M269 278h1M359 338h1M256 209h1M344 324h1M265 203h1M352 320h1M284 328h1M336 343h1M274 248h1M503 302h1M414 300h1M456 248h1M396 239h1M394 240h1M500 253h1M418 274h1M411 234h1M504 302h1M407 340h1M408 279h1M413 312h1M466 246h1M444 272h1M400 337h1M408 280h1M384 239h1M464 302h1M373 240h1M501 269h1M463 272h1M486 310h1M408 301h1M496 275h1M486 313h1M389 237h1M399 342h1M420 331h1M400 240h1M412 302h1M413 294h1M430 299h1M387 238h1M499 285h1M407 291h1M485 309h1M493 251h1M487 250h1M437 239h1M450 246h1M511 257h1M463 286h1M396 232h1M382 340h1M397 283h1M414 319h1M498 282h1M378 242h1M469 308h1M384 239h1M380 343h1M467 278h1M499 258h1M383 242h1M503 293h1M419 332h1M454 248h1M463 298h1M462 274h1M406 277h1M390 339h1M414 324h1M462 287h1M413 320h1M485 248h1M502 293h1M503 294h1M420 341h1M404 287h1M414 311h1M443 268h1M426 273h1M411 279h1M501 307h1M406 283h1M389 243h1M485 317h1M494 311h1M477 308h1M390 339h1M403 278h1M372 241h1M450 268h1M428 269h1M504 304h1M403 291h1M455 269h1M502 298h1M453 251h1M393 235h1M495 277h1M375 242h1M439 234h1M417 325h1M461 290h1M404 284h1M461 276h1M485 307h1M462 308h1M481 246h1M416 289h1M417 276h1M462 294h1M484 247h1M460 253h1M439 268h1M397 242h1M415 298h1M422 245h1M503 293h1M448 267h1M419 242h1M436 272h1M492 319h1M416 315h1M502 299h1M463 295h1M387 341h1M415 283h1M503 290h1M455 276h1M405 243h1M509 285h1M382 340h1M460 290h1M372 240h1M496 278h1M467 308h1M482 248h1M419 273h1M462 292h1M414 305h1M450 247h1M497 312h1M461 253h1M418 244h1M392 338h1M462 250h1M447 231h1M473 312h1M410 305h1M455 250h1M471 251h1M502 277h1M502 286h1M408 287h1M433 325h1M462 278h1M404 287h1M414 282h1M438 319h1M406 286h1M417 334h1M381 344h1M466 275h1M481 249h1M400 282h1M391 240h1M480 239h1M409 240h1M395 344h1M458 252h1M449 273h1M464 306h1M468 277h1M371 238h1M385 233h1M462 284h1M460 253h1M464 284h1M407 333h1M426 333h1M463 305h1M405 282h1M405 283h1M418 322h1M506 299h1M496 277h1M442 273h1M401 241h1M413 275h1M476 247h1M453 288h1M411 306h1M444 247h1M407 244h1M403 281h1M482 304h1M415 276h1M411 294h1M483 248h1M458 291h1M411 239h1M433 269h1M471 251h1M409 332h1M414 319h1M412 292h1M385 233h1M379 240h1M389 242h1M459 285h1M467 249h1M497 252h1M416 305h1M481 307h1M462 299h1M404 233h1M454 251h1M496 276h1M386 234h1M468 242h1M407 243h1M502 273h1M502 295h1M500 263h1M464 290h1M460 253h1M427 271h1M494 317h1M371 242h1M409 290h1M420 288h1M417 323h1M410 244h1M376 241h1M390 341h1M412 289h1M390 339h1M503 298h1M433 237h1M394 240h1M401 243h1M503 296h1M461 253h1M399 340h1M380 241h1M416 299h1M387 237h1M418 279h1M446 267h1M457 271h1M462 275h1M469 278h1M451 250h1M375 241h1M469 276h1M379 241h1M378 239h1M403 241h1M463 292h1M500 270h1M497 277h1M407 280h1M413 311h1M496 281h1M381 239h1M442 245h1M483 245h1M466 246h1M499 253h1M405 243h1M408 281h1M387 340h1M413 307h1M484 307h1M409 301h1M465 284h1M414 313h1M500 275h1M371 239h1M381 242h1M497 307h1M481 250h1M446 238h1M409 286h1M475 249h1M411 334h1M503 294h1M480 306h1M462 288h1M398 283h1M481 309h1M424 315h1M496 306h1M369 341h1M377 338h1M476 250h1M500 303h1M461 305h1M412 286h1M397 236h1M382 241h1M483 308h1M502 258h1M426 245h1M385 239h1M387 239h1M411 314h1M460 273h1M378 237h1M497 251h1M464 300h1M450 249h1M482 307h1M451 249h1M422 313h1M497 253h1M457 252h1M406 300h1M411 325h1M405 243h1M455 247h1M404 338h1M481 307h1M422 241h1M373 236h1M403 335h1M499 303h1M393 236h1M455 246h1M397 240h1M456 251h1M379 241h1M461 274h1M458 251h1M499 277h1M464 281h1M409 308h1M457 273h1M487 248h1M400 342h1M404 295h1M399 280h1M377 234h1M492 308h1M470 244h1M373 239h1M499 270h1M376 241h1M502 296h1M397 232h1M381 341h1M406 290h1M470 276h1M404 341h1M464 293h1M456 252h1M401 280h1M399 283h1M471 313h1M468 247h1M497 275h1M463 290h1M451 250h1M500 282h1M460 271h1M469 276h1M395 241h1M433 269h1M456 250h1M458 284h1M485 307h1M414 277h1M410 331h1M370 237h1M483 305h1M507 258h1M488 241h1M477 249h1M455 268h1M474 245h1M504 276h1M486 311h1M402 290h1M423 273h1M387 229h1M399 338h1M501 285h1M384 237h1M503 300h1M370 239h1M509 258h1M444 238h1M509 282h1M474 311h1M473 246h1M440 270h1M475 250h1M374 240h1M421 326h1M392 235h1M407 336h1M372 241h1M463 273h1M431 247h1M462 252h1M414 336h1M461 305h1M378 237h1M418 238h1M464 283h1M484 308h1M497 281h1M461 286h1M476 249h1M409 244h1M463 297h1M467 309h1M435 268h1M423 297h1M418 311h1M457 268h1M476 316h1M399 240h1M499 281h1M480 314h1M502 258h1M399 285h1M429 280h1M408 240h1M478 249h1M491 310h1M479 247h1M377 226h1M439 275h1M404 290h1M378 240h1M388 343h1M464 286h1M412 243h1M464 296h1M401 283h1M418 306h1M450 270h1M377 239h1M403 283h1M387 240h1M412 330h1M405 335h1M467 275h1M388 226h1M380 237h1M416 322h1M473 311h1M373 240h1M381 242h1M459 252h1M503 270h1M464 305h1M408 300h1M460 270h1M386 342h1M451 248h1M465 251h1M470 310h1M459 253h1M405 281h1M498 306h1M479 244h1M457 252h1M463 287h1M496 281h1M370 242h1M378 338h1M491 245h1M462 296h1M460 253h1M473 308h1M501 265h1M386 241h1M402 283h1M380 239h1M483 247h1M398 339h1M484 307h1M376 237h1M390 341h1M401 291h1M461 250h1M431 343h1M432 268h1M496 307h1M469 280h1M465 248h1M502 271h1M495 277h1M447 267h1M410 277h1M479 307h1M495 252h1M459 269h1M481 249h1M406 291h1M399 283h1M440 268h1M505 282h1M390 242h1M460 242h1M410 330h1M419 245h1M460 251h1M464 292h1M503 294h1M398 240h1M378 339h1M400 280h1M455 272h1M413 327h1M470 279h1M498 284h1M497 250h1M414 290h1M435 244h1M485 249h1M462 253h1M438 275h1M451 270h1M464 284h1M501 300h1M462 299h1M502 301h1M445 249h1M416 297h1M456 250h1M454 274h1M403 336h1M470 251h1M465 278h1M432 316h1M428 274h1M500 252h1M384 239h1M379 237h1M449 249h1M411 244h1M396 238h1M458 292h1M458 250h1M468 281h1M371 238h1M403 278h1M412 296h1M372 240h1M420 236h1M407 280h1M464 301h1M463 284h1M460 243h1M494 247h1M452 269h1M502 260h1M407 332h1M469 307h1M482 250h1M504 303h1M417 320h1M407 300h1M408 289h1M516 240h1M502 276h1M446 249h1M506 318h1M403 289h1M468 242h1M374 241h1M459 252h1M464 295h1M506 257h1M470 278h1M411 331h1M501 301h1M372 242h1M372 340h1M500 258h1M398 242h1M479 312h1M448 267h1M454 252h1M416 241h1M401 290h1M377 339h1M412 302h1M453 270h1M497 254h1M382 340h1M449 269h1M447 249h1M432 244h1M408 238h1M371 240h1M383 237h1M412 331h1M413 322h1M402 239h1M386 236h1M473 250h1M398 337h1M504 295h1M493 243h1M373 241h1M435 243h1M454 244h1M413 312h1M418 272h1M470 280h1M411 238h1M497 282h1M398 243h1M469 308h1M446 244h1M429 244h1M463 247h1M464 291h1M398 339h1M425 326h1M505 267h1M407 334h1M422 317h1M498 314h1M466 306h1M405 292h1M458 252h1M462 283h1M448 250h1M401 281h1M386 226h1M457 250h1M416 327h1M400 283h1M506 301h1M449 246h1M500 305h1M483 307h1M435 271h1M493 252h1M466 306h1M397 283h1M414 322h1M414 274h1M405 336h1M465 302h1M393 241h1M402 234h1M430 237h1M413 231h1M449 241h1M414 228h1M459 248h1M422 239h1M377 235h1M420 241h1M408 235h1M429 241h1M411 237h1M433 240h1M442 240h1M370 237h1M438 237h1M399 234h1M414 240h1M391 232h1M432 240h1M394 240h1M398 236h1M418 238h1M397 240h1M406 239h1M391 237h1M413 236h1M426 237h1M404 239h1M450 235h1M431 235h1M417 245h1M430 239h1M449 234h1M399 237h1M437 239h1M400 241h1M375 238h1M398 241h1M425 237h1M436 239h1M449 232h1M382 242h1M420 238h1M417 235h1M401 238h1M408 236h1M453 233h1M392 242h1M410 236h1M369 235h1M415 239h1M373 230h1M413 238h1M424 229h1M417 236h1M410 236h1M401 232h1M425 243h1M390 231h1M437 243h1M407 242h1M389 241h1M392 239h1M377 238h1M414 240h1M426 234h1M431 230h1M389 239h1M395 237h1M418 241h1M391 236h1M427 236h1M424 238h1M430 241h1M405 236h1M407 237h1M373 242h1M426 242h1M412 239h1M420 228h1M406 242h1M401 235h1M435 235h1M423 246h1M375 239h1M410 242h1M416 244h1M422 244h1M370 238h1M410 231h1M409 242h1M434 240h1M413 230h1M403 236h1M386 234h1M411 242h1M429 239h1M402 230h1M410 234h1M419 237h1M434 242h1M383 241h1M391 241h1M373 237h1M411 231h1M416 242h1M441 239h1M425 234h1M371 240h1M403 244h1M410 239h1M398 238h1M405 237h1M391 239h1M403 237h1M395 235h1M419 239h1M423 240h1M371 241h1M397 240h1M380 235h1M409 241h1M381 238h1M450 292h1M446 278h1M424 291h1M435 292h1M449 282h1M419 276h1M436 271h1M437 271h1M445 295h1M438 277h1M420 289h1M423 288h1M426 285h1M439 271h1M442 296h1M437 273h1M459 273h1M451 239h1M433 274h1M412 296h1M429 277h1M442 284h1M406 292h1M423 290h1M428 293h1M425 286h1M426 277h1M429 278h1M421 279h1M424 279h1M411 277h1M412 286h1M441 296h1M432 279h1M444 280h1M424 280h1M419 290h1M413 276h1M416 297h1M421 276h1M418 275h1M428 293h1M424 287h1M437 273h1M439 295h1M437 282h1M420 282h1M436 271h1M452 280h1M418 289h1M441 273h1M437 299h1M430 281h1M432 272h1M428 288h1M432 279h1M445 272h1M449 285h1M436 279h1M424 279h1M437 270h1M441 282h1M420 273h1M440 278h1M433 289h1M428 282h1M417 312h1M431 273h1M432 302h1M425 294h1M419 298h1M443 305h1M423 292h1M448 275h1M437 268h1M426 278h1M432 280h1M430 281h1M412 299h1M447 271h1M412 290h1M447 269h1M414 282h1M422 297h1M414 281h1M417 243h1M412 289h1M420 274h1M425 286h1M445 296h1M447 286h1M433 270h1M417 279h1M431 273h1M410 284h1M419 288h1M425 297h1M433 283h1M414 282h1M439 276h1M449 278h1M442 291h1M425 282h1M436 285h1M431 277h1M426 284h1M447 290h1M446 279h1M439 271h1M420 286h1M445 275h1M415 286h1M422 279h1M404 279h1M446 277h1M430 283h1M421 273h1M429 277h1M397 284h1M417 277h1M414 293h1M450 277h1M416 273h1M417 278h1M440 275h1M424 291h1M438 245h1M449 243h1M435 299h1M440 284h1M431 279h1M433 280h1M435 270h1M450 274h1M455 251h1M429 291h1M422 289h1M420 303h1M450 283h1M430 290h1M404 290h1M442 284h1M423 273h1M418 275h1M419 297h1M433 280h1M447 286h1M430 298h1M416 289h1M442 273h1M429 271h1M427 281h1M434 294h1M421 284h1M466 245h1M489 238h1M495 247h1M462 244h1M454 249h1M479 237h1M514 250h1M492 239h1M456 251h1M488 247h1M452 248h1M492 252h1M445 240h1M490 238h1M460 252h1M472 245h1M465 248h1M459 237h1M485 246h1M482 249h1M475 246h1M472 244h1M480 248h1M473 250h1M483 245h1M493 238h1M462 249h1M447 241h1M468 246h1M463 246h1M504 254h1M464 240h1M462 242h1M496 248h1M504 247h1M479 246h1M494 244h1M482 246h1M465 243h1M484 246h1M465 251h1M512 245h1M468 241h1M477 245h1M472 245h1M489 243h1M486 239h1M450 248h1M474 246h1M492 248h1M477 247h1M465 245h1M458 244h1M488 247h1M461 245h1M452 242h1M488 248h1M482 248h1M472 243h1M478 245h1M466 247h1M458 235h1M493 237h1M465 235h1M509 239h1M472 246h1M478 241h1M481 244h1M453 247h1M479 250h1M505 261h1M505 269h1M510 315h1M499 269h1M506 255h1M505 282h1M503 261h1M500 287h1M505 269h1M508 250h1M508 269h1M505 273h1M502 308h1M509 246h1M506 279h1M504 261h1M502 254h1M507 255h1M506 285h1M499 285h1M508 275h1M499 272h1M505 253h1M501 272h1M501 282h1M503 263h1M506 284h1M516 278h1M503 257h1M510 257h1M503 288h1M503 291h1M505 297h1M505 300h1M505 284h1M509 300h1M502 254h1M506 301h1M506 279h1M499 283h1M503 281h1M512 271h1M506 273h1M505 265h1M504 280h1M512 269h1M500 276h1M501 269h1M501 279h1M455 289h1M462 286h1M452 306h1M459 292h1M459 299h1M455 285h1M451 287h1M465 283h1M460 297h1M464 288h1M454 280h1M462 289h1M464 294h1M461 275h1M449 293h1M450 289h1M458 301h1M450 281h1M460 280h1M456 290h1M460 278h1M463 294h1M460 276h1M465 275h1M459 296h1M457 294h1M456 271h1M461 275h1M460 298h1M455 282h1M453 299h1M458 284h1M459 275h1M459 285h1M460 296h1M450 298h1M445 287h1M460 291h1M463 294h1M458 286h1M464 277h1M458 301h1M463 282h1M453 288h1M452 296h1M452 306h1M462 292h1M455 284h1M455 277h1M461 302h1M459 300h1M452 287h1M462 285h1M463 285h1M457 290h1M462 292h1M460 290h1M455 291h1M462 292h1M461 292h1M466 283h1M457 282h1M425 291h1M412 291h1M431 324h1M407 296h1M413 289h1M410 327h1M420 327h1M417 319h1M405 341h1M413 300h1M402 293h1M434 327h1M425 321h1M417 326h1M416 315h1M414 327h1M415 300h1M435 327h1M421 310h1M429 338h1M405 335h1M441 314h1M413 314h1M423 336h1M419 314h1M414 326h1M414 310h1M408 339h1M418 318h1M423 306h1M415 328h1M423 324h1M426 327h1M431 337h1M415 322h1M429 311h1M435 296h1M428 322h1M418 295h1M434 320h1M426 306h1M419 325h1M404 297h1M409 296h1M419 314h1M426 318h1M429 306h1M424 319h1M408 293h1M415 342h1M414 300h1M432 320h1M415 303h1M413 329h1M439 304h1M397 337h1M424 303h1M411 316h1M433 329h1M414 321h1M405 298h1M432 334h1M427 309h1M424 309h1M416 343h1M423 334h1M412 320h1M425 328h1M417 324h1M448 305h1M419 330h1M434 307h1M426 306h1M431 325h1M411 328h1M421 332h1M429 318h1M416 323h1M416 321h1M421 336h1M429 339h1M421 320h1M412 342h1M441 310h1M417 285h1M406 336h1M444 340h1M424 311h1M437 295h1M425 310h1M418 322h1M408 291h1M412 315h1M421 331h1M418 305h1M424 305h1M426 317h1M433 299h1M416 317h1M427 323h1M435 299h1M409 290h1M429 313h1M421 328h1M422 314h1M401 344h1M399 339h1M380 339h1M415 339h1M402 344h1M378 343h1M395 338h1M400 338h1M383 340h1M416 341h1M390 340h1M396 341h1M434 334h1M404 340h1M379 342h1M403 344h1M398 337h1M411 339h1M403 344h1M391 341h1M410 332h1M379 343h1M389 341h1M370 340h1M407 340h1M414 338h1M392 340h1M372 338h1M506 316h1M437 206h1M420 223h1M462 306h1M440 222h1M399 240h1M426 286h1M494 218h1M475 343h1M445 297h1M144 404h1M102 432h1M164 385h1M191 409h1M101 393h1M172 431h1M127 403h1M176 430h1M192 402h1M167 392h1M170 432h1M108 396h1M87 387h1M185 396h1M76 462h1M188 421h1M164 434h1M188 427h1M101 427h1M99 384h1M155 396h1M139 426h1M169 434h1M138 408h1M194 411h1M182 395h1M168 431h1M174 434h1M105 381h1M186 399h1M136 415h1M163 433h1M181 397h1M87 391h1M202 406h1M187 398h1M102 427h1M106 423h1M144 404h1M122 400h1M140 432h1M143 403h1M88 387h1M163 383h1M178 430h1M119 408h1M109 422h1M139 432h1M96 470h1M72 390h1M144 424h1M120 413h1M180 430h1M148 398h1M119 415h1M100 391h1M178 433h1M111 418h1M121 389h1M164 432h1M139 421h1M111 390h1M82 389h1M74 462h1M154 432h1M169 393h1M167 438h1M165 396h1M132 411h1M139 405h1M170 433h1M94 465h1M138 402h1M105 422h1M73 389h1M171 395h1M164 394h1M163 434h1M198 414h1M183 426h1M87 390h1M112 391h1M188 405h1M101 427h1M165 432h1M173 433h1M172 393h1M97 435h1M94 451h1M113 417h1M119 414h1M81 388h1M186 424h1M141 404h1M77 459h1M97 443h1M155 430h1M196 410h1M178 429h1M118 398h1M75 389h1M143 429h1M131 398h1M100 387h1M198 407h1M129 393h1M179 396h1M137 421h1M80 383h1M187 424h1M167 393h1M108 396h1M102 432h1M186 420h1M174 394h1M185 396h1M187 425h1M93 460h1M150 393h1M95 448h1M137 387h1M198 410h1M79 463h1M77 387h1M104 394h1M164 374h1M202 418h1M200 407h1M75 387h1M195 415h1M121 418h1M80 391h1M137 401h1M99 433h1M81 383h1M178 429h1M174 432h1M108 394h1M190 415h1M115 425h1M188 414h1M175 431h1M108 422h1M176 429h1M108 423h1M180 432h1M186 399h1M170 433h1M199 404h1M156 432h1M165 390h1M105 425h1M72 389h1M81 390h1M144 427h1M189 406h1M139 402h1M133 383h1M171 431h1M182 427h1M121 427h1M182 393h1M191 398h1M144 398h1M180 432h1M187 422h1M172 382h1M156 431h1M79 460h1M180 430h1M186 426h1M77 385h1M86 465h1M171 431h1M127 398h1M192 403h1M138 434h1M97 449h1M91 391h1M95 449h1M131 421h1M123 424h1M125 415h1M140 422h1M103 392h1M95 458h1M186 423h1M165 396h1M131 411h1M142 395h1M187 418h1M162 432h1M91 391h1M142 422h1M87 462h1M111 398h1M187 419h1M88 391h1M99 427h1M74 387h1M79 390h1M79 392h1M181 427h1M119 411h1M159 434h1M92 389h1M145 431h1M131 407h1M149 398h1M124 405h1M188 419h1M113 399h1M81 378h1M178 390h1M161 431h1M125 437h1M162 434h1M118 389h1M157 434h1M164 392h1M118 424h1M199 421h1M168 432h1M184 394h1M163 432h1M155 431h1M186 398h1M82 469h1M79 391h1M158 397h1M87 391h1M74 391h1M163 433h1M180 394h1M194 413h1M154 430h1M191 398h1M94 391h1M72 388h1M187 420h1M138 424h1M95 454h1M146 402h1M158 431h1M111 395h1M74 389h1M131 406h1M168 437h1M76 390h1M168 441h1M115 397h1M73 462h1M103 389h1M101 439h1M78 386h1M113 426h1M103 385h1M73 391h1M193 417h1M99 427h1M141 403h1M165 437h1M185 430h1M177 432h1M177 432h1M134 385h1M91 459h1M179 432h1M91 388h1M74 383h1M186 403h1M78 391h1M141 421h1M162 396h1M197 397h1M82 391h1M90 391h1M130 384h1M120 419h1M169 431h1M134 416h1M99 426h1M154 432h1M188 416h1M120 389h1M169 434h1M97 468h1M75 389h1M181 434h1M104 384h1M97 443h1M76 464h1M120 400h1M165 436h1M181 427h1M160 397h1M75 389h1M172 433h1M179 429h1M73 391h1M188 401h1M191 419h1M170 394h1M111 421h1M96 391h1M191 416h1M179 430h1M97 389h1M174 430h1M78 390h1M115 424h1M99 390h1M186 402h1M188 416h1M189 412h1M135 415h1M148 392h1M99 446h1M146 403h1M96 388h1M93 458h1M149 396h1M193 412h1M143 403h1M191 410h1M174 431h1M184 425h1M110 398h1M94 453h1M122 416h1M161 432h1M178 394h1M180 431h1M131 401h1M135 403h1M162 395h1M116 418h1M169 432h1M98 448h1M85 383h1M113 428h1M114 419h1M73 386h1M133 380h1M87 390h1M189 406h1M185 423h1M93 467h1M166 388h1M83 392h1M175 432h1M75 457h1M177 436h1M172 431h1M91 390h1M106 389h1M93 392h1M122 422h1M188 395h1M187 421h1M103 427h1M174 384h1M156 388h1M122 405h1M107 393h1M80 460h1M95 456h1M187 421h1M170 431h1M188 402h1M172 431h1M106 423h1M119 406h1M180 428h1M177 431h1M166 437h1M177 397h1M112 433h1M161 394h1M181 389h1M138 417h1M130 407h1M171 393h1M150 398h1M152 439h1M183 391h1M104 428h1M101 436h1M187 430h1M110 419h1M137 401h1M142 426h1M199 416h1M183 428h1M73 460h1M183 427h1M172 395h1M162 394h1M101 391h1M146 395h1M171 435h1M148 437h1M108 421h1M175 394h1M99 428h1M151 401h1M75 462h1M162 432h1M159 439h1M186 391h1M150 428h1M189 399h1M173 431h1M72 391h1M160 431h1M112 422h1M112 438h1M174 432h1M182 428h1M114 422h1M75 387h1M85 387h1M182 434h1M137 421h1M176 394h1M157 398h1M125 418h1M158 432h1M143 424h1M167 387h1M83 467h1M178 430h1M152 397h1M126 401h1M188 428h1M176 432h1M188 420h1M90 463h1M198 413h1M111 422h1M97 439h1M134 407h1M138 418h1M176 432h1M187 388h1M167 392h1M104 434h1M95 390h1M122 396h1M191 411h1M194 419h1M87 466h1M197 409h1M176 395h1M129 423h1M89 466h1M189 413h1M115 399h1M102 433h1M199 413h1M129 412h1M108 395h1M164 431h1M101 457h1M160 431h1M91 390h1M173 433h1M135 374h1M81 388h1M157 393h1M190 418h1M141 431h1M161 436h1M74 390h1M86 385h1M103 430h1M185 422h1M128 415h1M96 455h1M82 390h1M131 393h1M114 417h1M84 390h1M80 461h1M194 422h1M90 465h1M126 398h1M182 428h1M109 397h1M160 445h1M190 409h1M167 431h1M116 421h1M158 433h1M169 433h1M134 423h1M165 437h1M105 457h1M91 391h1M201 407h1M142 405h1M142 423h1M170 392h1M135 401h1M115 399h1M81 390h1M193 412h1M167 390h1M163 395h1M106 396h1M173 396h1M105 393h1M154 395h1M172 432h1M135 418h1M168 393h1M160 435h1M83 468h1M106 393h1M183 429h1M186 420h1M156 394h1M170 432h1M156 438h1M154 432h1M189 391h1M178 429h1M189 416h1M172 431h1M135 422h1M136 408h1M189 413h1M190 425h1M181 428h1M116 426h1M105 381h1M106 388h1M85 380h1M80 391h1M94 386h1M103 388h1M124 386h1M99 387h1M86 384h1M100 387h1M84 387h1M111 387h1M95 390h1M104 386h1M77 383h1M85 387h1M140 388h1M139 391h1M92 388h1M95 382h1M98 387h1M119 385h1M109 397h1M88 386h1M122 386h1M103 385h1M90 382h1M84 388h1M77 387h1M101 389h1M90 390h1M73 384h1M78 389h1M86 389h1M85 385h1M71 388h1M97 387h1M100 387h1M85 391h1M123 382h1M90 387h1M105 390h1M108 394h1M92 390h1M97 378h1M85 391h1M91 391h1M81 390h1M103 383h1M132 385h1M78 388h1M78 388h1M93 386h1M82 389h1M83 385h1M88 386h1M109 380h1M107 387h1M105 394h1M127 393h1M102 388h1M97 389h1M107 386h1M120 390h1M82 391h1M79 390h1M92 383h1M103 385h1M111 390h1M107 385h1M115 383h1M79 380h1M106 384h1M117 390h1M122 385h1M76 385h1M119 382h1M115 392h1M73 385h1M110 392h1M94 386h1M105 391h1M111 388h1M73 387h1M82 385h1M112 387h1M105 394h1M91 384h1M126 381h1M117 393h1M99 389h1M75 389h1M93 390h1M117 394h1M105 388h1M135 395h1M109 393h1M101 385h1M119 388h1M77 386h1M97 384h1M90 387h1M104 390h1M132 386h1M83 382h1M128 380h1M95 391h1M98 386h1M91 384h1M85 390h1M109 389h1M105 389h1M101 389h1M104 390h1M86 383h1M82 382h1M104 386h1M80 386h1M97 392h1M114 383h1M111 383h1M115 388h1M86 389h1M86 385h1M81 390h1M118 406h1M115 420h1M129 427h1M137 439h1M123 405h1M118 429h1M129 411h1M121 408h1M132 407h1M128 418h1M111 428h1M128 411h1M127 426h1M132 418h1M122 404h1M127 414h1M118 401h1M119 393h1M120 409h1M128 408h1M130 405h1M117 408h1M112 429h1M139 423h1M113 384h1M117 404h1M126 422h1M137 396h1M128 419h1M123 391h1M118 425h1M116 419h1M117 405h1M128 436h1M136 410h1M129 421h1M127 412h1M130 424h1M128 416h1M122 403h1M117 416h1M136 397h1M113 421h1M127 388h1M118 418h1M114 427h1M124 409h1M132 410h1M124 410h1M121 401h1M136 395h1M127 402h1M125 401h1M125 423h1M124 411h1M124 422h1M133 420h1M128 407h1M116 430h1M123 412h1M130 414h1M118 423h1M119 411h1M122 401h1M128 395h1M131 415h1M118 417h1M112 449h1M123 408h1M117 421h1M121 426h1M129 413h1M114 402h1M117 430h1M125 420h1M129 396h1M122 407h1M133 420h1M122 407h1M125 409h1M128 430h1M123 427h1M129 411h1M122 401h1M128 404h1M123 430h1M134 409h1M119 426h1M121 418h1M108 435h1M113 421h1M135 409h1M132 423h1M126 406h1M124 393h1M129 425h1M138 420h1M124 420h1M119 392h1M122 412h1M126 427h1M130 424h1M133 388h1M135 434h1M124 409h1M114 439h1M101 445h1M96 460h1M99 427h1M103 465h1M126 443h1M123 457h1M101 432h1M107 437h1M113 463h1M98 432h1M123 462h1M103 445h1M104 464h1M115 443h1M119 452h1M108 451h1M113 444h1M108 454h1M126 421h1M111 420h1M102 427h1M107 435h1M105 428h1M104 429h1M105 432h1M109 443h1M106 458h1M111 436h1M114 402h1M103 428h1M102 446h1M101 447h1M117 439h1M118 429h1M120 453h1M111 445h1M97 439h1M112 436h1M115 448h1M105 426h1M104 448h1M116 437h1M103 447h1M98 463h1M102 439h1M102 450h1M123 450h1M110 440h1M117 443h1M96 441h1M114 433h1M106 441h1M105 424h1M103 447h1M118 432h1M112 431h1M123 424h1M108 442h1M103 453h1M86 476h1M108 444h1M123 441h1M119 405h1M118 437h1M99 451h1M121 436h1M102 441h1M129 430h1M101 452h1M101 446h1M113 468h1M102 445h1M120 417h1M113 421h1M103 443h1M126 436h1M108 428h1M106 471h1M106 439h1M97 448h1M117 457h1M102 429h1M123 439h1M107 450h1M110 423h1M119 443h1M100 439h1M111 440h1M90 479h1M115 447h1M114 432h1M110 442h1M114 456h1M102 441h1M102 446h1M103 448h1M96 448h1M110 435h1M104 440h1M111 418h1M116 444h1M97 456h1M96 448h1M119 432h1M114 445h1M113 453h1M125 441h1M107 425h1M109 434h1M110 451h1M145 457h1M110 423h1M119 430h1M103 436h1M111 451h1M102 425h1M112 461h1M115 447h1M110 471h1M117 421h1M121 430h1M134 408h1M122 461h1M103 450h1M84 465h1M85 472h1M103 465h1M75 463h1M76 472h1M90 472h1M93 471h1M101 461h1M94 465h1M86 471h1M81 460h1M102 469h1M74 467h1M91 462h1M98 456h1M79 465h1M94 462h1M97 465h1M75 472h1M82 463h1M84 468h1M86 467h1M95 463h1M86 469h1M98 473h1M88 464h1M95 463h1M100 459h1M84 464h1M94 458h1M94 468h1M85 474h1M77 472h1M87 463h1M102 463h1M82 465h1M87 464h1M78 466h1M81 463h1M75 469h1M89 463h1M94 466h1M188 390h1M173 391h1M150 384h1M155 394h1M150 392h1M187 387h1M177 385h1M179 395h1M200 391h1M171 385h1M183 388h1M115 393h1M179 388h1M159 392h1M182 395h1M152 395h1M181 396h1M154 391h1M193 389h1M149 394h1M206 397h1M150 397h1M137 396h1M155 386h1M173 394h1M186 394h1M179 391h1M139 391h1M158 392h1M195 391h1M168 392h1M177 387h1M176 396h1M162 390h1M140 397h1M122 394h1M149 397h1M167 393h1M141 399h1M194 392h1M190 394h1M176 392h1M158 397h1M191 387h1M164 388h1M164 394h1M144 400h1M195 394h1M162 396h1M164 390h1M155 398h1M163 391h1M154 396h1M178 396h1M164 384h1M181 390h1M154 390h1M181 390h1M159 384h1M156 396h1M161 394h1M183 398h1M169 392h1M183 385h1M178 396h1M145 397h1M166 393h1M131 393h1M168 390h1M158 394h1M152 393h1M177 393h1M162 392h1M124 389h1M180 392h1M147 393h1M186 393h1M135 426h1M132 439h1M139 444h1M148 430h1M148 429h1M128 422h1M141 437h1M115 421h1M133 428h1M155 440h1M163 441h1M147 427h1M145 437h1M146 442h1M169 438h1M138 420h1M152 434h1M163 434h1M134 431h1M135 442h1M139 434h1M148 449h1M168 446h1M131 430h1M132 432h1M136 415h1M140 419h1M146 429h1M142 425h1M129 429h1M138 421h1M151 436h1M132 434h1M140 427h1M122 431h1M130 420h1M146 433h1M139 420h1M150 432h1M153 431h1M150 433h1M116 418h1M161 432h1M163 435h1M147 428h1M151 440h1M145 433h1M140 427h1M146 434h1M141 368h1M207 365h1M186 375h1M145 434h1M78 388h1M128 380h1M185 375h1M194 456h1M76 358h1M120 459h1M197 348h1M334 435h1M233 401h1M355 393h1M307 401h1M252 438h1M308 407h1M328 438h1M332 387h1M301 410h1M303 439h1M242 462h1M314 397h1M343 420h1M250 446h1M317 398h1M237 401h1M337 389h1M342 417h1M265 459h1M311 399h1M319 448h1M262 435h1M335 432h1M311 444h1M306 394h1M303 439h1M248 468h1M242 395h1M324 395h1M252 442h1M250 393h1M253 435h1M331 392h1M259 398h1M258 434h1M336 428h1M329 390h1M339 425h1M247 458h1M271 424h1M348 412h1M342 417h1M336 428h1M250 401h1M284 426h1M340 421h1M344 413h1M320 386h1M343 418h1M300 431h1M307 409h1M250 435h1M335 431h1M251 455h1M341 420h1M222 395h1M239 464h1M227 400h1M335 429h1M248 459h1M330 435h1M232 397h1M303 411h1M264 389h1M317 444h1M250 399h1M233 400h1M334 392h1M328 393h1M247 455h1M322 397h1M269 434h1M329 446h1M267 387h1M342 418h1M250 393h1M235 399h1M269 434h1M259 392h1M290 403h1M232 473h1M248 400h1M313 398h1M229 400h1M326 388h1M251 402h1M288 405h1M350 400h1M313 451h1M341 420h1M327 437h1M340 386h1M331 387h1M326 396h1M344 417h1M240 392h1M343 416h1M233 472h1M285 424h1M300 422h1M335 430h1M227 462h1M240 474h1M222 398h1M347 381h1M256 435h1M298 431h1M254 433h1M330 390h1M281 412h1M236 465h1M353 406h1M310 443h1M265 435h1M328 437h1M343 416h1M223 466h1M247 456h1M290 422h1M345 382h1M273 405h1M258 401h1M306 442h1M306 412h1M248 459h1M242 472h1M348 410h1M273 423h1M326 391h1M245 462h1M293 399h1M348 402h1M259 431h1M282 394h1M312 395h1M343 428h1M235 400h1M328 442h1M266 428h1M305 411h1M254 438h1M318 384h1M357 384h1M301 459h1M238 400h1M286 412h1M323 442h1M340 421h1M349 399h1M227 399h1M325 390h1M299 414h1M338 429h1M322 382h1M243 462h1M246 395h1M337 432h1M285 402h1M225 397h1M335 429h1M335 392h1M233 391h1M301 419h1M344 417h1M331 392h1M299 445h1M327 383h1M305 410h1M353 399h1M344 419h1M227 401h1M355 386h1M333 434h1M273 423h1M300 414h1M343 414h1M355 399h1M303 428h1M323 441h1M345 388h1M321 391h1M244 462h1M231 398h1M351 384h1M238 401h1M234 394h1M242 400h1M340 428h1M301 430h1M243 475h1M337 429h1M310 404h1M303 433h1M271 406h1M224 384h1M301 429h1M324 393h1M271 380h1M299 438h1M246 457h1M352 392h1M318 398h1M241 402h1M249 455h1M265 401h1M333 433h1M298 407h1M345 412h1M337 426h1M350 380h1M295 447h1M304 444h1M333 434h1M350 399h1M336 428h1M245 402h1M305 438h1M303 432h1M245 400h1M341 426h1M305 436h1M266 426h1M320 396h1M345 421h1M358 394h1M308 398h1M336 429h1M255 440h1M255 401h1M224 390h1M247 458h1M342 417h1M349 378h1M357 386h1M260 400h1M303 412h1M255 394h1M308 399h1M230 394h1M279 423h1M323 394h1M235 466h1M234 401h1M258 398h1M336 430h1M258 394h1M336 391h1M285 441h1M349 408h1M353 409h1M256 433h1M289 419h1M247 457h1M317 396h1M341 426h1M256 434h1M349 373h1M280 417h1M362 382h1M310 452h1M347 387h1M253 453h1M340 420h1M309 403h1M313 395h1M321 454h1M315 393h1M233 401h1M245 461h1M353 394h1M315 400h1M342 421h1M316 449h1M346 415h1M318 393h1M338 390h1M303 410h1M307 440h1M346 410h1M235 471h1M308 449h1M309 386h1M267 397h1M299 428h1M249 394h1M343 419h1M257 402h1M303 399h1M302 404h1M236 401h1M329 438h1M325 392h1M331 384h1M228 400h1M336 387h1M353 387h1M247 453h1M334 435h1M249 448h1M252 433h1M262 400h1M281 434h1M334 430h1M342 421h1M248 455h1M305 440h1M304 433h1M356 391h1M317 399h1M352 404h1M229 467h1M333 392h1M310 450h1M299 414h1M230 464h1M251 457h1M337 432h1M244 461h1M304 438h1M246 398h1M236 401h1M331 394h1M346 413h1M245 400h1M245 395h1M223 462h1M274 425h1M277 421h1M245 400h1M299 406h1M292 412h1M305 387h1M344 414h1M309 401h1M244 461h1M249 448h1M249 401h1M224 400h1M256 403h1M342 420h1M270 391h1M253 444h1M348 402h1M320 444h1M308 401h1M340 422h1M302 418h1M345 421h1M331 393h1M326 386h1M338 423h1M344 416h1M345 415h1M251 440h1M350 406h1M243 397h1M223 400h1M287 434h1M331 387h1M341 420h1M251 435h1M353 396h1M315 392h1M300 427h1M344 416h1M336 429h1M249 446h1M262 400h1M253 434h1M305 413h1M230 390h1M249 448h1M324 445h1M321 397h1M236 469h1M353 410h1M331 435h1M249 449h1M343 416h1M304 434h1M270 424h1M236 400h1M350 406h1M340 419h1M316 464h1M226 472h1M317 394h1M252 454h1M302 416h1M335 429h1M248 450h1M300 455h1M343 420h1M301 444h1M326 454h1M268 427h1M353 389h1M306 453h1M251 435h1M226 395h1M349 401h1M340 421h1M346 408h1M248 457h1M323 394h1M232 399h1M264 396h1M348 417h1M250 403h1M236 401h1M317 386h1M330 438h1M235 467h1M313 397h1M295 424h1M306 412h1M258 432h1M249 459h1M293 409h1M350 397h1M266 399h1M335 439h1M254 397h1M235 400h1M301 424h1M354 406h1M332 389h1M303 394h1M350 423h1M345 421h1M339 423h1M355 394h1M352 391h1M280 417h1M302 426h1M347 408h1M306 446h1M343 413h1M327 380h1M273 422h1M353 386h1M305 437h1M301 418h1M340 421h1M265 397h1M332 435h1M293 434h1M289 390h1M242 463h1M253 470h1M346 421h1M314 399h1M324 447h1M229 466h1M327 394h1M221 401h1M279 422h1M344 420h1M248 451h1M299 455h1M248 455h1M313 450h1M300 414h1M338 431h1M297 405h1M228 464h1M315 395h1M240 400h1M344 415h1M286 412h1M309 394h1M256 383h1M250 402h1M289 429h1M331 394h1M246 461h1M231 400h1M345 415h1M249 448h1M324 442h1M269 431h1M243 401h1M349 402h1M343 415h1M294 438h1M233 401h1M286 397h1M300 439h1M320 392h1M233 400h1M318 391h1M320 442h1M346 414h1M339 431h1M352 385h1M261 440h1M309 442h1M285 414h1M292 444h1M345 411h1M341 386h1M292 420h1M312 402h1M336 426h1M284 429h1M323 396h1M251 464h1M244 401h1M336 430h1M301 407h1M307 408h1M236 400h1M260 431h1M348 416h1M258 403h1M348 405h1M251 443h1M309 443h1M254 401h1M275 408h1M249 452h1M252 434h1M349 387h1M348 406h1M341 419h1M345 422h1M346 414h1M309 401h1M345 417h1M289 391h1M263 401h1M338 431h1M322 397h1M253 439h1M250 449h1M246 398h1M248 399h1M279 403h1M256 399h1M272 398h1M225 396h1M225 394h1M276 403h1M230 393h1M300 402h1M243 396h1M253 394h1M279 392h1M289 399h1M245 397h1M242 397h1M303 394h1M256 404h1M257 402h1M238 394h1M244 401h1M241 396h1M267 397h1M277 399h1M245 394h1M273 401h1M260 399h1M251 392h1M286 403h1M254 401h1M232 400h1M286 400h1M264 395h1M301 406h1M249 398h1M257 400h1M243 399h1M234 394h1M233 394h1M259 395h1M261 395h1M283 404h1M267 399h1M246 398h1M252 400h1M261 401h1M266 396h1M261 394h1M273 396h1M259 392h1M237 400h1M322 394h1M249 394h1M266 398h1M256 395h1M224 395h1M292 399h1M228 396h1M254 394h1M265 395h1M226 397h1M244 398h1M268 403h1M246 400h1M282 401h1M257 402h1M294 401h1M282 398h1M263 391h1M258 401h1M248 398h1M231 391h1M233 396h1M265 399h1M232 400h1M236 401h1M277 398h1M260 398h1M248 401h1M292 394h1M252 395h1M235 394h1M266 397h1M227 401h1M262 400h1M237 393h1M231 398h1M245 399h1M271 392h1M295 398h1M280 398h1M266 398h1M280 393h1M224 397h1M298 397h1M255 400h1M275 393h1M264 401h1M260 397h1M236 402h1M231 394h1M270 393h1M231 398h1M296 403h1M242 397h1M267 393h1M250 397h1M248 396h1M246 395h1M273 404h1M270 403h1M265 392h1M273 396h1M253 399h1M270 401h1M237 398h1M284 403h1M221 394h1M259 396h1M256 395h1M257 396h1M226 392h1M226 395h1M290 400h1M228 400h1M269 405h1M226 395h1M259 393h1M236 398h1M251 399h1M231 401h1M273 391h1M265 395h1M244 395h1M264 396h1M254 400h1M242 396h1M270 395h1M278 399h1M280 405h1M287 393h1M281 413h1M289 411h1M289 408h1M293 434h1M289 402h1M299 418h1M302 422h1M288 430h1M285 412h1M292 425h1M291 418h1M291 429h1M280 412h1M275 434h1M291 422h1M294 410h1M296 401h1M295 409h1M296 417h1M294 405h1M296 404h1M287 421h1M270 399h1M301 413h1M279 413h1M281 401h1M284 410h1M286 421h1M297 408h1M282 407h1M287 399h1M294 425h1M292 419h1M291 419h1M295 404h1M300 419h1M292 419h1M296 403h1M296 429h1M292 418h1M285 427h1M294 402h1M294 399h1M279 414h1M295 404h1M270 428h1M291 423h1M288 432h1M289 407h1M289 402h1M287 417h1M303 408h1M289 420h1M291 402h1M288 399h1M281 407h1M292 432h1M290 406h1M306 391h1M293 404h1M294 408h1M298 438h1M289 391h1M281 455h1M282 420h1M285 403h1M279 432h1M293 412h1M286 382h1M280 394h1M289 413h1M287 421h1M290 415h1M281 404h1M285 416h1M273 407h1M292 411h1M284 407h1M291 421h1M293 411h1M282 431h1M289 424h1M272 402h1M281 412h1M283 432h1M286 417h1M284 434h1M286 428h1M286 419h1M285 402h1M294 416h1M298 411h1M283 422h1M302 419h1M295 436h1M296 412h1M287 419h1M287 407h1M292 420h1M299 402h1M295 408h1M294 411h1M298 409h1M286 403h1M282 394h1M295 433h1M283 402h1M288 436h1M284 443h1M296 400h1M290 391h1M292 424h1M285 418h1M294 403h1M289 411h1M292 424h1M289 416h1M289 404h1M294 423h1M284 401h1M301 418h1M286 413h1M286 421h1M284 427h1M307 400h1M298 414h1M299 422h1M303 415h1M300 430h1M302 405h1M298 435h1M302 404h1M302 420h1M301 424h1M303 430h1M304 408h1M292 423h1M302 409h1M296 397h1M295 441h1M295 431h1M297 425h1M294 403h1M301 415h1M300 397h1M303 426h1M297 407h1M292 443h1M297 414h1M300 397h1M303 416h1M297 415h1M301 421h1M295 419h1M294 442h1M296 415h1M303 438h1M302 428h1M292 403h1M300 390h1M299 419h1M295 398h1M301 451h1M298 406h1M305 443h1M305 398h1M296 432h1M294 426h1M294 420h1M303 437h1M299 436h1M296 429h1M291 423h1M297 426h1M296 420h1M307 407h1M297 423h1M284 425h1M299 389h1M294 422h1M296 403h1M297 421h1M289 402h1M295 438h1M295 383h1M282 372h1M298 413h1M297 437h1M299 422h1M294 423h1M296 432h1M292 427h1M301 409h1M288 410h1M296 411h1M294 436h1M293 430h1M310 442h1M303 413h1M299 417h1M303 428h1M293 411h1M299 421h1M302 420h1M300 453h1M309 403h1M297 429h1M302 391h1M350 386h1M325 390h1M335 388h1M344 387h1M324 386h1M338 386h1M332 377h1M353 389h1M347 387h1M341 386h1M343 381h1M344 378h1M332 381h1M358 379h1M349 380h1M357 392h1M325 373h1M350 380h1M338 387h1M349 385h1M324 379h1M333 378h1M329 381h1M334 391h1M344 377h1M316 381h1M339 382h1M344 383h1M360 383h1M330 394h1M341 376h1M333 387h1M302 379h1M341 376h1M335 380h1M337 384h1M345 377h1M331 387h1M346 377h1M339 378h1M341 386h1M349 379h1M352 392h1M351 392h1M350 387h1M335 388h1M360 378h1M325 394h1M326 390h1M322 393h1M364 382h1M335 383h1M337 382h1M324 388h1M338 384h1M320 383h1M266 467h1M270 443h1M261 434h1M264 446h1M266 432h1M260 444h1M255 458h1M253 442h1M265 456h1M278 452h1M257 438h1M260 453h1M289 458h1M271 461h1M261 450h1M269 446h1M259 445h1M263 443h1M276 449h1M251 446h1M253 441h1M284 456h1M254 457h1M292 440h1M253 454h1M256 438h1M287 423h1M270 447h1M268 428h1M260 441h1M273 439h1M250 440h1M266 448h1M271 453h1M269 456h1M283 452h1M262 448h1M259 456h1M263 464h1M256 464h1M278 442h1M260 442h1M263 449h1M249 454h1M257 447h1M261 461h1M262 435h1M277 443h1M261 448h1M258 449h1M251 433h1M282 455h1M263 429h1M255 456h1M259 443h1M282 444h1M266 451h1M264 434h1M269 429h1M272 441h1M268 448h1M271 432h1M260 445h1M273 432h1M256 447h1M266 449h1M283 452h1M275 439h1M268 458h1M250 467h1M264 440h1M261 432h1M254 446h1M252 448h1M250 442h1M276 451h1M255 432h1M262 431h1M251 459h1M267 425h1M273 432h1M266 447h1M247 453h1M250 445h1M262 434h1M252 435h1M247 455h1M266 444h1M264 455h1M254 442h1M278 442h1M266 432h1M262 474h1M249 445h1M277 458h1M256 465h1M278 410h1M272 464h1M254 439h1M252 453h1M281 458h1M261 478h1M267 428h1M272 448h1M257 435h1M318 443h1M333 444h1M324 449h1M326 449h1M327 450h1M320 453h1M332 444h1M318 444h1M316 446h1M323 446h1M316 444h1M326 449h1M319 452h1M318 446h1M320 452h1M320 446h1M320 454h1M316 449h1M311 443h1M323 447h1M315 444h1M308 449h1M327 448h1M318 443h1M313 453h1M321 445h1M328 452h1M315 448h1M309 446h1M315 443h1M315 449h1M312 446h1M317 444h1M304 446h1M315 448h1M328 445h1M318 446h1M319 445h1M341 453h1M312 443h1M332 443h1M335 446h1M323 390h1M349 438h1M335 446h1M312 455h1M224 379h1M354 391h1M234 357h1M275 449h1M403 433h1M382 447h1M497 427h1M469 426h1M377 390h1M377 393h1M396 446h1M380 384h1M513 484h1M418 427h1M466 437h1M406 454h1M385 439h1M392 394h1M469 425h1M398 391h1M435 395h1M385 391h1M455 399h1M426 421h1M469 424h1M379 444h1M394 449h1M383 441h1M394 440h1M438 415h1M400 446h1M447 405h1M378 393h1M377 392h1M438 398h1M505 423h1M469 429h1M470 404h1M495 394h1M403 447h1M377 390h1M503 404h1M445 391h1M376 392h1M469 423h1M466 437h1M447 391h1M377 393h1M455 399h1M405 437h1M394 439h1M441 408h1M372 385h1M494 393h1M391 439h1M482 461h1M470 424h1M502 450h1M371 448h1M480 398h1M488 457h1M407 430h1M390 441h1M477 403h1M430 423h1M471 394h1M407 393h1M394 441h1M401 392h1M404 433h1M468 402h1M407 393h1M494 461h1M502 430h1M383 389h1M407 382h1M371 447h1M476 474h1M478 460h1M489 458h1M408 429h1M395 392h1M403 393h1M403 389h1M380 390h1M499 428h1M498 408h1M447 407h1M373 445h1M415 441h1M381 444h1M468 400h1M398 437h1M406 465h1M468 421h1M380 464h1M379 386h1M376 393h1M375 392h1M431 400h1M490 459h1M407 395h1M466 420h1M510 459h1M375 388h1M444 422h1M393 440h1M488 457h1M498 426h1M387 376h1M502 449h1M393 391h1M431 396h1M371 393h1M499 432h1M394 438h1M403 433h1M469 426h1M395 436h1M425 399h1M498 423h1M400 392h1M392 443h1M451 412h1M396 378h1M482 464h1M495 397h1M395 383h1M467 425h1M380 450h1M383 393h1M477 403h1M379 391h1M470 423h1M401 437h1M510 409h1M406 438h1M389 439h1M439 392h1M443 406h1M391 386h1M413 396h1M507 447h1M482 469h1M417 392h1M413 381h1M399 434h1M405 392h1M393 387h1M420 426h1M408 392h1M482 472h1M439 391h1M508 386h1M382 390h1M439 418h1M501 406h1M436 392h1M480 403h1M442 401h1M413 427h1M470 428h1M385 440h1M467 385h1M485 458h1M433 396h1M441 432h1M469 401h1M464 423h1M441 385h1M380 393h1M456 402h1M387 391h1M379 392h1M408 384h1M468 425h1M405 380h1M475 398h1M399 435h1M400 434h1M396 437h1M390 443h1M373 446h1M499 478h1M424 399h1M485 467h1M444 404h1M465 448h1M409 394h1M506 413h1M421 397h1M390 394h1M482 401h1M378 391h1M498 424h1M434 402h1M468 452h1M466 420h1M375 393h1M464 439h1M501 417h1M433 418h1M398 387h1M488 467h1M383 441h1M383 441h1M477 403h1M461 396h1M407 437h1M392 449h1M414 444h1M373 447h1M418 444h1M399 434h1M382 386h1M513 454h1M463 429h1M468 423h1M378 444h1M425 428h1M449 405h1M420 430h1M411 431h1M515 474h1M421 397h1M376 447h1M381 386h1M378 392h1M492 457h1M452 404h1M467 433h1M476 397h1M381 389h1M501 459h1M418 427h1M465 397h1M481 458h1M498 402h1M403 434h1M401 433h1M504 444h1M509 422h1M385 393h1M448 441h1M424 421h1M394 436h1M392 443h1M370 449h1M499 382h1M495 402h1M480 461h1M419 383h1M488 390h1M395 385h1M465 399h1M378 393h1M404 440h1M465 400h1M376 444h1M392 391h1M511 412h1M447 411h1M388 445h1M427 455h1M474 458h1M423 425h1M499 397h1M374 449h1M449 410h1M404 442h1M375 388h1M376 452h1M401 435h1M395 394h1M444 415h1M385 389h1M403 394h1M464 438h1M491 390h1M425 395h1M417 396h1M383 450h1M417 391h1M428 379h1M412 391h1M386 393h1M407 393h1M487 401h1M382 391h1M382 440h1M449 415h1M501 415h1M504 410h1M469 454h1M409 432h1M383 392h1M399 444h1M454 399h1M370 389h1M398 442h1M377 391h1M376 391h1M382 387h1M504 444h1M408 393h1M502 406h1M501 411h1M474 401h1M382 380h1M385 391h1M470 425h1M407 391h1M430 424h1M406 391h1M387 392h1M398 391h1M372 388h1M423 440h1M389 381h1M386 439h1M397 439h1M413 394h1M402 436h1M395 437h1M448 408h1M434 397h1M385 392h1M375 390h1M393 387h1M403 394h1M423 423h1M380 448h1M401 390h1M461 398h1M415 426h1M386 444h1M409 395h1M407 430h1M473 402h1M422 439h1M369 388h1M456 396h1M404 391h1M399 393h1M427 388h1M416 395h1M412 387h1M429 395h1M403 394h1M381 393h1M420 383h1M385 392h1M402 389h1M422 383h1M396 388h1M405 383h1M404 387h1M402 390h1M431 389h1M439 390h1M386 383h1M406 386h1M373 386h1M386 387h1M431 387h1M412 389h1M402 388h1M422 386h1M431 386h1M438 390h1M437 392h1M444 383h1M426 385h1M395 389h1M385 391h1M408 386h1M395 387h1M424 385h1M483 386h1M422 385h1M387 392h1M407 381h1M421 393h1M382 390h1M398 385h1M452 388h1M433 385h1M423 381h1M425 389h1M450 390h1M385 391h1M385 393h1M408 391h1M394 391h1M416 388h1M417 385h1M375 383h1M397 391h1M403 389h1M393 389h1M385 389h1M409 395h1M394 390h1M417 382h1M389 385h1M378 389h1M432 390h1M414 392h1M413 391h1M408 393h1M404 395h1M406 384h1M400 386h1M413 387h1M400 381h1M403 390h1M415 385h1M439 391h1M424 389h1M396 389h1M421 387h1M427 388h1M389 391h1M434 386h1M420 393h1M436 387h1M463 388h1M394 393h1M424 389h1M396 389h1M412 386h1M413 391h1M400 394h1M384 386h1M426 395h1M390 385h1M407 389h1M379 380h1M404 385h1M384 390h1M421 388h1M427 397h1M419 394h1M376 389h1M388 390h1M399 389h1M444 385h1M403 390h1M380 391h1M387 388h1M379 393h1M414 385h1M372 388h1M371 391h1M385 391h1M403 392h1M433 388h1M436 393h1M419 398h1M431 385h1M434 383h1M399 390h1M379 385h1M420 388h1M407 383h1M441 403h1M447 422h1M445 425h1M437 417h1M450 417h1M449 426h1M441 420h1M446 414h1M447 420h1M450 394h1M454 399h1M441 410h1M452 414h1M446 411h1M442 403h1M447 411h1M447 408h1M439 414h1M441 416h1M444 420h1M441 433h1M449 393h1M442 388h1M446 405h1M437 425h1M443 404h1M443 410h1M452 402h1M458 429h1M447 399h1M438 406h1M444 394h1M442 406h1M446 422h1M443 413h1M437 396h1M443 411h1M450 387h1M439 426h1M444 419h1M438 406h1M441 415h1M447 407h1M447 413h1M442 401h1M449 388h1M447 438h1M443 408h1M438 409h1M443 398h1M439 413h1M439 413h1M443 410h1M445 423h1M448 405h1M445 427h1M443 419h1M444 398h1M453 416h1M441 421h1M453 402h1M448 418h1M441 408h1M441 425h1M448 414h1M441 418h1M445 417h1M436 400h1M447 408h1M446 403h1M439 418h1M440 394h1M441 400h1M440 413h1M440 404h1M443 416h1M452 423h1M449 423h1M448 420h1M453 397h1M444 400h1M445 419h1M450 418h1M450 418h1M445 391h1M435 426h1M437 401h1M438 410h1M452 383h1M435 426h1M445 415h1M440 403h1M446 403h1M438 407h1M443 405h1M446 413h1M446 407h1M436 425h1M457 400h1M447 396h1M439 389h1M449 406h1M447 420h1M441 415h1M448 424h1M392 447h1M396 448h1M399 471h1M386 450h1M391 457h1M380 441h1M371 472h1M397 455h1M385 463h1M402 457h1M379 447h1M398 453h1M388 453h1M384 450h1M380 459h1M415 461h1M397 453h1M384 467h1M397 469h1M381 451h1M394 450h1M397 444h1M386 456h1M401 452h1M390 455h1M396 451h1M401 459h1M396 435h1M396 455h1M392 451h1M381 472h1M418 446h1M416 431h1M399 442h1M389 452h1M389 448h1M388 458h1M400 453h1M403 445h1M406 453h1M410 443h1M385 450h1M398 452h1M395 464h1M387 458h1M386 450h1M396 466h1M400 457h1M417 475h1M406 441h1M389 464h1M384 467h1M420 444h1M402 449h1M401 435h1M411 463h1M386 444h1M388 446h1M389 469h1M384 479h1M398 458h1M370 451h1M393 475h1M394 451h1M395 486h1M405 458h1M418 480h1M388 454h1M401 435h1M402 453h1M401 461h1M384 443h1M381 455h1M397 479h1M403 470h1M388 473h1M411 437h1M391 466h1M370 466h1M396 474h1M378 457h1M403 461h1M384 468h1M386 449h1M407 452h1M403 477h1M378 455h1M397 475h1M406 430h1M398 451h1M397 459h1M390 443h1M400 482h1M394 449h1M383 472h1M379 480h1M407 443h1M389 476h1M415 451h1M390 438h1M388 456h1M406 462h1M384 471h1M376 471h1M375 457h1M396 449h1M399 472h1M392 466h1M406 458h1M385 465h1M381 469h1M382 464h1M388 494h1M393 464h1M379 467h1M397 488h1M389 475h1M402 451h1M392 456h1M397 472h1M385 457h1M387 441h1M411 463h1M393 451h1M389 441h1M388 472h1M387 444h1M407 464h1M385 453h1M384 442h1M402 458h1M402 461h1M394 455h1M393 483h1M411 467h1M403 461h1M399 446h1M392 466h1M398 438h1M409 455h1M462 392h1M470 402h1M489 398h1M491 401h1M480 395h1M501 396h1M487 402h1M445 397h1M477 404h1M500 394h1M467 401h1M474 395h1M496 398h1M478 389h1M484 393h1M500 405h1M475 401h1M485 398h1M491 393h1M471 390h1M472 396h1M468 392h1M447 393h1M484 396h1M481 402h1M471 394h1M446 398h1M477 401h1M460 391h1M507 402h1M494 398h1M491 398h1M502 400h1M466 395h1M472 399h1M479 396h1M487 393h1M495 397h1M489 395h1M477 394h1M476 397h1M491 394h1M456 449h1M445 462h1M458 429h1M462 448h1M458 436h1M461 434h1M458 461h1M455 442h1M448 448h1M448 437h1M449 444h1M464 450h1M448 467h1M453 441h1M457 451h1M458 426h1M448 449h1M466 458h1M452 437h1M452 442h1M459 453h1M453 443h1M461 445h1M455 431h1M463 455h1M462 450h1M451 456h1M454 434h1M453 417h1M462 442h1M453 445h1M464 434h1M465 448h1M451 449h1M456 443h1M449 447h1M463 424h1M458 447h1M461 432h1M448 437h1M451 426h1M457 433h1M453 431h1M458 454h1M461 452h1M456 422h1M456 423h1M457 448h1M461 454h1M456 461h1M454 430h1M464 437h1M461 437h1M452 435h1M455 424h1M457 443h1M462 440h1M459 438h1M450 444h1M454 435h1M458 439h1M459 445h1M483 368h1M436 383h1M485 363h1M506 393h1M490 373h1M491 368h1M400 370h1M396 460h1M455 403h1M432 404h1M506 357h1" stroke="#aaa" stroke-width="1" transform="translate(0,0.5)"/>
<path d="M81 251h1M84 252h1M86 252h1M88 253h1M89 253h1M85 254h1M87 254h1M90 254h1M91 254h1M76 255h1M79 255h1M81 255h1M82 255h1M89 255h1M84 256h1M82 257h1M82 258h1M85 258h1M91 258h1M88 259h1M89 260h1M73 261h1M89 261h1M96 261h1M88 263h1M87 264h1M75 265h1M83 265h1M85 265h1M86 265h1M87 265h1M76 266h1M88 266h1M86 267h1M172 263h1M177 263h1M165 265h1M173 265h1M179 265h1M181 265h1M166 268h1M170 268h1M173 268h1M181 268h1M167 269h1M177 269h1M166 270h1M171 270h1M168 271h1M170 271h1M170 272h1M171 272h1M170 273h1M171 273h1M174 273h1M227 262h1M233 263h1M238 263h1M233 265h1M234 265h1M224 266h1M237 266h1M239 266h1M223 267h1M238 267h1M233 268h1M236 268h1M222 269h1M236 269h1M223 270h1M226 270h1M226 271h1M231 272h1M225 273h1M230 273h1M226 274h1M231 274h1M234 274h1M335 253h1M337 253h1M334 254h1M336 254h1M338 255h1M328 256h1M340 256h1M336 257h1M338 257h1M330 259h1M333 259h1M327 261h1M340 261h1M331 262h1M338 262h1M327 263h1M333 263h1M328 264h1M331 264h1M377 253h1M382 253h1M377 255h1M384 255h1M385 255h1M379 256h1M373 257h1M381 257h1M383 257h1M374 259h1M376 259h1M378 259h1M380 259h1M381 259h1M375 260h1M381 260h1M383 260h1M382 261h1M376 262h1M380 263h1M385 263h1M376 264h1M377 264h1M381 264h1M385 264h1M373 265h1M381 265h1M384 265h1M371 266h1M373 266h1M374 266h1M381 266h1M373 267h1M380 267h1M382 268h1M378 269h1M78 402h1M75 403h1M77 403h1M79 404h1M81 405h1M74 406h1M76 406h1M79 407h1M81 407h1M75 408h1M76 408h1M81 408h1M82 408h1M75 409h1M77 409h1M71 410h1M72 410h1M73 410h1M77 410h1M76 413h1M81 413h1M76 414h1M172 414h1M163 415h1M172 415h1M169 416h1M177 416h1M166 417h1M171 417h1M176 417h1M161 418h1M166 418h1M167 418h1M177 418h1M179 419h1M171 420h1M172 420h1M176 420h1M177 420h1M182 420h1M165 421h1M166 421h1M173 421h1M177 421h1M180 421h1M169 423h1M179 423h1M174 424h1M178 424h1M163 425h1M167 426h1M176 427h1M227 416h1M224 417h1M227 417h1M234 417h1M223 418h1M224 419h1M231 419h1M235 419h1M221 420h1M224 420h1M229 420h1M230 420h1M236 421h1M229 422h1M224 423h1M228 423h1M231 425h1M233 425h1M236 425h1M227 426h1M234 426h1M224 427h1M226 427h1M227 428h1M331 402h1M336 403h1M327 404h1M330 404h1M329 405h1M331 405h1M328 406h1M333 406h1M332 408h1M338 408h1M322 409h1M324 409h1M322 410h1M322 411h1M327 411h1M334 412h1M327 413h1M336 413h1M324 414h1M325 414h1M329 414h1M337 414h1M327 415h1M333 415h1M323 416h1M330 416h1M334 417h1M327 418h1M338 418h1M331 419h1M332 419h1M334 419h1M337 419h1M338 419h1M329 420h1M331 420h1M332 420h1M330 421h1M331 421h1M335 421h1M333 422h1M334 422h1M380 404h1M376 405h1M380 406h1M384 406h1M374 408h1M383 408h1M374 410h1M377 410h1M382 410h1M378 412h1M379 412h1M372 413h1M373 413h1M376 413h1M383 413h1M386 413h1M377 414h1M382 414h1M377 415h1M379 415h1M372 416h1M383 416h1M384 417h1M386 418h1M380 419h1M382 419h1M387 419h1M373 420h1M387 420h1M383 421h1M385 421h1M379 422h1M381 422h1M384 422h1M379 423h1M376 424h1M377 424h1M376 425h1M378 425h1M382 425h1" stroke="#ccc" stroke-width="1" stroke-opacity="0.55" transform="translate(0,0.5)"/>
<rect x="70.6" y="195.4" width="149.70" height="150.20" fill="none" stroke="#000" stroke-width="1"/>
<polyline points="136.0,345.6 136.0,213.3 206.0,213.3 206.0,345.6" fill="none" stroke="#000" stroke-width="1"/>
<line x1="136.0" y1="281.0" x2="206.0" y2="281.0" stroke="#000" stroke-width="1"/>
<rect x="220.3" y="195.4" width="148.90" height="150.20" fill="none" stroke="#000" stroke-width="1"/>
<polyline points="291.5,345.6 291.5,213.8 362.0,213.8 362.0,345.6" fill="none" stroke="#000" stroke-width="1"/>
<line x1="291.5" y1="293.1" x2="362.0" y2="293.1" stroke="#000" stroke-width="1"/>
<rect x="369.2" y="195.4" width="149.00" height="150.20" fill="none" stroke="#000" stroke-width="1"/>
<polyline points="450.5,345.6 450.5,214.0 511.3,214.0 511.3,345.6" fill="none" stroke="#000" stroke-width="1"/>
<line x1="450.5" y1="307.6" x2="511.3" y2="307.6" stroke="#000" stroke-width="1"/>
<rect x="70.6" y="345.6" width="149.70" height="150.30" fill="none" stroke="#000" stroke-width="1"/>
<polyline points="136.3,495.9 136.3,364.1 205.8,364.1 205.8,495.9" fill="none" stroke="#000" stroke-width="1"/>
<line x1="136.3" y1="431.5" x2="205.8" y2="431.5" stroke="#000" stroke-width="1"/>
<rect x="220.3" y="345.6" width="148.90" height="150.30" fill="none" stroke="#000" stroke-width="1"/>
<polyline points="291.5,495.9 291.5,364.6 362.0,364.6 362.0,495.9" fill="none" stroke="#000" stroke-width="1"/>
<line x1="291.5" y1="444.0" x2="362.0" y2="444.0" stroke="#000" stroke-width="1"/>
<rect x="369.2" y="345.6" width="149.00" height="150.30" fill="none" stroke="#000" stroke-width="1"/>
<polyline points="450.0,495.9 450.0,364.9 511.3,364.9 511.3,495.9" fill="none" stroke="#000" stroke-width="1"/>
<line x1="450.0" y1="458.1" x2="511.3" y2="458.1" stroke="#000" stroke-width="1"/>
<text x="204.60" y="224.40" font-family='"Liberation Sans", sans-serif' font-weight="bold" font-size="11" text-anchor="end" letter-spacing="1.2">28</text>
<text x="359.50" y="225.10" font-family='"Liberation Sans", sans-serif' font-weight="bold" font-size="11" text-anchor="end" letter-spacing="1.2">57</text>
<text x="507.60" y="227.00" font-family='"Liberation Sans", sans-serif' font-weight="bold" font-size="11" text-anchor="end" letter-spacing="0">6</text>
<text x="204.30" y="375.30" font-family='"Liberation Sans", sans-serif' font-weight="bold" font-size="11" text-anchor="end" letter-spacing="1.2">36</text>
<text x="360.60" y="375.90" font-family='"Liberation Sans", sans-serif' font-weight="bold" font-size="11" text-anchor="end" letter-spacing="1.2">52</text>
<text x="506.90" y="375.50" font-family='"Liberation Sans", sans-serif' font-weight="bold" font-size="11" text-anchor="end" letter-spacing="0">8</text>
<text x="202.80" y="343.30" font-family='"Liberation Sans", sans-serif' font-weight="bold" font-size="11" text-anchor="end" letter-spacing="0">5</text>
<text x="360.90" y="341.60" font-family='"Liberation Sans", sans-serif' font-weight="bold" font-size="11" text-anchor="end" letter-spacing="1.2">0.1</text>
<text x="509.20" y="343.00" font-family='"Liberation Sans", sans-serif' font-weight="bold" font-size="11" text-anchor="end" letter-spacing="1.2">0.1</text>
<text x="206.00" y="490.90" font-family='"Liberation Sans", sans-serif' font-weight="bold" font-size="11" text-anchor="end" letter-spacing="1.2">0.1</text>
<text x="361.80" y="490.70" font-family='"Liberation Sans", sans-serif' font-weight="bold" font-size="11" text-anchor="end" letter-spacing="1.2">0.1</text>
<text x="509.80" y="492.40" font-family='"Liberation Sans", sans-serif' font-weight="bold" font-size="11" text-anchor="end" letter-spacing="1.2">0.1</text>
<line x1="67.1" y1="345.60" x2="70.6" y2="345.60" stroke="#000" stroke-width="1"/>
<text x="64.00" y="348.00" font-family='"Liberation Serif", serif' font-weight="bold" font-size="7" text-anchor="end">0.1</text>
<line x1="69.1" y1="334.73" x2="70.6" y2="334.73" stroke="#000" stroke-width="0.8"/>
<line x1="69.1" y1="328.38" x2="70.6" y2="328.38" stroke="#000" stroke-width="0.8"/>
<line x1="69.1" y1="323.87" x2="70.6" y2="323.87" stroke="#000" stroke-width="0.8"/>
<line x1="69.1" y1="320.37" x2="70.6" y2="320.37" stroke="#000" stroke-width="0.8"/>
<line x1="69.1" y1="317.51" x2="70.6" y2="317.51" stroke="#000" stroke-width="0.8"/>
<line x1="69.1" y1="315.09" x2="70.6" y2="315.09" stroke="#000" stroke-width="0.8"/>
<line x1="69.1" y1="313.00" x2="70.6" y2="313.00" stroke="#000" stroke-width="0.8"/>
<line x1="69.1" y1="311.15" x2="70.6" y2="311.15" stroke="#000" stroke-width="0.8"/>
<line x1="67.1" y1="309.50" x2="70.6" y2="309.50" stroke="#000" stroke-width="1"/>
<text x="64.00" y="311.90" font-family='"Liberation Serif", serif' font-weight="bold" font-size="7" text-anchor="end">1</text>
<line x1="69.1" y1="298.63" x2="70.6" y2="298.63" stroke="#000" stroke-width="0.8"/>
<line x1="69.1" y1="292.28" x2="70.6" y2="292.28" stroke="#000" stroke-width="0.8"/>
<line x1="69.1" y1="287.77" x2="70.6" y2="287.77" stroke="#000" stroke-width="0.8"/>
<line x1="69.1" y1="284.27" x2="70.6" y2="284.27" stroke="#000" stroke-width="0.8"/>
<line x1="69.1" y1="281.41" x2="70.6" y2="281.41" stroke="#000" stroke-width="0.8"/>
<line x1="69.1" y1="278.99" x2="70.6" y2="278.99" stroke="#000" stroke-width="0.8"/>
<line x1="69.1" y1="276.90" x2="70.6" y2="276.90" stroke="#000" stroke-width="0.8"/>
<line x1="69.1" y1="275.05" x2="70.6" y2="275.05" stroke="#000" stroke-width="0.8"/>
<line x1="67.1" y1="273.40" x2="70.6" y2="273.40" stroke="#000" stroke-width="1"/>
<text x="64.00" y="275.80" font-family='"Liberation Serif", serif' font-weight="bold" font-size="7" text-anchor="end">10</text>
<line x1="69.1" y1="262.53" x2="70.6" y2="262.53" stroke="#000" stroke-width="0.8"/>
<line x1="69.1" y1="256.18" x2="70.6" y2="256.18" stroke="#000" stroke-width="0.8"/>
<line x1="69.1" y1="251.67" x2="70.6" y2="251.67" stroke="#000" stroke-width="0.8"/>
<line x1="69.1" y1="248.17" x2="70.6" y2="248.17" stroke="#000" stroke-width="0.8"/>
<line x1="69.1" y1="245.31" x2="70.6" y2="245.31" stroke="#000" stroke-width="0.8"/>
<line x1="69.1" y1="242.89" x2="70.6" y2="242.89" stroke="#000" stroke-width="0.8"/>
<line x1="69.1" y1="240.80" x2="70.6" y2="240.80" stroke="#000" stroke-width="0.8"/>
<line x1="69.1" y1="238.95" x2="70.6" y2="238.95" stroke="#000" stroke-width="0.8"/>
<line x1="67.1" y1="237.30" x2="70.6" y2="237.30" stroke="#000" stroke-width="1"/>
<text x="64.00" y="239.70" font-family='"Liberation Serif", serif' font-weight="bold" font-size="7" text-anchor="end">100</text>
<line x1="69.1" y1="226.43" x2="70.6" y2="226.43" stroke="#000" stroke-width="0.8"/>
<line x1="69.1" y1="220.08" x2="70.6" y2="220.08" stroke="#000" stroke-width="0.8"/>
<line x1="69.1" y1="215.57" x2="70.6" y2="215.57" stroke="#000" stroke-width="0.8"/>
<line x1="69.1" y1="212.07" x2="70.6" y2="212.07" stroke="#000" stroke-width="0.8"/>
<line x1="69.1" y1="209.21" x2="70.6" y2="209.21" stroke="#000" stroke-width="0.8"/>
<line x1="69.1" y1="206.79" x2="70.6" y2="206.79" stroke="#000" stroke-width="0.8"/>
<line x1="69.1" y1="204.70" x2="70.6" y2="204.70" stroke="#000" stroke-width="0.8"/>
<line x1="69.1" y1="202.85" x2="70.6" y2="202.85" stroke="#000" stroke-width="0.8"/>
<line x1="67.1" y1="201.20" x2="70.6" y2="201.20" stroke="#000" stroke-width="1"/>
<text x="64.00" y="203.60" font-family='"Liberation Serif", serif' font-weight="bold" font-size="7" text-anchor="end">1000</text>
<line x1="67.1" y1="495.90" x2="70.6" y2="495.90" stroke="#000" stroke-width="1"/>
<text x="64.00" y="498.30" font-family='"Liberation Serif", serif' font-weight="bold" font-size="7" text-anchor="end">0.1</text>
<line x1="69.1" y1="485.03" x2="70.6" y2="485.03" stroke="#000" stroke-width="0.8"/>
<line x1="69.1" y1="478.68" x2="70.6" y2="478.68" stroke="#000" stroke-width="0.8"/>
<line x1="69.1" y1="474.17" x2="70.6" y2="474.17" stroke="#000" stroke-width="0.8"/>
<line x1="69.1" y1="470.67" x2="70.6" y2="470.67" stroke="#000" stroke-width="0.8"/>
<line x1="69.1" y1="467.81" x2="70.6" y2="467.81" stroke="#000" stroke-width="0.8"/>
<line x1="69.1" y1="465.39" x2="70.6" y2="465.39" stroke="#000" stroke-width="0.8"/>
<line x1="69.1" y1="463.30" x2="70.6" y2="463.30" stroke="#000" stroke-width="0.8"/>
<line x1="69.1" y1="461.45" x2="70.6" y2="461.45" stroke="#000" stroke-width="0.8"/>
<line x1="67.1" y1="459.80" x2="70.6" y2="459.80" stroke="#000" stroke-width="1"/>
<text x="64.00" y="462.20" font-family='"Liberation Serif", serif' font-weight="bold" font-size="7" text-anchor="end">1</text>
<line x1="69.1" y1="448.93" x2="70.6" y2="448.93" stroke="#000" stroke-width="0.8"/>
<line x1="69.1" y1="442.58" x2="70.6" y2="442.58" stroke="#000" stroke-width="0.8"/>
<line x1="69.1" y1="438.07" x2="70.6" y2="438.07" stroke="#000" stroke-width="0.8"/>
<line x1="69.1" y1="434.57" x2="70.6" y2="434.57" stroke="#000" stroke-width="0.8"/>
<line x1="69.1" y1="431.71" x2="70.6" y2="431.71" stroke="#000" stroke-width="0.8"/>
<line x1="69.1" y1="429.29" x2="70.6" y2="429.29" stroke="#000" stroke-width="0.8"/>
<line x1="69.1" y1="427.20" x2="70.6" y2="427.20" stroke="#000" stroke-width="0.8"/>
<line x1="69.1" y1="425.35" x2="70.6" y2="425.35" stroke="#000" stroke-width="0.8"/>
<line x1="67.1" y1="423.70" x2="70.6" y2="423.70" stroke="#000" stroke-width="1"/>
<text x="64.00" y="426.10" font-family='"Liberation Serif", serif' font-weight="bold" font-size="7" text-anchor="end">10</text>
<line x1="69.1" y1="412.83" x2="70.6" y2="412.83" stroke="#000" stroke-width="0.8"/>
<line x1="69.1" y1="406.48" x2="70.6" y2="406.48" stroke="#000" stroke-width="0.8"/>
<line x1="69.1" y1="401.97" x2="70.6" y2="401.97" stroke="#000" stroke-width="0.8"/>
<line x1="69.1" y1="398.47" x2="70.6" y2="398.47" stroke="#000" stroke-width="0.8"/>
<line x1="69.1" y1="395.61" x2="70.6" y2="395.61" stroke="#000" stroke-width="0.8"/>
<line x1="69.1" y1="393.19" x2="70.6" y2="393.19" stroke="#000" stroke-width="0.8"/>
<line x1="69.1" y1="391.10" x2="70.6" y2="391.10" stroke="#000" stroke-width="0.8"/>
<line x1="69.1" y1="389.25" x2="70.6" y2="389.25" stroke="#000" stroke-width="0.8"/>
<line x1="67.1" y1="387.60" x2="70.6" y2="387.60" stroke="#000" stroke-width="1"/>
<text x="64.00" y="390.00" font-family='"Liberation Serif", serif' font-weight="bold" font-size="7" text-anchor="end">100</text>
<line x1="69.1" y1="376.73" x2="70.6" y2="376.73" stroke="#000" stroke-width="0.8"/>
<line x1="69.1" y1="370.38" x2="70.6" y2="370.38" stroke="#000" stroke-width="0.8"/>
<line x1="69.1" y1="365.87" x2="70.6" y2="365.87" stroke="#000" stroke-width="0.8"/>
<line x1="69.1" y1="362.37" x2="70.6" y2="362.37" stroke="#000" stroke-width="0.8"/>
<line x1="69.1" y1="359.51" x2="70.6" y2="359.51" stroke="#000" stroke-width="0.8"/>
<line x1="69.1" y1="357.09" x2="70.6" y2="357.09" stroke="#000" stroke-width="0.8"/>
<line x1="69.1" y1="355.00" x2="70.6" y2="355.00" stroke="#000" stroke-width="0.8"/>
<line x1="69.1" y1="353.15" x2="70.6" y2="353.15" stroke="#000" stroke-width="0.8"/>
<line x1="67.1" y1="351.50" x2="70.6" y2="351.50" stroke="#000" stroke-width="1"/>
<text x="64.00" y="353.90" font-family='"Liberation Serif", serif' font-weight="bold" font-size="7" text-anchor="end">1000</text>
<line x1="71.50" y1="495.9" x2="71.50" y2="499.4" stroke="#000" stroke-width="1"/>
<text x="71.50" y="508.10" font-family='"Liberation Serif", serif' font-weight="bold" font-size="7" text-anchor="middle">0.1</text>
<line x1="82.31" y1="495.9" x2="82.31" y2="497.7" stroke="#000" stroke-width="0.8"/>
<line x1="88.63" y1="495.9" x2="88.63" y2="497.7" stroke="#000" stroke-width="0.8"/>
<line x1="93.11" y1="495.9" x2="93.11" y2="497.7" stroke="#000" stroke-width="0.8"/>
<line x1="96.59" y1="495.9" x2="96.59" y2="497.7" stroke="#000" stroke-width="0.8"/>
<line x1="99.44" y1="495.9" x2="99.44" y2="497.7" stroke="#000" stroke-width="0.8"/>
<line x1="101.84" y1="495.9" x2="101.84" y2="497.7" stroke="#000" stroke-width="0.8"/>
<line x1="103.92" y1="495.9" x2="103.92" y2="497.7" stroke="#000" stroke-width="0.8"/>
<line x1="105.76" y1="495.9" x2="105.76" y2="497.7" stroke="#000" stroke-width="0.8"/>
<line x1="107.40" y1="495.9" x2="107.40" y2="499.4" stroke="#000" stroke-width="1"/>
<text x="107.40" y="508.10" font-family='"Liberation Serif", serif' font-weight="bold" font-size="7" text-anchor="middle">1</text>
<line x1="118.21" y1="495.9" x2="118.21" y2="497.7" stroke="#000" stroke-width="0.8"/>
<line x1="124.53" y1="495.9" x2="124.53" y2="497.7" stroke="#000" stroke-width="0.8"/>
<line x1="129.01" y1="495.9" x2="129.01" y2="497.7" stroke="#000" stroke-width="0.8"/>
<line x1="132.49" y1="495.9" x2="132.49" y2="497.7" stroke="#000" stroke-width="0.8"/>
<line x1="135.34" y1="495.9" x2="135.34" y2="497.7" stroke="#000" stroke-width="0.8"/>
<line x1="137.74" y1="495.9" x2="137.74" y2="497.7" stroke="#000" stroke-width="0.8"/>
<line x1="139.82" y1="495.9" x2="139.82" y2="497.7" stroke="#000" stroke-width="0.8"/>
<line x1="141.66" y1="495.9" x2="141.66" y2="497.7" stroke="#000" stroke-width="0.8"/>
<line x1="143.30" y1="495.9" x2="143.30" y2="499.4" stroke="#000" stroke-width="1"/>
<text x="143.30" y="508.10" font-family='"Liberation Serif", serif' font-weight="bold" font-size="7" text-anchor="middle">10</text>
<line x1="154.11" y1="495.9" x2="154.11" y2="497.7" stroke="#000" stroke-width="0.8"/>
<line x1="160.43" y1="495.9" x2="160.43" y2="497.7" stroke="#000" stroke-width="0.8"/>
<line x1="164.91" y1="495.9" x2="164.91" y2="497.7" stroke="#000" stroke-width="0.8"/>
<line x1="168.39" y1="495.9" x2="168.39" y2="497.7" stroke="#000" stroke-width="0.8"/>
<line x1="171.24" y1="495.9" x2="171.24" y2="497.7" stroke="#000" stroke-width="0.8"/>
<line x1="173.64" y1="495.9" x2="173.64" y2="497.7" stroke="#000" stroke-width="0.8"/>
<line x1="175.72" y1="495.9" x2="175.72" y2="497.7" stroke="#000" stroke-width="0.8"/>
<line x1="177.56" y1="495.9" x2="177.56" y2="497.7" stroke="#000" stroke-width="0.8"/>
<line x1="179.20" y1="495.9" x2="179.20" y2="499.4" stroke="#000" stroke-width="1"/>
<text x="179.20" y="508.10" font-family='"Liberation Serif", serif' font-weight="bold" font-size="7" text-anchor="middle">100</text>
<line x1="190.01" y1="495.9" x2="190.01" y2="497.7" stroke="#000" stroke-width="0.8"/>
<line x1="196.33" y1="495.9" x2="196.33" y2="497.7" stroke="#000" stroke-width="0.8"/>
<line x1="200.81" y1="495.9" x2="200.81" y2="497.7" stroke="#000" stroke-width="0.8"/>
<line x1="204.29" y1="495.9" x2="204.29" y2="497.7" stroke="#000" stroke-width="0.8"/>
<line x1="207.14" y1="495.9" x2="207.14" y2="497.7" stroke="#000" stroke-width="0.8"/>
<line x1="209.54" y1="495.9" x2="209.54" y2="497.7" stroke="#000" stroke-width="0.8"/>
<line x1="211.62" y1="495.9" x2="211.62" y2="497.7" stroke="#000" stroke-width="0.8"/>
<line x1="213.46" y1="495.9" x2="213.46" y2="497.7" stroke="#000" stroke-width="0.8"/>
<line x1="215.10" y1="495.9" x2="215.10" y2="499.4" stroke="#000" stroke-width="1"/>
<text x="215.10" y="508.10" font-family='"Liberation Serif", serif' font-weight="bold" font-size="7" text-anchor="middle">1000</text>
<line x1="221.20" y1="495.9" x2="221.20" y2="499.4" stroke="#000" stroke-width="1"/>
<line x1="232.01" y1="495.9" x2="232.01" y2="497.7" stroke="#000" stroke-width="0.8"/>
<line x1="238.33" y1="495.9" x2="238.33" y2="497.7" stroke="#000" stroke-width="0.8"/>
<line x1="242.81" y1="495.9" x2="242.81" y2="497.7" stroke="#000" stroke-width="0.8"/>
<line x1="246.29" y1="495.9" x2="246.29" y2="497.7" stroke="#000" stroke-width="0.8"/>
<line x1="249.14" y1="495.9" x2="249.14" y2="497.7" stroke="#000" stroke-width="0.8"/>
<line x1="251.54" y1="495.9" x2="251.54" y2="497.7" stroke="#000" stroke-width="0.8"/>
<line x1="253.62" y1="495.9" x2="253.62" y2="497.7" stroke="#000" stroke-width="0.8"/>
<line x1="255.46" y1="495.9" x2="255.46" y2="497.7" stroke="#000" stroke-width="0.8"/>
<line x1="257.10" y1="495.9" x2="257.10" y2="499.4" stroke="#000" stroke-width="1"/>
<text x="257.10" y="508.10" font-family='"Liberation Serif", serif' font-weight="bold" font-size="7" text-anchor="middle">1</text>
<line x1="267.91" y1="495.9" x2="267.91" y2="497.7" stroke="#000" stroke-width="0.8"/>
<line x1="274.23" y1="495.9" x2="274.23" y2="497.7" stroke="#000" stroke-width="0.8"/>
<line x1="278.71" y1="495.9" x2="278.71" y2="497.7" stroke="#000" stroke-width="0.8"/>
<line x1="282.19" y1="495.9" x2="282.19" y2="497.7" stroke="#000" stroke-width="0.8"/>
<line x1="285.04" y1="495.9" x2="285.04" y2="497.7" stroke="#000" stroke-width="0.8"/>
<line x1="287.44" y1="495.9" x2="287.44" y2="497.7" stroke="#000" stroke-width="0.8"/>
<line x1="289.52" y1="495.9" x2="289.52" y2="497.7" stroke="#000" stroke-width="0.8"/>
<line x1="291.36" y1="495.9" x2="291.36" y2="497.7" stroke="#000" stroke-width="0.8"/>
<line x1="293.00" y1="495.9" x2="293.00" y2="499.4" stroke="#000" stroke-width="1"/>
<text x="293.00" y="508.10" font-family='"Liberation Serif", serif' font-weight="bold" font-size="7" text-anchor="middle">10</text>
<line x1="303.81" y1="495.9" x2="303.81" y2="497.7" stroke="#000" stroke-width="0.8"/>
<line x1="310.13" y1="495.9" x2="310.13" y2="497.7" stroke="#000" stroke-width="0.8"/>
<line x1="314.61" y1="495.9" x2="314.61" y2="497.7" stroke="#000" stroke-width="0.8"/>
<line x1="318.09" y1="495.9" x2="318.09" y2="497.7" stroke="#000" stroke-width="0.8"/>
<line x1="320.94" y1="495.9" x2="320.94" y2="497.7" stroke="#000" stroke-width="0.8"/>
<line x1="323.34" y1="495.9" x2="323.34" y2="497.7" stroke="#000" stroke-width="0.8"/>
<line x1="325.42" y1="495.9" x2="325.42" y2="497.7" stroke="#000" stroke-width="0.8"/>
<line x1="327.26" y1="495.9" x2="327.26" y2="497.7" stroke="#000" stroke-width="0.8"/>
<line x1="328.90" y1="495.9" x2="328.90" y2="499.4" stroke="#000" stroke-width="1"/>
<text x="328.90" y="508.10" font-family='"Liberation Serif", serif' font-weight="bold" font-size="7" text-anchor="middle">100</text>
<line x1="339.71" y1="495.9" x2="339.71" y2="497.7" stroke="#000" stroke-width="0.8"/>
<line x1="346.03" y1="495.9" x2="346.03" y2="497.7" stroke="#000" stroke-width="0.8"/>
<line x1="350.51" y1="495.9" x2="350.51" y2="497.7" stroke="#000" stroke-width="0.8"/>
<line x1="353.99" y1="495.9" x2="353.99" y2="497.7" stroke="#000" stroke-width="0.8"/>
<line x1="356.84" y1="495.9" x2="356.84" y2="497.7" stroke="#000" stroke-width="0.8"/>
<line x1="359.24" y1="495.9" x2="359.24" y2="497.7" stroke="#000" stroke-width="0.8"/>
<line x1="361.32" y1="495.9" x2="361.32" y2="497.7" stroke="#000" stroke-width="0.8"/>
<line x1="363.16" y1="495.9" x2="363.16" y2="497.7" stroke="#000" stroke-width="0.8"/>
<line x1="364.80" y1="495.9" x2="364.80" y2="499.4" stroke="#000" stroke-width="1"/>
<text x="364.80" y="508.10" font-family='"Liberation Serif", serif' font-weight="bold" font-size="7" text-anchor="middle">1000</text>
<line x1="370.10" y1="495.9" x2="370.10" y2="499.4" stroke="#000" stroke-width="1"/>
<line x1="380.91" y1="495.9" x2="380.91" y2="497.7" stroke="#000" stroke-width="0.8"/>
<line x1="387.23" y1="495.9" x2="387.23" y2="497.7" stroke="#000" stroke-width="0.8"/>
<line x1="391.71" y1="495.9" x2="391.71" y2="497.7" stroke="#000" stroke-width="0.8"/>
<line x1="395.19" y1="495.9" x2="395.19" y2="497.7" stroke="#000" stroke-width="0.8"/>
<line x1="398.04" y1="495.9" x2="398.04" y2="497.7" stroke="#000" stroke-width="0.8"/>
<line x1="400.44" y1="495.9" x2="400.44" y2="497.7" stroke="#000" stroke-width="0.8"/>
<line x1="402.52" y1="495.9" x2="402.52" y2="497.7" stroke="#000" stroke-width="0.8"/>
<line x1="404.36" y1="495.9" x2="404.36" y2="497.7" stroke="#000" stroke-width="0.8"/>
<line x1="406.00" y1="495.9" x2="406.00" y2="499.4" stroke="#000" stroke-width="1"/>
<text x="406.00" y="508.10" font-family='"Liberation Serif", serif' font-weight="bold" font-size="7" text-anchor="middle">1</text>
<line x1="416.81" y1="495.9" x2="416.81" y2="497.7" stroke="#000" stroke-width="0.8"/>
<line x1="423.13" y1="495.9" x2="423.13" y2="497.7" stroke="#000" stroke-width="0.8"/>
<line x1="427.61" y1="495.9" x2="427.61" y2="497.7" stroke="#000" stroke-width="0.8"/>
<line x1="431.09" y1="495.9" x2="431.09" y2="497.7" stroke="#000" stroke-width="0.8"/>
<line x1="433.94" y1="495.9" x2="433.94" y2="497.7" stroke="#000" stroke-width="0.8"/>
<line x1="436.34" y1="495.9" x2="436.34" y2="497.7" stroke="#000" stroke-width="0.8"/>
<line x1="438.42" y1="495.9" x2="438.42" y2="497.7" stroke="#000" stroke-width="0.8"/>
<line x1="440.26" y1="495.9" x2="440.26" y2="497.7" stroke="#000" stroke-width="0.8"/>
<line x1="441.90" y1="495.9" x2="441.90" y2="499.4" stroke="#000" stroke-width="1"/>
<text x="441.90" y="508.10" font-family='"Liberation Serif", serif' font-weight="bold" font-size="7" text-anchor="middle">10</text>
<line x1="452.71" y1="495.9" x2="452.71" y2="497.7" stroke="#000" stroke-width="0.8"/>
<line x1="459.03" y1="495.9" x2="459.03" y2="497.7" stroke="#000" stroke-width="0.8"/>
<line x1="463.51" y1="495.9" x2="463.51" y2="497.7" stroke="#000" stroke-width="0.8"/>
<line x1="466.99" y1="495.9" x2="466.99" y2="497.7" stroke="#000" stroke-width="0.8"/>
<line x1="469.84" y1="495.9" x2="469.84" y2="497.7" stroke="#000" stroke-width="0.8"/>
<line x1="472.24" y1="495.9" x2="472.24" y2="497.7" stroke="#000" stroke-width="0.8"/>
<line x1="474.32" y1="495.9" x2="474.32" y2="497.7" stroke="#000" stroke-width="0.8"/>
<line x1="476.16" y1="495.9" x2="476.16" y2="497.7" stroke="#000" stroke-width="0.8"/>
<line x1="477.80" y1="495.9" x2="477.80" y2="499.4" stroke="#000" stroke-width="1"/>
<text x="477.80" y="508.10" font-family='"Liberation Serif", serif' font-weight="bold" font-size="7" text-anchor="middle">100</text>
<line x1="488.61" y1="495.9" x2="488.61" y2="497.7" stroke="#000" stroke-width="0.8"/>
<line x1="494.93" y1="495.9" x2="494.93" y2="497.7" stroke="#000" stroke-width="0.8"/>
<line x1="499.41" y1="495.9" x2="499.41" y2="497.7" stroke="#000" stroke-width="0.8"/>
<line x1="502.89" y1="495.9" x2="502.89" y2="497.7" stroke="#000" stroke-width="0.8"/>
<line x1="505.74" y1="495.9" x2="505.74" y2="497.7" stroke="#000" stroke-width="0.8"/>
<line x1="508.14" y1="495.9" x2="508.14" y2="497.7" stroke="#000" stroke-width="0.8"/>
<line x1="510.22" y1="495.9" x2="510.22" y2="497.7" stroke="#000" stroke-width="0.8"/>
<line x1="512.06" y1="495.9" x2="512.06" y2="497.7" stroke="#000" stroke-width="0.8"/>
<line x1="513.70" y1="495.9" x2="513.70" y2="499.4" stroke="#000" stroke-width="1"/>
<text x="513.70" y="508.10" font-family='"Liberation Serif", serif' font-weight="bold" font-size="7" text-anchor="middle">1000</text>
<text x="120.8" y="526.3" font-family='"Liberation Sans", sans-serif' font-weight="bold" font-size="14.4" textLength="28.8" lengthAdjust="spacingAndGlyphs">TCR</text>
<text x="149.3" y="526.3" font-family='"Liberation Serif", serif' font-size="16" textLength="16.2" lengthAdjust="spacingAndGlyphs">&#945;&#946;</text>
<text x="272.6" y="526.4" font-family='"Liberation Sans", sans-serif' font-weight="bold" font-size="14.4" textLength="36.2" lengthAdjust="spacing">B220</text>
<text x="398.2" y="526.4" font-family='"Liberation Sans", sans-serif' font-weight="bold" font-size="14.4" textLength="86.6" lengthAdjust="spacingAndGlyphs">MAC-1&amp;GR-1</text>
<text x="0.4" y="206.6" font-family='"Liberation Sans", sans-serif' font-weight="bold" font-size="18.5">C</text>
<line x1="25.5" y1="196" x2="25.5" y2="491" stroke="#000" stroke-width="1"/>
<path d="M25.5,192 L23.2,199 L27.8,199 Z" fill="#000"/>
<path d="M25.5,496.5 L23.2,489.5 L27.8,489.5 Z" fill="#000"/>
<rect x="13" y="313" width="21" height="65" fill="#fff"/>
<text transform="translate(32.3,376.5) rotate(-90)" font-family='"Liberation Sans", sans-serif' font-weight="bold" font-size="22.6" letter-spacing="0.3">H-2kb</text>
<text transform="translate(48.7,314.2) rotate(-90)" font-family='"Liberation Sans", sans-serif' font-weight="bold" font-size="14" textLength="55.3" lengthAdjust="spacingAndGlyphs">TCD-BM</text>
<text transform="translate(48.7,252.0) rotate(-90)" font-family='"Liberation Sans", sans-serif' font-weight="bold" font-size="14" textLength="37.6" lengthAdjust="spacingAndGlyphs">alone</text>
<text transform="translate(48.7,492.8) rotate(-90)" font-family='"Liberation Sans", sans-serif' font-weight="bold" font-size="14" textLength="53.8" lengthAdjust="spacingAndGlyphs">TCD-BM</text>
<text transform="translate(48.7,434.2) rotate(-90)" font-family='"Liberation Sans", sans-serif' font-weight="bold" font-size="14" textLength="9.2" lengthAdjust="spacingAndGlyphs">+</text>
<text transform="translate(48.7,415.1) rotate(-90)" font-family='"Liberation Sans", sans-serif' font-weight="bold" font-size="14" textLength="53.2" lengthAdjust="spacingAndGlyphs">BM-CD8</text>
<text transform="translate(48.7,357.1) rotate(-90)" font-family='"Liberation Sans", sans-serif' font-weight="bold" font-size="14" textLength="9.8" lengthAdjust="spacingAndGlyphs">T</text>
</svg>
</body></html>
